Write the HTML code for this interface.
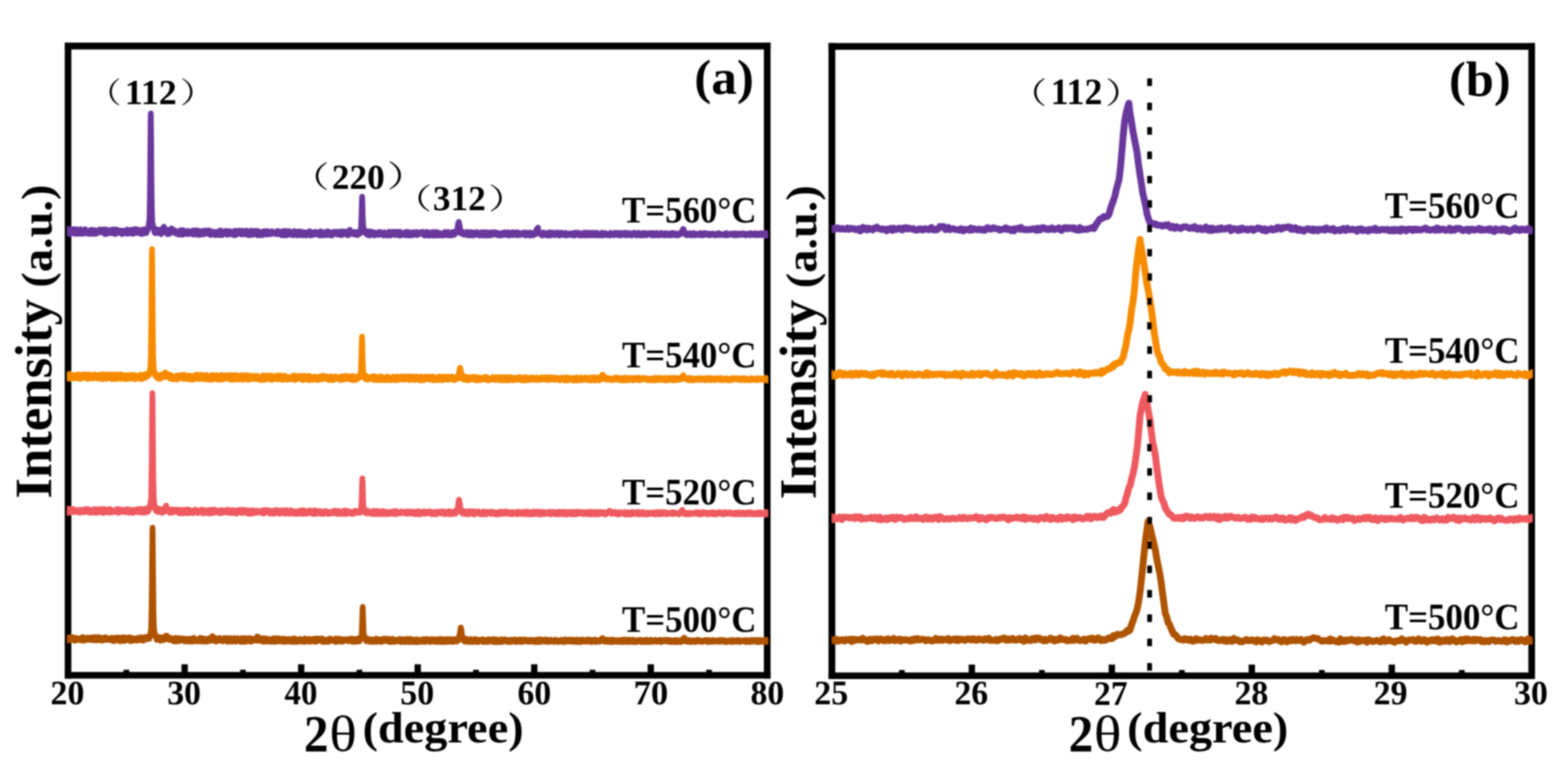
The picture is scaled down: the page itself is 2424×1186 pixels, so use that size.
<!DOCTYPE html>
<html lang="en"><head><meta charset="utf-8"><title>XRD patterns</title>
<style>html,body{margin:0;padding:0;background:#fff;overflow:hidden}svg{display:block}text{font-family:"Liberation Serif","Noto Serif CJK SC",serif;fill:#000}.b{font-weight:bold}.r{font-weight:normal}.cjk{font-family:"Noto Serif CJK SC","Liberation Serif",serif;font-weight:normal}.c{fill:none;stroke-linejoin:round;stroke-linecap:butt}</style></head><body>
<svg width="2424" height="1186" viewBox="0 0 2424 1186">
<rect x="0" y="0" width="2424" height="1186" fill="#fff"/>
<defs><filter id="soft" x="0" y="0" width="2424" height="1186" filterUnits="userSpaceOnUse"><feGaussianBlur stdDeviation="1.1"/></filter></defs>
<g filter="url(#soft)">
<g>
<rect x="100.10" y="65.90" width="1091.10" height="10.60" fill="#000"/>
<rect x="100.10" y="1039.10" width="1091.10" height="10.20" fill="#000"/>
<rect x="100.10" y="65.90" width="10.20" height="983.40" fill="#000"/>
<rect x="1180.90" y="65.90" width="10.30" height="983.40" fill="#000"/>
</g>
<g>
<rect x="1280.80" y="66.60" width="1092.20" height="10.40" fill="#000"/>
<rect x="1280.80" y="1039.80" width="1092.20" height="10.20" fill="#000"/>
<rect x="1280.80" y="66.60" width="10.50" height="983.40" fill="#000"/>
<rect x="2362.70" y="66.60" width="10.30" height="983.40" fill="#000"/>
</g>
<g>
<rect x="280.55" y="1027.20" width="9.80" height="12.80" fill="#000"/>
<rect x="460.70" y="1027.20" width="9.80" height="12.80" fill="#000"/>
<rect x="640.85" y="1027.20" width="9.80" height="12.80" fill="#000"/>
<rect x="821.00" y="1027.20" width="9.80" height="12.80" fill="#000"/>
<rect x="1001.15" y="1027.20" width="9.80" height="12.80" fill="#000"/>
<rect x="190.97" y="1035.60" width="8.80" height="4.40" fill="#000"/>
<rect x="371.13" y="1035.60" width="8.80" height="4.40" fill="#000"/>
<rect x="551.27" y="1035.60" width="8.80" height="4.40" fill="#000"/>
<rect x="731.42" y="1035.60" width="8.80" height="4.40" fill="#000"/>
<rect x="911.58" y="1035.60" width="8.80" height="4.40" fill="#000"/>
<rect x="1091.72" y="1035.60" width="8.80" height="4.40" fill="#000"/>
<rect x="1497.50" y="1027.60" width="9.80" height="12.90" fill="#000"/>
<rect x="1713.90" y="1027.60" width="9.80" height="12.90" fill="#000"/>
<rect x="1930.30" y="1027.60" width="9.80" height="12.90" fill="#000"/>
<rect x="2146.70" y="1027.60" width="9.80" height="12.90" fill="#000"/>
<rect x="1389.80" y="1036.00" width="8.80" height="4.50" fill="#000"/>
<rect x="1606.20" y="1036.00" width="8.80" height="4.50" fill="#000"/>
<rect x="1822.60" y="1036.00" width="8.80" height="4.50" fill="#000"/>
<rect x="2039.00" y="1036.00" width="8.80" height="4.50" fill="#000"/>
<rect x="2255.40" y="1036.00" width="8.80" height="4.50" fill="#000"/>
</g>
<defs><clipPath id="ca"><rect x="104.0" y="60" width="1083.0" height="1000"/></clipPath><clipPath id="cb"><rect x="1286.2" y="60" width="1082.7" height="1000"/></clipPath></defs>
<g clip-path="url(#ca)" stroke-width="8.7">
<polyline class="c" stroke="#AE5300" points="100.0,989.9 100.4,987.5 100.8,989.8 101.2,990.9 101.6,986.5 102.0,987.3 102.4,987.3 102.8,989.8 103.2,986.5 103.6,987.4 104.0,990.2 104.4,989.7 104.8,989.8 105.2,986.4 105.6,988.7 106.0,987.0 106.4,989.6 106.8,988.9 107.2,989.2 107.6,987.7 108.0,988.2 108.4,988.7 108.8,987.6 109.2,988.6 109.6,986.3 110.0,985.9 110.4,985.0 110.8,987.8 111.2,989.5 111.6,988.8 112.0,985.0 112.4,988.7 112.8,988.1 113.2,987.7 113.6,988.4 114.0,989.0 114.4,990.4 114.8,990.2 115.2,990.9 115.6,989.1 116.0,987.0 116.4,990.4 116.8,986.0 117.2,989.5 117.6,986.3 118.0,987.1 118.4,990.2 118.8,987.0 119.2,989.9 119.6,989.2 120.0,987.8 120.4,989.4 120.8,989.1 121.2,988.3 121.6,987.0 122.0,989.5 122.4,987.5 122.8,988.0 123.2,988.9 123.6,987.9 124.0,988.5 124.4,988.6 124.8,988.6 125.2,988.3 125.6,990.5 126.0,987.3 126.4,987.4 126.8,986.0 127.2,985.0 127.6,989.3 128.0,988.9 128.4,990.6 128.8,985.6 129.2,986.8 129.6,987.1 130.0,991.0 130.4,989.7 130.8,987.8 131.2,988.1 131.6,988.7 132.0,986.2 132.4,988.7 132.8,986.3 133.2,988.3 133.6,989.3 134.0,988.6 134.4,986.9 134.8,987.6 135.2,989.5 135.6,987.2 136.0,985.8 136.4,987.6 136.8,987.2 137.2,987.8 137.6,988.1 138.0,987.5 138.4,987.5 138.8,989.7 139.2,989.1 139.6,989.7 140.0,988.2 140.4,987.5 140.8,988.6 141.2,985.6 141.6,986.2 142.0,989.5 142.4,987.3 142.8,987.0 143.2,986.2 143.6,988.9 144.0,986.1 144.4,990.2 144.8,988.5 145.2,985.1 145.6,987.2 146.0,986.4 146.4,989.0 146.8,989.0 147.2,987.3 147.6,987.0 148.0,988.9 148.4,987.0 148.8,990.4 149.2,987.0 149.6,988.7 150.0,985.2 150.4,988.8 150.8,987.0 151.2,988.6 151.6,990.0 152.0,987.8 152.4,985.2 152.8,985.2 153.2,988.3 153.6,986.6 154.0,986.1 154.4,989.9 154.8,987.7 155.2,989.7 155.6,989.7 156.0,987.4 156.4,988.3 156.8,986.1 157.2,988.8 157.6,988.0 158.0,990.8 158.4,989.5 158.8,987.8 159.2,986.9 159.6,987.7 160.0,988.1 160.4,989.4 160.8,989.8 161.2,986.0 161.6,986.3 162.0,988.7 162.4,986.0 162.8,987.9 163.2,985.2 163.6,987.5 164.0,987.3 164.4,987.6 164.8,987.0 165.2,988.9 165.6,989.6 166.0,989.4 166.4,987.6 166.8,987.6 167.2,987.0 167.6,986.9 168.0,987.8 168.4,987.8 168.8,987.8 169.2,988.5 169.6,989.6 170.0,987.0 170.4,987.7 170.8,989.1 171.2,988.5 171.6,986.8 172.0,986.2 172.4,989.3 172.8,986.4 173.2,988.9 173.6,986.5 174.0,991.2 174.4,986.4 174.8,991.3 175.2,989.5 175.6,990.6 176.0,990.3 176.4,989.1 176.8,987.7 177.2,991.3 177.6,987.6 178.0,988.6 178.4,986.0 178.8,988.3 179.2,989.3 179.6,987.1 180.0,988.5 180.4,987.8 180.8,987.7 181.2,989.4 181.6,989.8 182.0,987.1 182.4,985.4 182.8,989.1 183.2,986.5 183.6,987.5 184.0,986.9 184.4,990.0 184.8,991.3 185.2,987.3 185.6,991.3 186.0,988.6 186.4,987.8 186.8,990.2 187.2,991.3 187.6,987.9 188.0,987.8 188.4,991.3 188.8,989.8 189.2,985.4 189.6,988.1 190.0,987.0 190.4,987.3 190.8,988.5 191.2,987.5 191.6,987.7 192.0,991.4 192.4,985.6 192.8,988.6 193.2,989.4 193.6,985.9 194.0,986.4 194.4,986.4 194.8,989.8 195.2,986.5 195.6,989.2 196.0,986.3 196.4,986.2 196.8,989.1 197.2,989.8 197.6,986.1 198.0,986.6 198.4,988.8 198.8,986.7 199.2,986.4 199.6,986.5 200.0,988.9 200.4,985.4 200.8,991.3 201.2,991.1 201.6,990.5 202.0,988.0 202.4,987.2 202.8,989.2 203.2,986.4 203.6,991.4 204.0,987.3 204.4,990.4 204.8,989.7 205.2,987.6 205.6,987.9 206.0,986.9 206.4,988.5 206.8,989.4 207.2,988.4 207.6,987.7 208.0,988.4 208.4,990.5 208.8,989.9 209.2,989.2 209.6,987.3 210.0,987.5 210.4,989.2 210.8,987.7 211.2,987.1 211.6,990.7 212.0,988.5 212.4,988.7 212.8,987.3 213.2,988.8 213.6,989.7 214.0,988.8 214.4,985.8 214.8,987.5 215.2,989.2 215.6,988.7 216.0,990.0 216.4,987.7 216.8,988.1 217.2,989.8 217.6,988.1 218.0,989.7 218.4,985.3 218.8,986.5 219.2,989.7 219.6,989.5 220.0,989.4 220.4,989.7 220.8,989.7 221.2,986.2 221.6,990.8 222.0,989.5 222.4,986.0 222.8,985.7 223.2,988.6 223.6,986.7 224.0,988.7 224.4,987.3 224.8,985.2 225.2,986.2 225.6,987.0 226.0,987.5 226.4,988.8 226.8,986.2 227.2,988.1 227.6,986.8 228.0,986.8 228.4,984.0 228.8,985.8 229.2,983.9 229.6,987.3 230.0,987.7 230.4,986.1 230.8,988.0 231.2,984.7 231.6,984.9 232.0,981.8 232.4,981.6 232.8,977.2 233.2,975.1 233.6,971.4 234.0,957.9 234.4,935.9 234.8,902.0 235.2,858.3 235.6,821.7 235.8,815.9 236.0,821.7 236.4,858.3 236.8,901.8 237.2,936.5 237.6,958.8 238.0,971.6 238.4,972.8 238.8,976.9 239.2,981.2 239.6,979.9 240.0,984.3 240.4,982.8 240.8,984.7 241.2,983.4 241.6,984.3 242.0,989.4 242.4,985.9 242.8,989.2 243.2,986.8 243.6,988.2 244.0,985.8 244.4,988.2 244.8,986.5 245.2,984.8 245.6,984.9 246.0,987.5 246.4,988.9 246.8,986.5 247.2,986.0 247.6,986.9 248.0,990.8 248.4,985.3 248.8,989.2 249.2,990.1 249.6,985.8 250.0,986.5 250.4,987.5 250.8,987.0 251.2,989.8 251.6,988.3 252.0,987.2 252.4,988.7 252.8,990.0 253.2,987.0 253.6,985.8 254.0,988.2 254.4,988.9 254.8,987.8 255.2,985.6 255.6,983.2 256.0,984.3 256.4,983.5 256.8,983.7 257.2,982.9 257.6,985.4 258.0,985.9 258.4,983.1 258.8,987.4 259.2,985.2 259.6,987.7 260.0,987.7 260.4,989.1 260.8,987.6 261.2,988.0 261.6,987.8 262.0,987.8 262.4,986.2 262.8,989.6 263.2,987.7 263.6,989.4 264.0,988.7 264.4,989.5 264.8,989.8 265.2,986.5 265.6,988.6 266.0,989.1 266.4,987.6 266.8,987.7 267.2,989.5 267.6,991.0 268.0,989.8 268.4,990.1 268.8,989.4 269.2,991.9 269.6,988.9 270.0,990.4 270.4,991.9 270.8,989.5 271.2,988.9 271.6,986.2 272.0,986.1 272.4,991.9 272.8,989.0 273.2,987.3 273.6,988.1 274.0,987.0 274.4,988.9 274.8,987.8 275.2,989.9 275.6,991.5 276.0,989.8 276.4,989.0 276.8,989.0 277.2,991.3 277.6,986.7 278.0,987.3 278.4,988.0 278.8,986.9 279.2,989.9 279.6,988.3 280.0,987.3 280.4,989.9 280.8,988.8 281.2,989.7 281.6,989.0 282.0,988.1 282.4,987.2 282.8,989.8 283.2,987.4 283.6,990.8 284.0,989.5 284.4,989.0 284.8,987.6 285.2,991.9 285.6,988.6 286.0,990.0 286.4,987.9 286.8,991.1 287.2,989.8 287.6,990.9 288.0,990.5 288.4,988.9 288.8,987.6 289.2,989.2 289.6,988.0 290.0,988.5 290.4,992.1 290.8,990.8 291.2,989.7 291.6,990.3 292.0,990.7 292.4,989.6 292.8,989.1 293.2,989.4 293.6,990.1 294.0,992.1 294.4,987.3 294.8,989.3 295.2,988.3 295.6,992.1 296.0,988.4 296.4,991.4 296.8,990.3 297.2,990.1 297.6,991.1 298.0,990.0 298.4,988.8 298.8,992.1 299.2,987.3 299.6,986.2 300.0,988.0 300.4,990.5 300.8,988.2 301.2,989.5 301.6,991.0 302.0,990.5 302.4,990.1 302.8,991.3 303.2,989.5 303.6,991.2 304.0,989.8 304.4,992.0 304.8,991.3 305.2,989.6 305.6,991.4 306.0,991.0 306.4,990.9 306.8,990.1 307.2,987.5 307.6,988.6 308.0,991.1 308.4,991.7 308.8,986.9 309.2,987.9 309.6,986.2 310.0,987.2 310.4,990.6 310.8,988.5 311.2,990.4 311.6,992.0 312.0,986.5 312.4,989.7 312.8,990.1 313.2,990.3 313.6,991.3 314.0,991.6 314.4,990.6 314.8,988.0 315.2,991.6 315.6,992.2 316.0,987.7 316.4,989.4 316.8,990.2 317.2,989.0 317.6,990.0 318.0,990.2 318.4,991.6 318.8,989.1 319.2,989.4 319.6,992.3 320.0,991.5 320.4,988.9 320.8,987.6 321.2,989.6 321.6,990.6 322.0,989.2 322.4,987.3 322.8,987.5 323.2,988.4 323.6,989.6 324.0,990.0 324.4,991.3 324.8,988.0 325.2,987.5 325.6,985.5 326.0,986.3 326.4,987.1 326.8,986.4 327.2,986.1 327.6,986.5 328.0,985.3 328.4,983.6 328.8,986.8 329.2,987.5 329.6,986.1 330.0,990.9 330.4,985.4 330.8,986.2 331.2,988.1 331.6,988.3 332.0,987.7 332.4,989.8 332.8,991.4 333.2,990.4 333.6,989.8 334.0,992.2 334.4,986.8 334.8,989.1 335.2,989.6 335.6,988.9 336.0,989.2 336.4,989.1 336.8,988.3 337.2,987.4 337.6,987.6 338.0,988.9 338.4,990.2 338.8,990.3 339.2,990.7 339.6,986.4 340.0,987.8 340.4,987.4 340.8,989.4 341.2,989.4 341.6,988.7 342.0,991.1 342.4,988.6 342.8,989.6 343.2,990.4 343.6,990.2 344.0,988.9 344.4,991.8 344.8,990.7 345.2,991.1 345.6,989.8 346.0,989.8 346.4,988.1 346.8,986.4 347.2,987.5 347.6,986.7 348.0,989.4 348.4,986.9 348.8,988.5 349.2,987.8 349.6,989.4 350.0,989.1 350.4,991.8 350.8,991.0 351.2,992.2 351.6,989.6 352.0,986.5 352.4,991.2 352.8,992.4 353.2,988.8 353.6,991.9 354.0,989.2 354.4,989.7 354.8,989.3 355.2,988.4 355.6,988.7 356.0,986.5 356.4,989.8 356.8,989.7 357.2,990.7 357.6,989.4 358.0,990.2 358.4,992.4 358.8,991.2 359.2,989.3 359.6,989.9 360.0,989.5 360.4,991.7 360.8,988.6 361.2,991.3 361.6,990.2 362.0,986.5 362.4,990.3 362.8,988.5 363.2,987.9 363.6,989.5 364.0,990.0 364.4,992.4 364.8,989.6 365.2,988.0 365.6,989.3 366.0,990.3 366.4,987.9 366.8,989.1 367.2,986.7 367.6,987.4 368.0,988.8 368.4,990.8 368.8,988.0 369.2,988.1 369.6,989.4 370.0,987.8 370.4,988.6 370.8,988.0 371.2,992.5 371.6,988.7 372.0,991.9 372.4,989.8 372.8,992.5 373.2,987.8 373.6,989.8 374.0,986.6 374.4,991.8 374.8,990.6 375.2,988.9 375.6,992.5 376.0,992.5 376.4,992.2 376.8,992.3 377.2,989.7 377.6,988.2 378.0,987.0 378.4,991.4 378.8,986.6 379.2,989.2 379.6,992.5 380.0,990.2 380.4,987.4 380.8,988.1 381.2,991.8 381.6,987.8 382.0,988.8 382.4,987.2 382.8,989.5 383.2,988.5 383.6,991.3 384.0,987.9 384.4,988.8 384.8,986.7 385.2,991.8 385.6,991.7 386.0,989.1 386.4,989.8 386.8,990.4 387.2,991.4 387.6,986.8 388.0,988.0 388.4,992.5 388.8,991.6 389.2,990.6 389.6,989.7 390.0,991.0 390.4,991.1 390.8,991.1 391.2,987.8 391.6,989.7 392.0,990.3 392.4,990.1 392.8,987.8 393.2,989.2 393.6,987.9 394.0,988.9 394.4,989.9 394.8,990.4 395.2,990.3 395.6,990.8 396.0,989.1 396.4,986.3 396.8,988.1 397.2,986.7 397.6,984.1 398.0,985.7 398.4,987.4 398.8,988.5 399.2,986.9 399.6,985.1 400.0,987.9 400.4,987.2 400.8,991.0 401.2,987.0 401.6,990.8 402.0,989.1 402.4,990.2 402.8,988.4 403.2,990.5 403.6,989.6 404.0,989.3 404.4,987.8 404.8,988.7 405.2,986.8 405.6,990.5 406.0,989.2 406.4,992.2 406.8,987.1 407.2,992.4 407.6,990.4 408.0,988.9 408.4,990.5 408.8,987.5 409.2,987.3 409.6,991.8 410.0,986.8 410.4,989.7 410.8,992.0 411.2,989.9 411.6,992.0 412.0,989.3 412.4,988.5 412.8,991.7 413.2,991.2 413.6,989.6 414.0,992.1 414.4,987.8 414.8,991.5 415.2,989.0 415.6,990.1 416.0,989.9 416.4,990.0 416.8,990.6 417.2,992.1 417.6,992.1 418.0,989.9 418.4,989.9 418.8,988.1 419.2,992.5 419.6,991.3 420.0,988.7 420.4,990.1 420.8,992.3 421.2,988.6 421.6,990.2 422.0,989.8 422.4,989.3 422.8,989.9 423.2,986.8 423.6,991.4 424.0,989.0 424.4,990.0 424.8,987.4 425.2,992.6 425.6,990.8 426.0,986.9 426.4,988.7 426.8,989.2 427.2,988.1 427.6,987.5 428.0,987.5 428.4,988.3 428.8,990.0 429.2,990.1 429.6,991.9 430.0,989.5 430.4,986.9 430.8,989.5 431.2,991.6 431.6,987.8 432.0,990.0 432.4,990.3 432.8,988.0 433.2,989.4 433.6,988.0 434.0,992.2 434.4,990.8 434.8,989.8 435.2,990.9 435.6,990.9 436.0,988.3 436.4,987.5 436.8,987.4 437.2,987.6 437.6,991.1 438.0,991.6 438.4,992.3 438.8,987.5 439.2,989.8 439.6,991.8 440.0,992.6 440.4,989.2 440.8,989.1 441.2,989.1 441.6,990.5 442.0,991.1 442.4,991.4 442.8,989.0 443.2,992.2 443.6,988.1 444.0,990.8 444.4,992.1 444.8,991.7 445.2,990.5 445.6,989.2 446.0,989.7 446.4,988.6 446.8,988.7 447.2,988.2 447.6,991.7 448.0,987.9 448.4,988.7 448.8,992.1 449.2,990.5 449.6,992.6 450.0,992.4 450.4,990.6 450.8,991.7 451.2,988.0 451.6,990.3 452.0,992.6 452.4,990.7 452.8,990.4 453.2,992.6 453.6,991.3 454.0,987.5 454.4,991.8 454.8,987.0 455.2,990.8 455.6,990.6 456.0,989.2 456.4,988.6 456.8,989.2 457.2,992.6 457.6,988.1 458.0,988.6 458.4,989.6 458.8,989.3 459.2,992.6 459.6,990.5 460.0,989.7 460.4,991.2 460.8,990.5 461.2,989.7 461.6,989.5 462.0,989.7 462.4,989.7 462.8,989.3 463.2,989.9 463.6,992.1 464.0,987.9 464.4,990.6 464.8,991.2 465.2,989.8 465.6,989.9 466.0,991.9 466.4,989.3 466.8,991.0 467.2,990.9 467.6,990.3 468.0,990.4 468.4,991.4 468.8,992.4 469.2,988.2 469.6,991.7 470.0,988.9 470.4,988.6 470.8,990.3 471.2,990.3 471.6,987.2 472.0,992.6 472.4,989.3 472.8,991.1 473.2,990.7 473.6,991.0 474.0,990.2 474.4,990.5 474.8,990.1 475.2,989.5 475.6,991.8 476.0,990.3 476.4,990.6 476.8,989.1 477.2,989.0 477.6,990.3 478.0,987.7 478.4,992.4 478.8,989.4 479.2,989.5 479.6,989.2 480.0,990.2 480.4,990.9 480.8,991.2 481.2,988.9 481.6,988.2 482.0,989.8 482.4,989.8 482.8,988.8 483.2,992.0 483.6,988.4 484.0,988.6 484.4,991.5 484.8,989.4 485.2,989.7 485.6,988.6 486.0,988.0 486.4,988.8 486.8,987.3 487.2,991.2 487.6,990.5 488.0,992.7 488.4,989.9 488.8,989.1 489.2,991.6 489.6,989.2 490.0,991.6 490.4,989.2 490.8,987.2 491.2,989.5 491.6,989.5 492.0,990.8 492.4,989.3 492.8,990.4 493.2,990.4 493.6,988.6 494.0,988.2 494.4,988.8 494.8,987.4 495.2,990.1 495.6,991.0 496.0,989.5 496.4,989.0 496.8,988.1 497.2,991.0 497.6,991.7 498.0,987.2 498.4,992.7 498.8,992.4 499.2,989.2 499.6,990.0 500.0,990.2 500.4,990.6 500.8,989.4 501.2,990.6 501.6,991.0 502.0,992.7 502.4,989.9 502.8,989.0 503.2,991.6 503.6,990.0 504.0,990.2 504.4,990.1 504.8,989.4 505.2,989.3 505.6,989.3 506.0,988.8 506.4,989.3 506.8,992.7 507.2,989.9 507.6,988.8 508.0,988.5 508.4,991.9 508.8,989.1 509.2,990.3 509.6,987.3 510.0,987.3 510.4,990.4 510.8,987.4 511.2,990.4 511.6,991.4 512.0,988.7 512.4,989.2 512.8,989.3 513.2,988.9 513.6,989.4 514.0,989.3 514.4,989.6 514.8,990.1 515.2,990.8 515.6,990.7 516.0,990.1 516.4,988.8 516.8,990.8 517.2,991.2 517.6,990.2 518.0,989.4 518.4,992.7 518.8,987.3 519.2,991.0 519.6,990.4 520.0,992.3 520.4,992.7 520.8,991.0 521.2,989.3 521.6,990.9 522.0,988.3 522.4,990.2 522.8,988.9 523.2,990.8 523.6,987.4 524.0,989.5 524.4,990.3 524.8,989.7 525.2,989.5 525.6,988.9 526.0,989.7 526.4,992.3 526.8,989.2 527.2,988.1 527.6,988.5 528.0,989.4 528.4,991.1 528.8,989.6 529.2,991.2 529.6,992.2 530.0,988.7 530.4,990.4 530.8,989.6 531.2,991.5 531.6,991.3 532.0,990.6 532.4,988.4 532.8,989.5 533.2,989.9 533.6,989.9 534.0,989.1 534.4,990.4 534.8,990.7 535.2,990.5 535.6,988.9 536.0,989.5 536.4,988.3 536.8,988.9 537.2,991.0 537.6,989.7 538.0,989.8 538.4,991.6 538.8,989.2 539.2,990.0 539.6,987.8 540.0,991.4 540.4,989.8 540.8,991.2 541.2,991.2 541.6,990.0 542.0,990.9 542.4,987.9 542.8,989.2 543.2,987.3 543.6,991.5 544.0,990.9 544.4,992.1 544.8,992.0 545.2,992.4 545.6,989.7 546.0,987.8 546.4,989.4 546.8,992.6 547.2,990.8 547.6,991.7 548.0,991.1 548.4,990.9 548.8,989.5 549.2,988.3 549.6,991.3 550.0,988.6 550.4,992.4 550.8,990.7 551.2,990.9 551.6,989.9 552.0,987.3 552.4,988.5 552.8,991.2 553.2,987.8 553.6,987.8 554.0,991.8 554.4,986.8 554.8,989.3 555.2,989.9 555.6,991.8 556.0,990.6 556.4,989.5 556.8,985.9 557.2,987.8 557.6,985.1 558.0,987.4 558.4,983.5 558.8,984.5 559.2,978.8 559.6,968.0 560.0,955.7 560.4,942.5 560.7,938.3 560.8,938.8 561.2,948.6 561.6,962.8 562.0,973.3 562.4,981.4 562.8,983.5 563.2,988.2 563.6,988.6 564.0,985.3 564.4,988.0 564.8,988.6 565.2,988.9 565.6,989.9 566.0,991.3 566.4,991.7 566.8,986.9 567.2,990.9 567.6,987.0 568.0,991.3 568.4,990.4 568.8,988.6 569.2,989.1 569.6,989.2 570.0,991.7 570.4,989.1 570.8,989.3 571.2,990.6 571.6,992.5 572.0,989.1 572.4,990.4 572.8,989.0 573.2,991.6 573.6,988.3 574.0,990.7 574.4,990.7 574.8,989.5 575.2,991.8 575.6,992.7 576.0,990.1 576.4,990.6 576.8,990.4 577.2,991.9 577.6,991.4 578.0,990.3 578.4,990.1 578.8,989.0 579.2,989.8 579.6,990.2 580.0,992.7 580.4,991.5 580.8,987.5 581.2,989.4 581.6,992.0 582.0,991.9 582.4,987.6 582.8,990.0 583.2,992.5 583.6,989.1 584.0,989.6 584.4,990.3 584.8,988.7 585.2,991.8 585.6,990.5 586.0,990.5 586.4,989.2 586.8,991.8 587.2,989.7 587.6,989.0 588.0,990.0 588.4,988.3 588.8,989.4 589.2,992.8 589.6,989.0 590.0,988.9 590.4,990.2 590.8,990.7 591.2,990.8 591.6,990.6 592.0,987.8 592.4,989.5 592.8,987.6 593.2,991.3 593.6,990.8 594.0,991.5 594.4,988.0 594.8,987.6 595.2,990.3 595.6,988.8 596.0,988.5 596.4,989.0 596.8,988.0 597.2,987.7 597.6,990.8 598.0,990.7 598.4,991.4 598.8,990.7 599.2,990.4 599.6,990.9 600.0,989.8 600.4,990.4 600.8,990.0 601.2,987.7 601.6,990.8 602.0,992.8 602.4,992.5 602.8,989.9 603.2,990.8 603.6,990.6 604.0,992.8 604.4,992.7 604.8,989.1 605.2,989.1 605.6,989.6 606.0,989.4 606.4,992.5 606.8,987.7 607.2,988.6 607.6,988.2 608.0,989.3 608.4,991.2 608.8,988.7 609.2,991.5 609.6,992.7 610.0,990.5 610.4,992.1 610.8,990.0 611.2,990.8 611.6,989.9 612.0,991.9 612.4,990.8 612.8,991.3 613.2,991.6 613.6,991.8 614.0,988.9 614.4,990.7 614.8,989.3 615.2,989.7 615.6,990.3 616.0,991.2 616.4,990.3 616.8,990.0 617.2,992.2 617.6,991.0 618.0,987.8 618.4,990.9 618.8,989.7 619.2,991.3 619.6,991.5 620.0,992.8 620.4,989.8 620.8,991.6 621.2,990.1 621.6,989.4 622.0,988.1 622.4,990.8 622.8,992.5 623.2,990.0 623.6,991.9 624.0,990.5 624.4,991.6 624.8,990.1 625.2,991.2 625.6,988.9 626.0,991.4 626.4,992.9 626.8,992.0 627.2,989.6 627.6,987.8 628.0,990.7 628.4,988.7 628.8,990.2 629.2,991.8 629.6,987.8 630.0,990.0 630.4,990.1 630.8,991.5 631.2,991.0 631.6,992.9 632.0,991.0 632.4,991.4 632.8,987.8 633.2,990.4 633.6,989.9 634.0,990.3 634.4,991.9 634.8,988.6 635.2,987.9 635.6,992.9 636.0,990.2 636.4,989.8 636.8,992.5 637.2,991.6 637.6,990.7 638.0,990.9 638.4,991.5 638.8,989.1 639.2,990.6 639.6,992.9 640.0,991.3 640.4,990.9 640.8,992.9 641.2,990.8 641.6,992.9 642.0,991.0 642.4,990.2 642.8,991.1 643.2,990.9 643.6,988.5 644.0,992.9 644.4,991.3 644.8,992.9 645.2,989.4 645.6,990.0 646.0,988.7 646.4,990.3 646.8,991.4 647.2,992.9 647.6,989.9 648.0,990.0 648.4,991.9 648.8,991.3 649.2,989.6 649.6,989.9 650.0,989.6 650.4,992.3 650.8,989.7 651.2,990.0 651.6,992.2 652.0,989.7 652.4,992.0 652.8,988.5 653.2,989.6 653.6,992.5 654.0,991.4 654.4,989.2 654.8,988.8 655.2,988.2 655.6,991.0 656.0,990.1 656.4,991.0 656.8,990.4 657.2,992.9 657.6,992.3 658.0,988.3 658.4,990.9 658.8,988.7 659.2,990.8 659.6,990.1 660.0,990.9 660.4,990.0 660.8,988.0 661.2,991.4 661.6,988.0 662.0,989.2 662.4,989.4 662.8,990.8 663.2,988.8 663.6,990.3 664.0,990.6 664.4,992.9 664.8,989.6 665.2,990.9 665.6,991.5 666.0,990.3 666.4,990.8 666.8,991.9 667.2,989.6 667.6,988.0 668.0,990.1 668.4,991.0 668.8,991.3 669.2,991.3 669.6,992.2 670.0,990.6 670.4,989.7 670.8,988.9 671.2,988.7 671.6,991.9 672.0,989.7 672.4,989.4 672.8,992.7 673.2,988.6 673.6,991.8 674.0,989.1 674.4,989.8 674.8,989.8 675.2,991.1 675.6,990.0 676.0,991.8 676.4,989.6 676.8,992.9 677.2,990.0 677.6,988.0 678.0,989.1 678.4,989.1 678.8,990.9 679.2,988.5 679.6,992.2 680.0,989.2 680.4,989.8 680.8,992.0 681.2,988.0 681.6,992.9 682.0,989.2 682.4,988.0 682.8,992.7 683.2,990.2 683.6,988.0 684.0,991.4 684.4,992.8 684.8,992.8 685.2,991.4 685.6,989.1 686.0,989.7 686.4,991.7 686.8,991.1 687.2,990.1 687.6,992.6 688.0,988.6 688.4,992.9 688.8,988.9 689.2,989.8 689.6,990.4 690.0,991.7 690.4,992.3 690.8,988.2 691.2,989.1 691.6,989.5 692.0,990.3 692.4,989.3 692.8,988.9 693.2,992.7 693.6,991.5 694.0,990.5 694.4,991.8 694.8,990.1 695.2,988.2 695.6,988.0 696.0,991.4 696.4,990.4 696.8,990.3 697.2,989.0 697.6,990.7 698.0,990.8 698.4,992.4 698.8,992.3 699.2,989.5 699.6,992.8 700.0,991.8 700.4,992.6 700.8,990.1 701.2,991.9 701.6,988.1 702.0,992.1 702.4,989.2 702.8,990.9 703.2,989.3 703.6,990.2 704.0,990.3 704.4,988.3 704.8,990.3 705.2,991.5 705.6,990.1 706.0,991.6 706.4,992.2 706.8,989.9 707.2,991.6 707.6,989.7 708.0,987.5 708.4,989.9 708.8,986.5 709.2,987.5 709.6,988.6 710.0,983.6 710.4,980.8 710.8,979.2 711.2,977.3 711.6,973.6 712.0,971.2 712.4,970.2 712.4,970.2 712.8,971.2 713.2,973.6 713.6,975.5 714.0,981.8 714.4,982.9 714.8,984.6 715.2,983.9 715.6,987.0 716.0,988.1 716.4,990.4 716.8,989.4 717.2,987.9 717.6,987.6 718.0,991.0 718.4,988.2 718.8,992.3 719.2,990.4 719.6,989.3 720.0,988.9 720.4,992.2 720.8,990.0 721.2,990.5 721.6,987.9 722.0,990.5 722.4,988.9 722.8,988.0 723.2,990.1 723.6,990.2 724.0,988.6 724.4,992.8 724.8,988.8 725.2,989.2 725.6,990.9 726.0,991.0 726.4,990.9 726.8,990.1 727.2,992.7 727.6,989.4 728.0,988.1 728.4,989.0 728.8,990.3 729.2,990.7 729.6,992.9 730.0,990.4 730.4,989.9 730.8,989.8 731.2,989.4 731.6,991.6 732.0,988.9 732.4,992.6 732.8,989.2 733.2,989.6 733.6,990.7 734.0,988.2 734.4,990.8 734.8,990.6 735.2,992.5 735.6,991.7 736.0,988.2 736.4,991.1 736.8,989.2 737.2,989.2 737.6,989.4 738.0,993.0 738.4,990.0 738.8,990.6 739.2,991.9 739.6,993.0 740.0,990.1 740.4,990.8 740.8,991.0 741.2,990.8 741.6,990.3 742.0,989.0 742.4,989.9 742.8,989.5 743.2,989.2 743.6,989.9 744.0,990.5 744.4,989.7 744.8,990.1 745.2,991.9 745.6,991.7 746.0,989.3 746.4,988.3 746.8,993.0 747.2,990.4 747.6,993.0 748.0,990.6 748.4,993.0 748.8,991.3 749.2,990.6 749.6,989.9 750.0,990.4 750.4,989.4 750.8,991.1 751.2,990.6 751.6,991.4 752.0,991.4 752.4,989.1 752.8,991.1 753.2,990.7 753.6,992.2 754.0,993.0 754.4,990.1 754.8,988.3 755.2,990.6 755.6,990.6 756.0,989.3 756.4,991.2 756.8,990.3 757.2,991.6 757.6,988.9 758.0,991.1 758.4,990.4 758.8,990.4 759.2,992.0 759.6,989.8 760.0,990.1 760.4,991.7 760.8,988.5 761.2,991.6 761.6,989.7 762.0,988.4 762.4,992.6 762.8,993.0 763.2,990.8 763.6,989.2 764.0,988.4 764.4,991.1 764.8,992.8 765.2,988.5 765.6,990.6 766.0,992.8 766.4,991.8 766.8,990.4 767.2,993.0 767.6,988.8 768.0,991.4 768.4,992.1 768.8,988.7 769.2,989.9 769.6,990.1 770.0,993.0 770.4,990.5 770.8,990.5 771.2,989.9 771.6,993.0 772.0,993.0 772.4,989.4 772.8,989.6 773.2,991.5 773.6,991.0 774.0,991.2 774.4,989.7 774.8,988.4 775.2,990.9 775.6,989.4 776.0,993.0 776.4,991.0 776.8,991.1 777.2,991.3 777.6,989.8 778.0,991.0 778.4,989.2 778.8,990.7 779.2,991.4 779.6,990.8 780.0,988.4 780.4,991.5 780.8,989.6 781.2,992.1 781.6,990.8 782.0,990.7 782.4,991.4 782.8,989.8 783.2,990.8 783.6,990.2 784.0,991.5 784.4,992.0 784.8,989.6 785.2,990.1 785.6,989.6 786.0,993.0 786.4,989.7 786.8,990.6 787.2,990.4 787.6,989.5 788.0,991.5 788.4,990.4 788.8,992.2 789.2,989.5 789.6,991.2 790.0,993.0 790.4,992.0 790.8,990.7 791.2,992.0 791.6,989.1 792.0,991.4 792.4,991.3 792.8,991.5 793.2,991.5 793.6,991.8 794.0,989.9 794.4,990.1 794.8,989.4 795.2,991.4 795.6,988.5 796.0,990.6 796.4,989.6 796.8,991.0 797.2,993.0 797.6,990.0 798.0,992.2 798.4,992.7 798.8,989.2 799.2,990.5 799.6,991.1 800.0,989.6 800.4,990.2 800.8,990.5 801.2,991.0 801.6,990.1 802.0,992.3 802.4,991.5 802.8,990.7 803.2,991.2 803.6,988.5 804.0,988.8 804.4,989.0 804.8,991.0 805.2,992.8 805.6,990.1 806.0,989.2 806.4,989.5 806.8,991.0 807.2,989.0 807.6,989.6 808.0,991.7 808.4,992.4 808.8,990.9 809.2,990.7 809.6,990.3 810.0,991.5 810.4,988.5 810.8,991.0 811.2,991.0 811.6,990.3 812.0,990.3 812.4,991.3 812.8,990.1 813.2,991.6 813.6,989.7 814.0,991.3 814.4,992.0 814.8,989.4 815.2,992.1 815.6,991.3 816.0,991.1 816.4,992.5 816.8,991.4 817.2,989.6 817.6,991.6 818.0,992.3 818.4,990.3 818.8,990.5 819.2,990.4 819.6,990.2 820.0,989.7 820.4,991.8 820.8,992.2 821.2,989.1 821.6,990.6 822.0,990.4 822.4,991.8 822.8,992.2 823.2,991.3 823.6,992.3 824.0,992.0 824.4,991.7 824.8,991.5 825.2,992.2 825.6,990.1 826.0,989.4 826.4,991.9 826.8,992.1 827.2,993.0 827.6,990.7 828.0,989.3 828.4,991.3 828.8,992.7 829.2,990.1 829.6,990.7 830.0,990.1 830.4,988.9 830.8,992.4 831.2,990.3 831.6,992.9 832.0,990.3 832.4,988.6 832.8,989.6 833.2,989.6 833.6,989.9 834.0,990.5 834.4,990.3 834.8,992.9 835.2,988.6 835.6,989.5 836.0,991.0 836.4,991.8 836.8,991.0 837.2,990.8 837.6,991.5 838.0,990.6 838.4,990.5 838.8,991.3 839.2,989.0 839.6,990.8 840.0,989.8 840.4,991.2 840.8,990.6 841.2,992.4 841.6,991.5 842.0,991.2 842.4,989.8 842.8,991.5 843.2,988.6 843.6,992.0 844.0,991.9 844.4,991.1 844.8,991.7 845.2,989.0 845.6,990.2 846.0,989.7 846.4,991.6 846.8,991.6 847.2,992.8 847.6,989.5 848.0,989.7 848.4,991.4 848.8,990.1 849.2,990.0 849.6,991.6 850.0,990.8 850.4,990.1 850.8,992.2 851.2,990.7 851.6,989.1 852.0,990.6 852.4,990.8 852.8,990.0 853.2,992.1 853.6,991.2 854.0,991.7 854.4,992.0 854.8,990.5 855.2,990.6 855.6,991.0 856.0,990.4 856.4,992.7 856.8,989.8 857.2,989.2 857.6,991.6 858.0,990.7 858.4,989.1 858.8,991.8 859.2,991.9 859.6,989.9 860.0,989.4 860.4,991.9 860.8,991.8 861.2,991.9 861.6,990.5 862.0,992.0 862.4,993.0 862.8,991.9 863.2,991.8 863.6,992.4 864.0,991.6 864.4,991.0 864.8,991.4 865.2,992.2 865.6,991.4 866.0,991.9 866.4,990.5 866.8,990.9 867.2,989.2 867.6,992.1 868.0,991.4 868.4,989.7 868.8,991.6 869.2,990.0 869.6,991.6 870.0,993.0 870.4,991.2 870.8,990.1 871.2,990.4 871.6,991.3 872.0,990.5 872.4,991.8 872.8,988.7 873.2,992.7 873.6,990.8 874.0,990.9 874.4,992.6 874.8,992.2 875.2,988.8 875.6,989.2 876.0,992.0 876.4,990.5 876.8,989.8 877.2,991.9 877.6,990.8 878.0,991.4 878.4,989.9 878.8,990.4 879.2,990.7 879.6,991.2 880.0,992.2 880.4,988.9 880.8,989.9 881.2,990.0 881.6,991.0 882.0,990.0 882.4,991.0 882.8,992.2 883.2,991.1 883.6,992.4 884.0,990.9 884.4,988.8 884.8,990.8 885.2,991.3 885.6,990.1 886.0,990.7 886.4,992.4 886.8,991.5 887.2,989.6 887.6,989.3 888.0,991.7 888.4,991.6 888.8,989.4 889.2,990.7 889.6,991.0 890.0,992.1 890.4,991.9 890.8,993.0 891.2,990.1 891.6,988.8 892.0,990.8 892.4,992.1 892.8,989.5 893.2,989.6 893.6,991.2 894.0,991.0 894.4,992.5 894.8,990.3 895.2,993.0 895.6,992.0 896.0,992.0 896.4,989.3 896.8,991.5 897.2,993.0 897.6,990.6 898.0,993.0 898.4,991.9 898.8,992.4 899.2,991.5 899.6,992.2 900.0,988.8 900.4,990.8 900.8,990.4 901.2,991.0 901.6,990.4 902.0,989.4 902.4,991.4 902.8,991.3 903.2,990.9 903.6,992.1 904.0,990.5 904.4,992.1 904.8,991.9 905.2,989.9 905.6,991.9 906.0,990.6 906.4,991.4 906.8,990.4 907.2,992.5 907.6,991.5 908.0,988.9 908.4,989.8 908.8,989.4 909.2,990.6 909.6,991.8 910.0,991.0 910.4,988.9 910.8,988.9 911.2,990.9 911.6,990.6 912.0,991.9 912.4,991.6 912.8,991.2 913.2,992.6 913.6,991.4 914.0,991.8 914.4,990.4 914.8,991.4 915.2,993.0 915.6,989.6 916.0,989.4 916.4,990.4 916.8,992.3 917.2,991.0 917.6,990.1 918.0,991.7 918.4,990.9 918.8,990.9 919.2,989.3 919.6,988.9 920.0,991.5 920.4,990.3 920.8,991.8 921.2,993.0 921.6,992.0 922.0,989.5 922.4,991.3 922.8,990.3 923.2,991.3 923.6,992.0 924.0,990.6 924.4,991.7 924.8,991.1 925.2,991.6 925.6,992.0 926.0,990.9 926.4,992.3 926.8,992.5 927.2,989.9 927.6,990.7 928.0,990.7 928.4,988.5 928.8,989.2 929.2,991.5 929.6,990.2 930.0,989.1 930.4,988.8 930.8,989.4 931.2,986.6 931.6,989.8 932.0,987.5 932.4,988.1 932.8,987.8 933.2,989.9 933.6,988.9 934.0,990.2 934.4,989.5 934.8,992.1 935.2,992.4 935.6,990.0 936.0,989.3 936.4,989.4 936.8,991.9 937.2,989.4 937.6,989.9 938.0,990.9 938.4,992.7 938.8,991.0 939.2,990.6 939.6,991.8 940.0,989.0 940.4,989.7 940.8,992.1 941.2,992.3 941.6,991.6 942.0,991.5 942.4,990.6 942.8,990.7 943.2,993.0 943.6,989.8 944.0,992.5 944.4,990.9 944.8,989.1 945.2,991.7 945.6,990.0 946.0,991.5 946.4,991.4 946.8,993.0 947.2,990.3 947.6,989.0 948.0,991.5 948.4,991.8 948.8,990.7 949.2,990.1 949.6,991.6 950.0,991.8 950.4,990.5 950.8,992.0 951.2,991.1 951.6,990.9 952.0,989.6 952.4,990.2 952.8,991.8 953.2,992.5 953.6,992.4 954.0,990.9 954.4,990.8 954.8,990.0 955.2,990.1 955.6,990.6 956.0,992.1 956.4,992.4 956.8,991.4 957.2,991.7 957.6,989.9 958.0,990.8 958.4,991.8 958.8,991.1 959.2,991.7 959.6,989.5 960.0,992.8 960.4,990.7 960.8,990.3 961.2,991.1 961.6,989.0 962.0,990.6 962.4,993.0 962.8,990.3 963.2,992.1 963.6,989.1 964.0,989.4 964.4,989.2 964.8,992.6 965.2,989.0 965.6,991.4 966.0,990.1 966.4,991.8 966.8,989.8 967.2,990.2 967.6,991.5 968.0,989.0 968.4,989.0 968.8,993.0 969.2,991.1 969.6,991.6 970.0,991.0 970.4,991.5 970.8,991.0 971.2,991.5 971.6,989.6 972.0,989.1 972.4,990.3 972.8,992.8 973.2,990.3 973.6,989.1 974.0,992.8 974.4,992.3 974.8,990.4 975.2,991.9 975.6,991.7 976.0,989.6 976.4,992.5 976.8,991.8 977.2,991.6 977.6,992.4 978.0,989.1 978.4,990.9 978.8,992.9 979.2,992.6 979.6,989.4 980.0,991.8 980.4,990.3 980.8,991.5 981.2,990.2 981.6,992.7 982.0,993.0 982.4,992.3 982.8,992.4 983.2,991.4 983.6,990.9 984.0,992.9 984.4,992.1 984.8,991.5 985.2,990.4 985.6,989.9 986.0,992.2 986.4,992.2 986.8,991.2 987.2,991.3 987.6,989.5 988.0,990.3 988.4,990.0 988.8,991.8 989.2,990.9 989.6,991.2 990.0,990.3 990.4,991.3 990.8,989.3 991.2,993.0 991.6,991.2 992.0,991.7 992.4,991.7 992.8,990.2 993.2,992.7 993.6,991.4 994.0,991.0 994.4,992.4 994.8,990.2 995.2,991.9 995.6,993.0 996.0,990.6 996.4,991.7 996.8,989.7 997.2,991.5 997.6,991.5 998.0,989.3 998.4,993.0 998.8,993.0 999.2,989.1 999.6,991.7 1000.0,990.7 1000.4,990.9 1000.8,991.7 1001.2,991.3 1001.6,991.0 1002.0,991.5 1002.4,990.8 1002.8,991.4 1003.2,990.4 1003.6,992.2 1004.0,993.0 1004.4,991.2 1004.8,990.9 1005.2,992.7 1005.6,989.2 1006.0,991.0 1006.4,989.9 1006.8,990.6 1007.2,990.0 1007.6,990.9 1008.0,992.6 1008.4,990.2 1008.8,990.9 1009.2,992.5 1009.6,991.8 1010.0,992.0 1010.4,991.0 1010.8,990.6 1011.2,990.7 1011.6,990.7 1012.0,989.7 1012.4,989.2 1012.8,990.6 1013.2,991.4 1013.6,990.5 1014.0,992.4 1014.4,992.5 1014.8,991.2 1015.2,990.8 1015.6,991.7 1016.0,990.6 1016.4,990.9 1016.8,990.2 1017.2,990.4 1017.6,991.8 1018.0,990.7 1018.4,991.7 1018.8,991.2 1019.2,991.2 1019.6,991.5 1020.0,989.2 1020.4,990.7 1020.8,991.5 1021.2,992.8 1021.6,991.8 1022.0,993.0 1022.4,992.6 1022.8,991.3 1023.2,989.8 1023.6,990.9 1024.0,990.9 1024.4,991.3 1024.8,991.6 1025.2,989.7 1025.6,991.7 1026.0,990.9 1026.4,990.4 1026.8,989.8 1027.2,991.4 1027.6,990.6 1028.0,989.2 1028.4,991.2 1028.8,991.0 1029.2,989.3 1029.6,991.9 1030.0,990.9 1030.4,991.6 1030.8,989.8 1031.2,990.6 1031.6,991.6 1032.0,991.9 1032.4,990.4 1032.8,989.3 1033.2,991.4 1033.6,990.9 1034.0,992.7 1034.4,990.0 1034.8,991.7 1035.2,989.5 1035.6,991.5 1036.0,990.8 1036.4,991.4 1036.8,991.1 1037.2,991.0 1037.6,992.9 1038.0,992.5 1038.4,991.2 1038.8,990.1 1039.2,990.3 1039.6,992.3 1040.0,991.2 1040.4,990.4 1040.8,990.4 1041.2,992.7 1041.6,991.3 1042.0,990.2 1042.4,992.8 1042.8,991.6 1043.2,989.6 1043.6,989.8 1044.0,991.5 1044.4,990.4 1044.8,990.7 1045.2,993.0 1045.6,993.0 1046.0,993.0 1046.4,991.7 1046.8,991.5 1047.2,989.9 1047.6,989.9 1048.0,991.3 1048.4,991.4 1048.8,992.2 1049.2,992.1 1049.6,991.7 1050.0,991.9 1050.4,991.5 1050.8,992.6 1051.2,990.0 1051.6,993.0 1052.0,991.9 1052.4,989.7 1052.8,991.5 1053.2,992.9 1053.6,990.4 1054.0,991.4 1054.4,990.5 1054.8,991.8 1055.2,990.0 1055.6,988.4 1056.0,989.0 1056.4,988.4 1056.8,987.6 1057.2,986.6 1057.6,985.8 1058.0,987.6 1058.4,986.4 1058.8,987.9 1059.2,989.5 1059.6,991.2 1060.0,991.4 1060.4,988.9 1060.8,992.0 1061.2,989.2 1061.6,991.4 1062.0,991.3 1062.4,992.2 1062.8,991.4 1063.2,992.4 1063.6,990.6 1064.0,991.1 1064.4,992.2 1064.8,990.7 1065.2,990.7 1065.6,991.3 1066.0,989.6 1066.4,991.0 1066.8,990.1 1067.2,992.8 1067.6,992.6 1068.0,992.0 1068.4,993.0 1068.8,991.5 1069.2,990.9 1069.6,991.6 1070.0,991.6 1070.4,990.9 1070.8,991.6 1071.2,990.0 1071.6,990.2 1072.0,991.6 1072.4,989.9 1072.8,992.4 1073.2,991.7 1073.6,990.6 1074.0,992.4 1074.4,991.5 1074.8,993.0 1075.2,991.0 1075.6,990.7 1076.0,991.7 1076.4,990.2 1076.8,992.4 1077.2,991.7 1077.6,989.4 1078.0,991.2 1078.4,991.5 1078.8,989.9 1079.2,990.9 1079.6,990.9 1080.0,989.4 1080.4,991.5 1080.8,991.2 1081.2,990.5 1081.6,990.8 1082.0,991.3 1082.4,992.4 1082.8,991.7 1083.2,991.0 1083.6,990.9 1084.0,990.7 1084.4,992.3 1084.8,991.6 1085.2,990.7 1085.6,992.7 1086.0,992.1 1086.4,990.4 1086.8,991.8 1087.2,991.5 1087.6,991.7 1088.0,992.0 1088.4,990.9 1088.8,990.7 1089.2,990.1 1089.6,991.6 1090.0,991.2 1090.4,989.4 1090.8,991.3 1091.2,991.7 1091.6,991.4 1092.0,991.0 1092.4,992.0 1092.8,990.7 1093.2,989.7 1093.6,992.9 1094.0,989.8 1094.4,991.6 1094.8,993.0 1095.2,990.8 1095.6,992.6 1096.0,991.1 1096.4,991.0 1096.8,989.5 1097.2,992.0 1097.6,990.6 1098.0,992.1 1098.4,990.4 1098.8,991.4 1099.2,991.5 1099.6,992.7 1100.0,992.2 1100.4,990.1 1100.8,992.3 1101.2,991.2 1101.6,990.6 1102.0,990.8 1102.4,992.3 1102.8,989.6 1103.2,990.8 1103.6,990.2 1104.0,991.3 1104.4,991.0 1104.8,990.1 1105.2,991.0 1105.6,991.1 1106.0,990.9 1106.4,991.4 1106.8,992.5 1107.2,991.3 1107.6,991.3 1108.0,991.9 1108.4,991.0 1108.8,991.0 1109.2,990.7 1109.6,990.6 1110.0,990.5 1110.4,991.4 1110.8,989.5 1111.2,990.8 1111.6,991.4 1112.0,992.3 1112.4,992.7 1112.8,989.7 1113.2,990.6 1113.6,991.1 1114.0,989.5 1114.4,990.5 1114.8,991.4 1115.2,991.0 1115.6,989.5 1116.0,992.0 1116.4,990.3 1116.8,991.3 1117.2,989.5 1117.6,991.2 1118.0,992.1 1118.4,992.2 1118.8,992.1 1119.2,991.8 1119.6,990.3 1120.0,989.8 1120.4,992.7 1120.8,990.0 1121.2,990.3 1121.6,992.0 1122.0,991.3 1122.4,992.6 1122.8,990.8 1123.2,992.3 1123.6,993.0 1124.0,990.6 1124.4,991.2 1124.8,990.7 1125.2,991.1 1125.6,990.8 1126.0,992.0 1126.4,992.2 1126.8,991.5 1127.2,992.1 1127.6,990.3 1128.0,991.7 1128.4,990.7 1128.8,992.4 1129.2,991.7 1129.6,989.6 1130.0,991.3 1130.4,990.0 1130.8,991.0 1131.2,992.3 1131.6,993.0 1132.0,991.8 1132.4,991.8 1132.8,991.8 1133.2,991.1 1133.6,989.6 1134.0,992.2 1134.4,991.5 1134.8,991.3 1135.2,991.6 1135.6,991.8 1136.0,991.4 1136.4,992.3 1136.8,991.3 1137.2,992.5 1137.6,991.0 1138.0,991.0 1138.4,990.3 1138.8,990.5 1139.2,989.6 1139.6,990.1 1140.0,991.1 1140.4,992.2 1140.8,990.5 1141.2,991.0 1141.6,991.1 1142.0,991.3 1142.4,989.6 1142.8,990.8 1143.2,993.0 1143.6,992.3 1144.0,990.7 1144.4,991.5 1144.8,992.3 1145.2,991.1 1145.6,991.9 1146.0,991.5 1146.4,990.5 1146.8,991.4 1147.2,990.2 1147.6,991.3 1148.0,991.7 1148.4,990.8 1148.8,991.8 1149.2,991.6 1149.6,991.4 1150.0,990.9 1150.4,990.5 1150.8,991.5 1151.2,991.5 1151.6,992.3 1152.0,989.6 1152.4,991.6 1152.8,991.0 1153.2,990.9 1153.6,990.1 1154.0,993.0 1154.4,992.0 1154.8,991.4 1155.2,991.8 1155.6,989.8 1156.0,991.2 1156.4,991.6 1156.8,991.3 1157.2,990.0 1157.6,991.0 1158.0,993.0 1158.4,992.3 1158.8,991.7 1159.2,992.0 1159.6,993.0 1160.0,991.9 1160.4,990.8 1160.8,989.7 1161.2,991.5 1161.6,991.3 1162.0,989.6 1162.4,990.9 1162.8,991.3 1163.2,991.0 1163.6,989.6 1164.0,990.1 1164.4,990.1 1164.8,992.5 1165.2,991.1 1165.6,990.2 1166.0,991.9 1166.4,989.6 1166.8,990.9 1167.2,991.8 1167.6,990.3 1168.0,990.3 1168.4,989.6 1168.8,990.5 1169.2,992.0 1169.6,991.6 1170.0,992.3 1170.4,990.7 1170.8,993.1 1171.2,989.7 1171.6,990.3 1172.0,989.7 1172.4,991.7 1172.8,991.5 1173.2,993.1 1173.6,990.8 1174.0,990.9 1174.4,989.7 1174.8,989.7 1175.2,991.3 1175.6,990.5 1176.0,991.8 1176.4,990.2 1176.8,991.6 1177.2,991.4 1177.6,989.7 1178.0,991.9 1178.4,992.4 1178.8,991.4 1179.2,992.0 1179.6,991.9 1180.0,991.0 1180.4,991.9 1180.8,993.1 1181.2,990.2 1181.6,991.7 1182.0,990.9 1182.4,991.3 1182.8,990.9 1183.2,990.9 1183.6,991.4 1184.0,990.7 1184.4,991.6 1184.8,989.7 1185.2,992.1 1185.6,990.7 1186.0,990.6 1186.4,992.4 1186.8,992.1 1187.2,991.9 1187.6,991.9 1188.0,991.5 1188.4,990.4 1188.8,991.9 1189.2,991.7 1189.6,991.9 1190.0,991.1 1190.4,991.1 1190.8,990.6"/>
<polyline class="c" stroke="#EE5A5E" points="100.0,791.0 100.4,789.0 100.8,788.0 101.2,789.6 101.6,789.5 102.0,791.0 102.4,792.1 102.8,789.1 103.2,791.7 103.6,788.1 104.0,792.9 104.4,787.4 104.8,789.0 105.2,790.3 105.6,789.2 106.0,787.9 106.4,791.1 106.8,788.2 107.2,791.5 107.6,787.4 108.0,791.6 108.4,791.3 108.8,790.8 109.2,791.7 109.6,789.5 110.0,789.8 110.4,791.8 110.8,788.1 111.2,789.4 111.6,789.5 112.0,789.5 112.4,789.4 112.8,786.9 113.2,789.8 113.6,790.3 114.0,792.0 114.4,791.2 114.8,788.8 115.2,789.4 115.6,788.3 116.0,789.2 116.4,788.8 116.8,791.7 117.2,790.5 117.6,790.9 118.0,789.2 118.4,789.6 118.8,790.7 119.2,788.5 119.6,790.8 120.0,791.4 120.4,788.9 120.8,789.9 121.2,788.4 121.6,792.7 122.0,790.6 122.4,791.8 122.8,789.5 123.2,788.4 123.6,789.7 124.0,792.3 124.4,792.7 124.8,791.3 125.2,789.9 125.6,790.6 126.0,791.8 126.4,788.2 126.8,791.5 127.2,788.6 127.6,790.4 128.0,791.2 128.4,790.5 128.8,790.1 129.2,792.2 129.6,789.3 130.0,789.4 130.4,788.4 130.8,790.3 131.2,791.3 131.6,789.8 132.0,787.0 132.4,790.7 132.8,791.1 133.2,788.6 133.6,789.6 134.0,790.1 134.4,788.7 134.8,790.5 135.2,790.2 135.6,788.0 136.0,787.0 136.4,788.4 136.8,792.4 137.2,792.0 137.6,789.5 138.0,788.2 138.4,792.5 138.8,791.2 139.2,792.1 139.6,793.0 140.0,790.8 140.4,790.2 140.8,788.7 141.2,790.3 141.6,788.3 142.0,791.8 142.4,789.6 142.8,792.7 143.2,789.4 143.6,790.8 144.0,788.7 144.4,791.5 144.8,788.6 145.2,792.2 145.6,791.0 146.0,787.1 146.4,787.7 146.8,790.5 147.2,789.9 147.6,793.0 148.0,788.5 148.4,789.7 148.8,790.0 149.2,790.4 149.6,793.0 150.0,789.9 150.4,787.3 150.8,792.7 151.2,790.8 151.6,787.5 152.0,788.9 152.4,789.5 152.8,790.3 153.2,791.4 153.6,789.7 154.0,789.2 154.4,788.4 154.8,789.8 155.2,790.2 155.6,790.9 156.0,787.1 156.4,788.6 156.8,790.9 157.2,793.0 157.6,791.6 158.0,787.1 158.4,787.1 158.8,791.1 159.2,790.2 159.6,790.2 160.0,793.1 160.4,788.3 160.8,792.2 161.2,790.3 161.6,789.1 162.0,787.1 162.4,788.1 162.8,792.7 163.2,790.3 163.6,791.5 164.0,791.1 164.4,789.9 164.8,791.6 165.2,790.7 165.6,789.8 166.0,789.6 166.4,788.9 166.8,790.6 167.2,789.8 167.6,792.0 168.0,789.6 168.4,788.6 168.8,787.2 169.2,791.4 169.6,793.1 170.0,790.1 170.4,787.2 170.8,791.7 171.2,789.0 171.6,791.3 172.0,790.8 172.4,791.4 172.8,790.4 173.2,789.7 173.6,792.0 174.0,789.7 174.4,792.2 174.8,789.1 175.2,790.4 175.6,788.9 176.0,791.8 176.4,789.0 176.8,788.8 177.2,791.8 177.6,790.8 178.0,790.0 178.4,788.5 178.8,790.1 179.2,790.9 179.6,791.3 180.0,789.0 180.4,791.0 180.8,787.2 181.2,790.3 181.6,788.6 182.0,791.4 182.4,789.5 182.8,793.2 183.2,790.5 183.6,790.7 184.0,787.2 184.4,787.8 184.8,791.9 185.2,789.0 185.6,792.1 186.0,789.0 186.4,791.2 186.8,788.8 187.2,790.9 187.6,791.3 188.0,791.7 188.4,788.9 188.8,788.0 189.2,791.1 189.6,790.6 190.0,791.3 190.4,788.1 190.8,791.5 191.2,789.9 191.6,788.4 192.0,789.4 192.4,791.8 192.8,790.5 193.2,790.5 193.6,790.4 194.0,789.5 194.4,792.3 194.8,790.3 195.2,787.7 195.6,787.8 196.0,789.3 196.4,789.6 196.8,791.5 197.2,787.3 197.6,791.5 198.0,792.2 198.4,789.4 198.8,792.4 199.2,789.1 199.6,790.0 200.0,789.4 200.4,793.0 200.8,792.2 201.2,792.1 201.6,788.3 202.0,790.4 202.4,788.3 202.8,790.5 203.2,791.2 203.6,792.6 204.0,790.0 204.4,790.6 204.8,790.0 205.2,788.4 205.6,793.1 206.0,790.9 206.4,792.7 206.8,791.7 207.2,788.0 207.6,789.2 208.0,791.4 208.4,791.7 208.8,791.4 209.2,790.2 209.6,791.7 210.0,788.5 210.4,789.8 210.8,788.2 211.2,791.9 211.6,790.9 212.0,791.4 212.4,789.7 212.8,787.2 213.2,788.8 213.6,790.5 214.0,790.3 214.4,791.8 214.8,792.1 215.2,789.2 215.6,791.5 216.0,787.2 216.4,791.3 216.8,787.1 217.2,791.0 217.6,787.1 218.0,791.0 218.4,792.9 218.8,789.8 219.2,791.3 219.6,792.0 220.0,787.0 220.4,787.0 220.8,790.0 221.2,788.0 221.6,789.2 222.0,792.9 222.4,792.8 222.8,791.0 223.2,788.6 223.6,790.7 224.0,790.4 224.4,789.4 224.8,792.5 225.2,786.6 225.6,792.3 226.0,788.7 226.4,791.6 226.8,789.0 227.2,788.1 227.6,787.8 228.0,789.3 228.4,789.2 228.8,791.3 229.2,790.9 229.6,787.7 230.0,785.3 230.4,787.1 230.8,787.4 231.2,782.6 231.6,784.6 232.0,785.6 232.4,780.7 232.8,776.0 233.2,775.5 233.6,768.2 234.0,748.0 234.4,719.4 234.8,676.4 235.2,630.2 235.6,607.7 235.6,607.8 236.0,630.3 236.4,676.4 236.8,721.2 237.2,746.6 237.6,766.1 238.0,773.9 238.4,775.8 238.8,782.9 239.2,783.7 239.6,782.4 240.0,782.6 240.4,788.1 240.8,789.9 241.2,787.7 241.6,787.5 242.0,789.5 242.4,787.3 242.8,787.8 243.2,790.6 243.6,787.0 244.0,791.3 244.4,789.9 244.8,791.8 245.2,786.5 245.6,792.0 246.0,789.6 246.4,790.9 246.8,788.4 247.2,788.1 247.6,792.0 248.0,790.9 248.4,791.0 248.8,791.3 249.2,791.2 249.6,787.3 250.0,789.6 250.4,789.6 250.8,793.1 251.2,792.6 251.6,788.6 252.0,787.5 252.4,791.4 252.8,791.0 253.2,792.1 253.6,787.2 254.0,791.5 254.4,788.3 254.8,789.4 255.2,786.8 255.6,784.7 256.0,783.4 256.4,787.0 256.8,781.5 257.2,786.9 257.6,786.8 258.0,785.1 258.4,788.6 258.8,787.9 259.2,786.5 259.6,788.9 260.0,790.9 260.4,790.2 260.8,789.0 261.2,791.7 261.6,791.8 262.0,792.7 262.4,791.0 262.8,793.3 263.2,789.3 263.6,789.8 264.0,788.0 264.4,790.5 264.8,790.7 265.2,790.5 265.6,788.3 266.0,792.4 266.4,787.6 266.8,788.9 267.2,787.6 267.6,792.5 268.0,792.0 268.4,790.2 268.8,791.2 269.2,788.4 269.6,788.7 270.0,788.8 270.4,791.2 270.8,789.9 271.2,790.9 271.6,788.7 272.0,788.2 272.4,791.4 272.8,791.2 273.2,791.4 273.6,789.5 274.0,791.1 274.4,787.8 274.8,788.7 275.2,791.2 275.6,788.9 276.0,788.5 276.4,789.0 276.8,793.6 277.2,789.9 277.6,791.2 278.0,790.4 278.4,793.7 278.8,790.5 279.2,792.6 279.6,792.4 280.0,791.5 280.4,790.8 280.8,788.0 281.2,791.8 281.6,793.7 282.0,791.8 282.4,793.7 282.8,792.1 283.2,792.5 283.6,790.0 284.0,790.6 284.4,791.7 284.8,792.9 285.2,789.0 285.6,788.2 286.0,790.6 286.4,790.6 286.8,791.7 287.2,793.7 287.6,789.8 288.0,793.7 288.4,791.9 288.8,790.9 289.2,787.8 289.6,793.5 290.0,793.7 290.4,791.7 290.8,791.8 291.2,790.1 291.6,787.8 292.0,789.4 292.4,788.2 292.8,788.4 293.2,789.3 293.6,789.8 294.0,791.8 294.4,793.2 294.8,790.4 295.2,792.3 295.6,790.2 296.0,790.3 296.4,791.4 296.8,789.7 297.2,791.3 297.6,790.0 298.0,789.3 298.4,789.6 298.8,793.6 299.2,791.3 299.6,790.0 300.0,791.1 300.4,789.5 300.8,790.0 301.2,790.2 301.6,787.9 302.0,790.5 302.4,791.6 302.8,791.3 303.2,790.6 303.6,792.7 304.0,789.4 304.4,792.8 304.8,792.6 305.2,791.2 305.6,793.5 306.0,789.4 306.4,791.3 306.8,790.6 307.2,789.5 307.6,790.3 308.0,791.6 308.4,791.6 308.8,792.0 309.2,789.7 309.6,790.7 310.0,790.7 310.4,789.7 310.8,790.8 311.2,787.9 311.6,788.8 312.0,790.0 312.4,790.2 312.8,792.0 313.2,789.9 313.6,793.9 314.0,788.3 314.4,793.9 314.8,789.2 315.2,788.9 315.6,789.6 316.0,789.8 316.4,790.4 316.8,790.1 317.2,791.7 317.6,792.3 318.0,789.0 318.4,793.1 318.8,791.3 319.2,790.9 319.6,792.4 320.0,790.7 320.4,793.4 320.8,788.8 321.2,793.1 321.6,790.1 322.0,792.2 322.4,790.1 322.8,793.9 323.2,791.6 323.6,792.3 324.0,789.1 324.4,788.3 324.8,791.4 325.2,793.6 325.6,791.2 326.0,788.4 326.4,793.9 326.8,790.1 327.2,792.3 327.6,789.5 328.0,789.7 328.4,791.5 328.8,788.0 329.2,789.2 329.6,790.2 330.0,790.2 330.4,788.1 330.8,792.9 331.2,790.6 331.6,790.6 332.0,788.0 332.4,790.8 332.8,792.1 333.2,792.4 333.6,792.0 334.0,790.8 334.4,790.5 334.8,791.2 335.2,792.1 335.6,790.5 336.0,790.5 336.4,791.6 336.8,790.5 337.2,791.4 337.6,791.1 338.0,789.3 338.4,793.5 338.8,792.1 339.2,789.3 339.6,789.2 340.0,790.1 340.4,789.9 340.8,789.2 341.2,791.3 341.6,790.3 342.0,789.3 342.4,793.6 342.8,790.3 343.2,791.5 343.6,788.6 344.0,789.0 344.4,789.1 344.8,792.5 345.2,792.1 345.6,790.5 346.0,790.4 346.4,791.5 346.8,789.4 347.2,790.5 347.6,792.5 348.0,789.4 348.4,792.0 348.8,790.7 349.2,791.2 349.6,790.7 350.0,792.4 350.4,792.4 350.8,791.9 351.2,788.2 351.6,791.1 352.0,793.0 352.4,789.2 352.8,788.3 353.2,790.5 353.6,792.3 354.0,788.7 354.4,791.5 354.8,790.4 355.2,790.9 355.6,791.6 356.0,790.6 356.4,790.0 356.8,791.2 357.2,793.6 357.6,792.0 358.0,792.2 358.4,789.4 358.8,790.1 359.2,788.7 359.6,792.6 360.0,792.7 360.4,791.7 360.8,792.3 361.2,790.3 361.6,790.4 362.0,793.1 362.4,790.3 362.8,792.8 363.2,793.9 363.6,789.1 364.0,789.5 364.4,794.0 364.8,792.7 365.2,793.7 365.6,793.9 366.0,790.6 366.4,794.2 366.8,793.5 367.2,792.9 367.6,791.7 368.0,790.5 368.4,789.8 368.8,788.7 369.2,789.7 369.6,789.8 370.0,791.4 370.4,789.9 370.8,788.3 371.2,791.4 371.6,788.3 372.0,790.5 372.4,792.3 372.8,788.5 373.2,789.1 373.6,791.0 374.0,793.4 374.4,790.9 374.8,790.4 375.2,791.6 375.6,788.3 376.0,788.6 376.4,792.3 376.8,792.5 377.2,792.2 377.6,791.4 378.0,791.9 378.4,788.4 378.8,789.3 379.2,790.5 379.6,792.8 380.0,791.5 380.4,791.2 380.8,789.3 381.2,791.4 381.6,791.8 382.0,792.2 382.4,791.0 382.8,794.2 383.2,789.2 383.6,792.8 384.0,789.0 384.4,789.1 384.8,792.5 385.2,790.6 385.6,790.0 386.0,791.3 386.4,794.3 386.8,790.2 387.2,790.7 387.6,793.4 388.0,790.3 388.4,794.3 388.8,789.1 389.2,791.0 389.6,793.0 390.0,790.9 390.4,790.5 390.8,788.9 391.2,791.1 391.6,792.8 392.0,790.9 392.4,789.6 392.8,793.6 393.2,792.8 393.6,792.3 394.0,791.0 394.4,789.9 394.8,793.3 395.2,791.5 395.6,790.7 396.0,791.0 396.4,792.0 396.8,792.8 397.2,791.3 397.6,790.7 398.0,789.4 398.4,790.9 398.8,791.0 399.2,791.9 399.6,791.3 400.0,790.5 400.4,791.2 400.8,792.4 401.2,791.2 401.6,791.1 402.0,790.9 402.4,790.8 402.8,792.0 403.2,792.4 403.6,790.9 404.0,791.1 404.4,792.0 404.8,792.7 405.2,793.7 405.6,789.2 406.0,792.8 406.4,790.6 406.8,792.5 407.2,793.0 407.6,794.4 408.0,790.6 408.4,793.1 408.8,788.6 409.2,791.5 409.6,788.6 410.0,790.2 410.4,789.6 410.8,789.0 411.2,791.4 411.6,789.6 412.0,789.5 412.4,790.1 412.8,790.6 413.2,792.3 413.6,790.7 414.0,789.9 414.4,788.7 414.8,792.4 415.2,791.9 415.6,792.5 416.0,790.3 416.4,793.5 416.8,792.4 417.2,794.4 417.6,790.9 418.0,792.9 418.4,794.2 418.8,791.1 419.2,791.4 419.6,790.6 420.0,791.0 420.4,792.8 420.8,791.8 421.2,789.7 421.6,794.4 422.0,790.3 422.4,793.4 422.8,791.6 423.2,792.7 423.6,792.5 424.0,792.9 424.4,792.9 424.8,794.4 425.2,790.4 425.6,789.4 426.0,788.8 426.4,788.7 426.8,792.4 427.2,788.8 427.6,788.9 428.0,792.0 428.4,791.1 428.8,791.7 429.2,788.8 429.6,789.4 430.0,789.0 430.4,791.5 430.8,791.5 431.2,792.2 431.6,793.6 432.0,794.5 432.4,790.7 432.8,792.7 433.2,793.1 433.6,791.4 434.0,789.9 434.4,793.0 434.8,793.1 435.2,792.5 435.6,790.4 436.0,788.8 436.4,789.9 436.8,793.6 437.2,793.6 437.6,789.9 438.0,792.0 438.4,793.8 438.8,793.8 439.2,790.1 439.6,791.3 440.0,791.5 440.4,789.8 440.8,794.5 441.2,788.9 441.6,792.3 442.0,793.3 442.4,792.4 442.8,792.9 443.2,788.9 443.6,791.7 444.0,792.2 444.4,792.1 444.8,789.5 445.2,791.3 445.6,790.3 446.0,794.0 446.4,790.6 446.8,791.5 447.2,791.4 447.6,791.4 448.0,794.5 448.4,794.1 448.8,792.3 449.2,791.2 449.6,791.0 450.0,788.9 450.4,791.9 450.8,792.2 451.2,791.5 451.6,790.2 452.0,793.7 452.4,793.0 452.8,792.0 453.2,794.4 453.6,792.2 454.0,794.6 454.4,791.5 454.8,792.0 455.2,790.8 455.6,793.3 456.0,791.0 456.4,792.5 456.8,792.0 457.2,790.6 457.6,794.6 458.0,793.6 458.4,791.4 458.8,793.2 459.2,792.4 459.6,791.1 460.0,794.6 460.4,793.2 460.8,792.8 461.2,792.7 461.6,793.0 462.0,793.1 462.4,792.3 462.8,792.2 463.2,792.1 463.6,789.4 464.0,791.6 464.4,793.9 464.8,794.4 465.2,792.2 465.6,790.6 466.0,793.6 466.4,790.6 466.8,790.2 467.2,789.6 467.6,789.1 468.0,794.7 468.4,792.0 468.8,789.1 469.2,790.6 469.6,789.1 470.0,793.3 470.4,790.8 470.8,790.7 471.2,792.9 471.6,794.5 472.0,790.6 472.4,791.8 472.8,790.3 473.2,793.4 473.6,792.3 474.0,792.1 474.4,790.6 474.8,794.3 475.2,791.4 475.6,793.8 476.0,793.9 476.4,790.0 476.8,791.6 477.2,792.3 477.6,790.1 478.0,791.7 478.4,792.4 478.8,789.2 479.2,791.4 479.6,792.4 480.0,791.2 480.4,791.0 480.8,789.6 481.2,791.9 481.6,792.2 482.0,791.7 482.4,794.1 482.8,791.9 483.2,791.2 483.6,794.7 484.0,793.1 484.4,793.7 484.8,794.0 485.2,791.1 485.6,790.4 486.0,794.6 486.4,789.2 486.8,791.1 487.2,794.5 487.6,790.9 488.0,793.2 488.4,790.7 488.8,794.7 489.2,791.9 489.6,793.3 490.0,789.9 490.4,793.2 490.8,793.1 491.2,791.3 491.6,793.1 492.0,791.7 492.4,792.7 492.8,791.2 493.2,791.3 493.6,790.0 494.0,792.7 494.4,791.7 494.8,790.9 495.2,794.7 495.6,792.1 496.0,791.8 496.4,790.9 496.8,793.5 497.2,792.3 497.6,790.7 498.0,791.7 498.4,793.0 498.8,792.2 499.2,793.9 499.6,793.7 500.0,794.8 500.4,791.0 500.8,792.0 501.2,791.7 501.6,791.7 502.0,792.2 502.4,791.5 502.8,793.5 503.2,790.1 503.6,792.2 504.0,793.1 504.4,793.7 504.8,792.1 505.2,792.6 505.6,792.2 506.0,792.9 506.4,791.9 506.8,793.3 507.2,794.3 507.6,794.8 508.0,791.6 508.4,793.5 508.8,792.6 509.2,792.8 509.6,791.5 510.0,792.4 510.4,793.1 510.8,792.2 511.2,791.5 511.6,794.1 512.0,792.4 512.4,791.8 512.8,792.2 513.2,791.9 513.6,791.0 514.0,793.0 514.4,791.8 514.8,790.2 515.2,793.8 515.6,791.6 516.0,789.9 516.4,792.1 516.8,791.1 517.2,792.5 517.6,790.3 518.0,791.5 518.4,789.6 518.8,790.0 519.2,792.3 519.6,791.3 520.0,794.6 520.4,791.0 520.8,792.4 521.2,790.2 521.6,794.5 522.0,792.2 522.4,789.8 522.8,792.5 523.2,791.4 523.6,794.9 524.0,793.9 524.4,791.0 524.8,793.3 525.2,793.0 525.6,791.6 526.0,791.7 526.4,791.8 526.8,790.7 527.2,792.7 527.6,791.4 528.0,792.1 528.4,791.7 528.8,791.1 529.2,794.9 529.6,792.7 530.0,793.3 530.4,794.9 530.8,792.2 531.2,791.1 531.6,789.6 532.0,790.0 532.4,793.2 532.8,790.1 533.2,789.6 533.6,792.3 534.0,792.1 534.4,794.9 534.8,790.0 535.2,793.8 535.6,789.6 536.0,794.2 536.4,792.7 536.8,790.8 537.2,794.2 537.6,792.5 538.0,793.2 538.4,792.3 538.8,794.0 539.2,793.3 539.6,790.8 540.0,790.9 540.4,791.0 540.8,793.5 541.2,793.2 541.6,792.7 542.0,791.9 542.4,791.4 542.8,792.8 543.2,793.5 543.6,793.5 544.0,794.8 544.4,794.9 544.8,791.7 545.2,794.9 545.6,794.6 546.0,792.7 546.4,792.8 546.8,793.1 547.2,791.4 547.6,791.2 548.0,792.3 548.4,791.6 548.8,789.5 549.2,793.2 549.6,789.5 550.0,792.7 550.4,791.6 550.8,791.1 551.2,793.3 551.6,790.8 552.0,790.5 552.4,792.4 552.8,792.3 553.2,790.8 553.6,790.7 554.0,790.6 554.4,792.2 554.8,792.2 555.2,792.7 555.6,791.1 556.0,789.6 556.4,791.8 556.8,793.0 557.2,792.2 557.6,787.3 558.0,788.5 558.4,784.0 558.8,777.9 559.2,767.3 559.6,753.7 560.0,741.7 560.2,739.7 560.4,741.7 560.8,753.7 561.2,767.1 561.6,778.2 562.0,783.5 562.4,787.1 562.8,788.3 563.2,790.2 563.6,790.9 564.0,793.0 564.4,791.9 564.8,790.4 565.2,792.3 565.6,793.0 566.0,790.9 566.4,791.0 566.8,789.3 567.2,794.3 567.6,792.3 568.0,794.2 568.4,789.8 568.8,789.5 569.2,792.7 569.6,791.0 570.0,792.5 570.4,791.1 570.8,793.6 571.2,791.8 571.6,792.1 572.0,793.1 572.4,791.7 572.8,791.8 573.2,794.3 573.6,792.3 574.0,792.8 574.4,793.2 574.8,792.6 575.2,793.2 575.6,795.0 576.0,794.1 576.4,790.4 576.8,789.8 577.2,791.2 577.6,789.8 578.0,789.8 578.4,790.9 578.8,791.1 579.2,792.8 579.6,793.2 580.0,795.1 580.4,791.5 580.8,791.6 581.2,792.9 581.6,794.2 582.0,792.2 582.4,791.2 582.8,789.9 583.2,793.8 583.6,792.2 584.0,794.9 584.4,795.1 584.8,795.1 585.2,793.3 585.6,793.9 586.0,790.5 586.4,793.2 586.8,792.0 587.2,794.2 587.6,791.8 588.0,792.2 588.4,791.3 588.8,795.2 589.2,792.8 589.6,791.1 590.0,792.0 590.4,790.7 590.8,794.4 591.2,794.5 591.6,792.8 592.0,793.0 592.4,790.4 592.8,795.0 593.2,792.5 593.6,795.2 594.0,791.7 594.4,793.3 594.8,793.9 595.2,793.8 595.6,792.5 596.0,794.3 596.4,793.2 596.8,792.7 597.2,791.1 597.6,794.6 598.0,792.7 598.4,793.4 598.8,792.5 599.2,793.2 599.6,792.1 600.0,795.2 600.4,795.2 600.8,793.7 601.2,793.1 601.6,793.7 602.0,791.4 602.4,793.6 602.8,792.5 603.2,792.0 603.6,791.6 604.0,791.7 604.4,793.4 604.8,792.7 605.2,791.5 605.6,793.3 606.0,792.9 606.4,792.5 606.8,794.8 607.2,792.3 607.6,790.7 608.0,792.9 608.4,791.2 608.8,793.9 609.2,793.5 609.6,792.2 610.0,793.4 610.4,792.1 610.8,792.0 611.2,790.1 611.6,790.1 612.0,792.1 612.4,795.2 612.8,790.9 613.2,792.6 613.6,791.7 614.0,793.5 614.4,791.5 614.8,792.5 615.2,793.3 615.6,792.0 616.0,792.5 616.4,792.4 616.8,793.5 617.2,793.6 617.6,793.8 618.0,793.3 618.4,791.3 618.8,792.1 619.2,793.5 619.6,792.8 620.0,794.0 620.4,790.9 620.8,791.4 621.2,791.5 621.6,793.2 622.0,791.8 622.4,791.4 622.8,793.2 623.2,792.1 623.6,791.2 624.0,793.3 624.4,792.6 624.8,793.4 625.2,793.5 625.6,791.9 626.0,792.3 626.4,792.5 626.8,793.7 627.2,792.7 627.6,794.2 628.0,791.9 628.4,792.7 628.8,794.6 629.2,790.7 629.6,790.9 630.0,793.7 630.4,793.8 630.8,794.1 631.2,794.0 631.6,794.2 632.0,792.0 632.4,792.8 632.8,793.5 633.2,791.0 633.6,790.9 634.0,791.9 634.4,794.2 634.8,793.8 635.2,790.9 635.6,792.0 636.0,792.0 636.4,792.9 636.8,793.0 637.2,792.8 637.6,791.5 638.0,794.3 638.4,794.2 638.8,791.3 639.2,792.5 639.6,794.3 640.0,793.3 640.4,793.4 640.8,792.1 641.2,794.8 641.6,791.2 642.0,794.1 642.4,795.3 642.8,791.7 643.2,794.7 643.6,794.0 644.0,791.9 644.4,793.0 644.8,794.8 645.2,792.2 645.6,792.2 646.0,790.3 646.4,790.5 646.8,792.3 647.2,792.6 647.6,793.6 648.0,794.0 648.4,795.3 648.8,793.8 649.2,795.3 649.6,793.9 650.0,794.7 650.4,791.7 650.8,793.5 651.2,794.2 651.6,794.2 652.0,792.2 652.4,792.8 652.8,791.1 653.2,793.3 653.6,791.4 654.0,794.2 654.4,793.2 654.8,793.8 655.2,793.7 655.6,793.5 656.0,794.0 656.4,793.0 656.8,790.6 657.2,794.6 657.6,791.8 658.0,794.1 658.4,793.6 658.8,793.4 659.2,793.1 659.6,793.3 660.0,793.1 660.4,792.9 660.8,792.7 661.2,793.3 661.6,793.7 662.0,792.3 662.4,793.2 662.8,791.0 663.2,791.7 663.6,790.5 664.0,792.5 664.4,793.4 664.8,793.8 665.2,791.0 665.6,794.0 666.0,791.4 666.4,792.3 666.8,792.2 667.2,795.0 667.6,793.1 668.0,795.3 668.4,794.2 668.8,792.5 669.2,793.4 669.6,794.8 670.0,791.7 670.4,792.2 670.8,792.8 671.2,792.4 671.6,792.5 672.0,795.2 672.4,793.1 672.8,792.5 673.2,792.4 673.6,791.0 674.0,794.0 674.4,792.0 674.8,795.3 675.2,793.5 675.6,792.1 676.0,791.2 676.4,792.3 676.8,793.4 677.2,792.1 677.6,793.8 678.0,793.8 678.4,793.7 678.8,793.6 679.2,792.9 679.6,792.0 680.0,791.2 680.4,790.7 680.8,792.3 681.2,793.8 681.6,792.9 682.0,791.5 682.4,794.1 682.8,791.6 683.2,791.3 683.6,791.5 684.0,792.0 684.4,792.8 684.8,791.2 685.2,790.7 685.6,793.5 686.0,793.2 686.4,793.5 686.8,793.9 687.2,792.9 687.6,795.3 688.0,792.6 688.4,792.8 688.8,794.6 689.2,793.4 689.6,792.6 690.0,792.8 690.4,791.3 690.8,793.8 691.2,792.6 691.6,793.4 692.0,794.6 692.4,793.9 692.8,793.2 693.2,793.4 693.6,793.0 694.0,795.1 694.4,790.4 694.8,792.2 695.2,791.7 695.6,793.4 696.0,792.5 696.4,792.9 696.8,795.2 697.2,793.1 697.6,793.9 698.0,792.2 698.4,791.8 698.8,791.3 699.2,794.6 699.6,791.2 700.0,792.0 700.4,795.0 700.8,793.1 701.2,792.6 701.6,792.2 702.0,790.9 702.4,792.9 702.8,793.7 703.2,791.1 703.6,791.5 704.0,794.3 704.4,791.4 704.8,792.7 705.2,793.9 705.6,790.0 706.0,790.5 706.4,788.6 706.8,786.2 707.2,788.7 707.6,785.6 708.0,781.7 708.4,779.7 708.8,776.0 709.2,773.6 709.6,772.6 709.6,772.6 710.0,773.6 710.4,776.0 710.8,777.9 711.2,780.7 711.6,785.1 712.0,787.6 712.4,790.8 712.8,790.1 713.2,788.7 713.6,789.9 714.0,792.7 714.4,790.9 714.8,792.6 715.2,794.5 715.6,790.2 716.0,790.3 716.4,792.1 716.8,792.4 717.2,793.7 717.6,790.4 718.0,793.4 718.4,792.3 718.8,790.4 719.2,792.3 719.6,793.4 720.0,795.1 720.4,791.9 720.8,793.7 721.2,791.0 721.6,794.2 722.0,792.9 722.4,794.9 722.8,791.1 723.2,791.3 723.6,790.6 724.0,795.3 724.4,792.3 724.8,790.5 725.2,791.9 725.6,794.0 726.0,793.8 726.4,793.5 726.8,791.2 727.2,792.7 727.6,790.6 728.0,790.9 728.4,793.7 728.8,794.1 729.2,792.6 729.6,790.6 730.0,791.7 730.4,792.5 730.8,795.1 731.2,792.1 731.6,791.0 732.0,791.4 732.4,791.8 732.8,792.3 733.2,792.6 733.6,795.4 734.0,792.2 734.4,790.7 734.8,794.4 735.2,792.0 735.6,792.0 736.0,792.2 736.4,793.4 736.8,793.2 737.2,793.6 737.6,792.6 738.0,793.1 738.4,791.6 738.8,791.6 739.2,792.2 739.6,792.4 740.0,790.7 740.4,791.4 740.8,794.7 741.2,794.6 741.6,795.2 742.0,794.6 742.4,794.2 742.8,795.3 743.2,793.9 743.6,792.6 744.0,792.7 744.4,793.5 744.8,793.6 745.2,792.9 745.6,792.6 746.0,793.0 746.4,792.0 746.8,795.4 747.2,793.8 747.6,790.7 748.0,794.2 748.4,792.0 748.8,792.8 749.2,793.1 749.6,794.3 750.0,793.0 750.4,793.5 750.8,792.9 751.2,795.4 751.6,793.1 752.0,791.9 752.4,791.4 752.8,793.1 753.2,792.5 753.6,793.4 754.0,793.7 754.4,791.6 754.8,793.2 755.2,792.2 755.6,792.2 756.0,791.9 756.4,792.8 756.8,792.2 757.2,792.2 757.6,792.7 758.0,791.4 758.4,794.9 758.8,794.0 759.2,792.6 759.6,793.5 760.0,791.9 760.4,793.3 760.8,791.1 761.2,793.1 761.6,793.3 762.0,792.7 762.4,794.1 762.8,792.1 763.2,793.3 763.6,793.9 764.0,793.8 764.4,793.1 764.8,795.3 765.2,794.2 765.6,794.0 766.0,792.2 766.4,793.3 766.8,792.5 767.2,795.5 767.6,793.6 768.0,792.2 768.4,794.3 768.8,794.6 769.2,792.4 769.6,793.4 770.0,795.5 770.4,793.2 770.8,793.6 771.2,795.5 771.6,793.2 772.0,791.6 772.4,791.9 772.8,793.4 773.2,794.2 773.6,792.0 774.0,790.9 774.4,793.9 774.8,792.9 775.2,792.5 775.6,792.0 776.0,794.6 776.4,793.0 776.8,791.5 777.2,791.9 777.6,792.6 778.0,791.3 778.4,792.5 778.8,794.7 779.2,794.3 779.6,794.5 780.0,794.5 780.4,793.4 780.8,793.7 781.2,790.9 781.6,794.2 782.0,794.0 782.4,793.5 782.8,793.5 783.2,791.8 783.6,792.6 784.0,791.2 784.4,792.6 784.8,792.9 785.2,792.4 785.6,794.7 786.0,792.1 786.4,793.6 786.8,793.5 787.2,793.0 787.6,793.9 788.0,793.7 788.4,792.7 788.8,794.9 789.2,793.0 789.6,794.0 790.0,791.9 790.4,792.0 790.8,793.4 791.2,795.5 791.6,791.6 792.0,791.7 792.4,792.2 792.8,792.7 793.2,793.3 793.6,794.6 794.0,793.0 794.4,794.0 794.8,793.3 795.2,792.5 795.6,792.6 796.0,793.9 796.4,793.5 796.8,795.0 797.2,793.5 797.6,793.1 798.0,791.8 798.4,792.3 798.8,793.7 799.2,793.7 799.6,795.4 800.0,792.5 800.4,794.1 800.8,793.2 801.2,791.0 801.6,791.8 802.0,793.6 802.4,792.8 802.8,792.4 803.2,794.7 803.6,793.0 804.0,793.7 804.4,794.3 804.8,792.7 805.2,794.1 805.6,792.0 806.0,791.7 806.4,794.7 806.8,795.0 807.2,794.2 807.6,792.3 808.0,792.9 808.4,792.1 808.8,792.1 809.2,793.5 809.6,792.7 810.0,794.8 810.4,791.3 810.8,792.6 811.2,791.8 811.6,791.6 812.0,795.5 812.4,795.3 812.8,793.8 813.2,794.0 813.6,794.1 814.0,793.4 814.4,791.1 814.8,791.1 815.2,794.0 815.6,791.1 816.0,795.1 816.4,794.3 816.8,793.7 817.2,793.8 817.6,794.2 818.0,792.5 818.4,795.5 818.8,793.0 819.2,792.1 819.6,795.5 820.0,793.5 820.4,793.7 820.8,794.8 821.2,795.5 821.6,793.3 822.0,793.4 822.4,791.5 822.8,793.3 823.2,795.4 823.6,792.3 824.0,792.1 824.4,791.1 824.8,791.7 825.2,791.6 825.6,793.3 826.0,793.7 826.4,791.1 826.8,793.9 827.2,795.0 827.6,794.4 828.0,792.4 828.4,794.4 828.8,792.7 829.2,791.9 829.6,791.5 830.0,791.4 830.4,792.9 830.8,794.1 831.2,791.1 831.6,791.1 832.0,794.8 832.4,792.1 832.8,795.5 833.2,793.8 833.6,791.5 834.0,794.5 834.4,794.6 834.8,791.2 835.2,793.0 835.6,795.1 836.0,791.4 836.4,793.9 836.8,793.8 837.2,795.5 837.6,795.0 838.0,792.8 838.4,791.5 838.8,792.9 839.2,793.5 839.6,793.3 840.0,792.8 840.4,792.1 840.8,794.9 841.2,792.9 841.6,792.4 842.0,793.6 842.4,793.5 842.8,793.3 843.2,794.9 843.6,792.1 844.0,793.7 844.4,794.6 844.8,792.8 845.2,793.5 845.6,794.2 846.0,794.0 846.4,793.4 846.8,791.8 847.2,792.2 847.6,793.4 848.0,793.0 848.4,793.0 848.8,792.7 849.2,791.2 849.6,794.1 850.0,792.0 850.4,795.4 850.8,795.6 851.2,794.4 851.6,794.0 852.0,792.6 852.4,792.1 852.8,792.9 853.2,794.7 853.6,793.4 854.0,791.3 854.4,794.4 854.8,792.8 855.2,794.4 855.6,793.4 856.0,792.4 856.4,792.8 856.8,794.3 857.2,792.7 857.6,795.1 858.0,792.4 858.4,795.2 858.8,791.7 859.2,792.0 859.6,794.1 860.0,795.3 860.4,793.0 860.8,794.4 861.2,792.2 861.6,792.1 862.0,793.4 862.4,795.6 862.8,793.1 863.2,791.4 863.6,791.2 864.0,793.3 864.4,794.2 864.8,792.9 865.2,793.6 865.6,792.4 866.0,794.9 866.4,794.0 866.8,791.6 867.2,792.6 867.6,794.9 868.0,793.3 868.4,791.3 868.8,792.9 869.2,792.7 869.6,791.3 870.0,793.9 870.4,795.1 870.8,792.7 871.2,792.2 871.6,793.1 872.0,792.8 872.4,793.2 872.8,794.0 873.2,791.4 873.6,792.9 874.0,795.6 874.4,793.2 874.8,793.5 875.2,793.7 875.6,792.3 876.0,791.6 876.4,795.6 876.8,793.3 877.2,792.1 877.6,794.4 878.0,792.8 878.4,792.2 878.8,792.7 879.2,791.6 879.6,792.1 880.0,794.4 880.4,793.5 880.8,793.0 881.2,794.9 881.6,794.2 882.0,792.8 882.4,791.5 882.8,792.7 883.2,794.9 883.6,792.2 884.0,795.6 884.4,793.1 884.8,791.6 885.2,792.8 885.6,795.1 886.0,792.6 886.4,793.9 886.8,794.2 887.2,792.6 887.6,794.6 888.0,795.1 888.4,794.3 888.8,791.3 889.2,793.7 889.6,794.2 890.0,794.4 890.4,795.6 890.8,793.7 891.2,793.4 891.6,791.3 892.0,791.9 892.4,794.7 892.8,791.9 893.2,793.1 893.6,791.4 894.0,793.0 894.4,791.9 894.8,793.9 895.2,793.3 895.6,793.8 896.0,791.5 896.4,793.1 896.8,794.4 897.2,791.4 897.6,792.6 898.0,793.2 898.4,794.4 898.8,794.1 899.2,794.1 899.6,793.8 900.0,794.3 900.4,793.2 900.8,793.2 901.2,791.9 901.6,793.1 902.0,793.0 902.4,795.3 902.8,792.0 903.2,793.7 903.6,793.0 904.0,793.4 904.4,794.7 904.8,793.3 905.2,792.3 905.6,793.5 906.0,794.6 906.4,793.8 906.8,794.3 907.2,791.7 907.6,794.5 908.0,792.8 908.4,791.9 908.8,793.8 909.2,791.7 909.6,793.8 910.0,795.4 910.4,792.7 910.8,792.3 911.2,794.8 911.6,794.2 912.0,794.5 912.4,791.4 912.8,792.4 913.2,795.6 913.6,792.4 914.0,792.9 914.4,793.6 914.8,793.7 915.2,793.2 915.6,791.4 916.0,794.1 916.4,792.0 916.8,794.6 917.2,794.9 917.6,792.1 918.0,793.6 918.4,795.4 918.8,795.5 919.2,794.6 919.6,792.8 920.0,794.0 920.4,792.3 920.8,795.3 921.2,793.9 921.6,795.2 922.0,791.4 922.4,792.8 922.8,792.8 923.2,793.0 923.6,791.9 924.0,794.0 924.4,792.4 924.8,795.6 925.2,793.0 925.6,792.9 926.0,792.6 926.4,794.2 926.8,793.9 927.2,792.3 927.6,791.5 928.0,793.0 928.4,792.5 928.8,793.5 929.2,792.4 929.6,793.8 930.0,792.1 930.4,793.8 930.8,793.2 931.2,794.6 931.6,793.3 932.0,794.2 932.4,793.1 932.8,793.2 933.2,792.6 933.6,791.9 934.0,793.7 934.4,793.4 934.8,795.4 935.2,794.0 935.6,795.6 936.0,795.6 936.4,793.8 936.8,792.3 937.2,793.2 937.6,794.6 938.0,793.2 938.4,794.5 938.8,792.5 939.2,792.7 939.6,793.2 940.0,792.3 940.4,791.4 940.8,790.8 941.2,790.8 941.6,789.9 942.0,791.3 942.4,789.8 942.8,793.0 943.2,791.8 943.6,791.1 944.0,790.6 944.4,791.8 944.8,793.6 945.2,792.8 945.6,794.8 946.0,793.1 946.4,792.3 946.8,793.1 947.2,792.9 947.6,793.3 948.0,792.2 948.4,793.4 948.8,791.5 949.2,793.7 949.6,793.4 950.0,793.3 950.4,792.6 950.8,793.5 951.2,793.8 951.6,791.5 952.0,794.7 952.4,793.4 952.8,794.1 953.2,795.3 953.6,792.1 954.0,792.4 954.4,792.4 954.8,793.6 955.2,792.4 955.6,792.5 956.0,795.6 956.4,793.3 956.8,794.0 957.2,794.7 957.6,795.3 958.0,791.9 958.4,794.0 958.8,794.5 959.2,794.9 959.6,792.8 960.0,793.1 960.4,793.8 960.8,793.6 961.2,793.2 961.6,792.8 962.0,793.4 962.4,793.2 962.8,793.9 963.2,792.8 963.6,792.4 964.0,793.0 964.4,793.3 964.8,794.8 965.2,793.1 965.6,791.6 966.0,795.6 966.4,795.0 966.8,794.3 967.2,794.1 967.6,793.6 968.0,795.6 968.4,792.2 968.8,794.5 969.2,794.5 969.6,795.6 970.0,793.5 970.4,795.4 970.8,794.1 971.2,792.4 971.6,792.3 972.0,795.0 972.4,792.2 972.8,793.3 973.2,795.6 973.6,792.5 974.0,794.3 974.4,795.6 974.8,795.4 975.2,794.5 975.6,792.8 976.0,795.6 976.4,794.2 976.8,793.7 977.2,792.4 977.6,791.6 978.0,794.1 978.4,793.1 978.8,791.6 979.2,794.7 979.6,793.9 980.0,792.9 980.4,793.1 980.8,794.3 981.2,794.2 981.6,792.6 982.0,794.7 982.4,793.4 982.8,792.5 983.2,793.5 983.6,793.7 984.0,795.0 984.4,794.4 984.8,791.6 985.2,792.2 985.6,794.6 986.0,794.0 986.4,792.5 986.8,793.0 987.2,795.5 987.6,791.6 988.0,795.1 988.4,794.9 988.8,792.9 989.2,793.3 989.6,794.1 990.0,793.7 990.4,794.1 990.8,795.0 991.2,792.9 991.6,793.6 992.0,794.2 992.4,793.1 992.8,793.6 993.2,795.3 993.6,791.7 994.0,794.0 994.4,793.0 994.8,792.3 995.2,793.4 995.6,794.1 996.0,794.6 996.4,792.8 996.8,794.4 997.2,795.3 997.6,793.9 998.0,794.5 998.4,794.2 998.8,794.4 999.2,792.6 999.6,795.1 1000.0,794.2 1000.4,795.6 1000.8,794.6 1001.2,792.7 1001.6,795.0 1002.0,795.2 1002.4,794.9 1002.8,793.3 1003.2,793.2 1003.6,795.2 1004.0,792.8 1004.4,794.7 1004.8,793.8 1005.2,792.9 1005.6,793.3 1006.0,793.1 1006.4,794.3 1006.8,792.9 1007.2,793.6 1007.6,793.4 1008.0,794.1 1008.4,794.8 1008.8,792.0 1009.2,794.2 1009.6,792.9 1010.0,793.5 1010.4,793.5 1010.8,795.5 1011.2,795.4 1011.6,793.4 1012.0,793.4 1012.4,795.3 1012.8,794.3 1013.2,795.6 1013.6,792.9 1014.0,795.0 1014.4,793.1 1014.8,791.7 1015.2,794.6 1015.6,792.6 1016.0,794.5 1016.4,793.4 1016.8,795.1 1017.2,792.2 1017.6,791.9 1018.0,795.4 1018.4,794.9 1018.8,793.8 1019.2,791.9 1019.6,794.7 1020.0,795.5 1020.4,793.3 1020.8,793.3 1021.2,792.8 1021.6,794.2 1022.0,793.6 1022.4,792.0 1022.8,792.9 1023.2,794.8 1023.6,792.4 1024.0,794.0 1024.4,794.8 1024.8,794.5 1025.2,791.8 1025.6,794.3 1026.0,792.4 1026.4,791.8 1026.8,794.0 1027.2,791.8 1027.6,793.4 1028.0,795.0 1028.4,794.3 1028.8,793.5 1029.2,794.7 1029.6,793.7 1030.0,794.5 1030.4,794.9 1030.8,792.5 1031.2,795.5 1031.6,793.5 1032.0,793.7 1032.4,793.9 1032.8,793.3 1033.2,793.2 1033.6,794.2 1034.0,793.0 1034.4,794.2 1034.8,794.5 1035.2,793.0 1035.6,793.3 1036.0,794.2 1036.4,793.6 1036.8,794.3 1037.2,793.6 1037.6,793.3 1038.0,793.4 1038.4,794.0 1038.8,794.9 1039.2,791.8 1039.6,793.1 1040.0,793.2 1040.4,792.8 1040.8,793.1 1041.2,794.9 1041.6,794.8 1042.0,793.0 1042.4,792.1 1042.8,794.1 1043.2,794.2 1043.6,792.4 1044.0,793.9 1044.4,794.1 1044.8,794.4 1045.2,793.1 1045.6,794.2 1046.0,793.5 1046.4,794.6 1046.8,793.9 1047.2,794.4 1047.6,793.7 1048.0,793.4 1048.4,793.9 1048.8,794.6 1049.2,793.3 1049.6,794.1 1050.0,795.5 1050.4,792.9 1050.8,792.2 1051.2,792.5 1051.6,793.1 1052.0,793.2 1052.4,791.1 1052.8,790.6 1053.2,792.8 1053.6,789.9 1054.0,791.6 1054.4,791.8 1054.8,788.4 1055.2,790.8 1055.6,790.5 1056.0,790.5 1056.4,791.8 1056.8,791.9 1057.2,793.1 1057.6,794.8 1058.0,793.5 1058.4,792.1 1058.8,795.0 1059.2,794.8 1059.6,795.2 1060.0,794.1 1060.4,794.6 1060.8,795.5 1061.2,793.6 1061.6,793.0 1062.0,795.3 1062.4,793.3 1062.8,794.9 1063.2,793.1 1063.6,793.2 1064.0,794.0 1064.4,794.1 1064.8,792.9 1065.2,795.5 1065.6,793.3 1066.0,794.5 1066.4,792.8 1066.8,793.1 1067.2,793.1 1067.6,793.9 1068.0,793.9 1068.4,794.0 1068.8,793.7 1069.2,794.7 1069.6,794.7 1070.0,793.3 1070.4,793.9 1070.8,794.2 1071.2,794.5 1071.6,794.3 1072.0,793.4 1072.4,793.4 1072.8,793.8 1073.2,794.3 1073.6,792.6 1074.0,792.7 1074.4,793.3 1074.8,793.8 1075.2,793.1 1075.6,793.3 1076.0,792.9 1076.4,794.3 1076.8,791.9 1077.2,793.7 1077.6,793.0 1078.0,793.8 1078.4,793.9 1078.8,791.9 1079.2,794.9 1079.6,794.5 1080.0,795.4 1080.4,794.6 1080.8,794.7 1081.2,794.3 1081.6,795.4 1082.0,792.4 1082.4,793.6 1082.8,792.8 1083.2,794.7 1083.6,794.0 1084.0,795.5 1084.4,793.9 1084.8,793.6 1085.2,793.6 1085.6,793.0 1086.0,791.9 1086.4,793.7 1086.8,793.3 1087.2,793.3 1087.6,792.6 1088.0,793.9 1088.4,792.7 1088.8,794.0 1089.2,793.5 1089.6,793.4 1090.0,792.1 1090.4,794.1 1090.8,794.7 1091.2,793.6 1091.6,793.2 1092.0,794.4 1092.4,794.6 1092.8,793.3 1093.2,795.5 1093.6,795.0 1094.0,795.3 1094.4,794.2 1094.8,794.2 1095.2,792.7 1095.6,793.5 1096.0,793.8 1096.4,794.5 1096.8,793.2 1097.2,792.9 1097.6,795.0 1098.0,793.9 1098.4,794.7 1098.8,793.9 1099.2,793.1 1099.6,793.7 1100.0,792.0 1100.4,794.8 1100.8,794.3 1101.2,795.0 1101.6,793.5 1102.0,795.5 1102.4,795.0 1102.8,792.0 1103.2,792.0 1103.6,794.0 1104.0,792.3 1104.4,793.6 1104.8,793.6 1105.2,793.5 1105.6,795.3 1106.0,794.4 1106.4,794.4 1106.8,794.0 1107.2,795.5 1107.6,795.1 1108.0,793.1 1108.4,794.4 1108.8,793.0 1109.2,793.6 1109.6,793.7 1110.0,792.4 1110.4,792.0 1110.8,792.5 1111.2,794.3 1111.6,792.0 1112.0,794.4 1112.4,792.0 1112.8,793.0 1113.2,793.2 1113.6,794.5 1114.0,793.8 1114.4,792.7 1114.8,793.2 1115.2,794.0 1115.6,794.9 1116.0,794.1 1116.4,793.7 1116.8,793.5 1117.2,795.4 1117.6,792.9 1118.0,793.3 1118.4,794.1 1118.8,795.1 1119.2,792.0 1119.6,794.8 1120.0,795.0 1120.4,794.0 1120.8,792.0 1121.2,793.1 1121.6,793.6 1122.0,794.1 1122.4,792.5 1122.8,793.5 1123.2,794.5 1123.6,793.2 1124.0,793.5 1124.4,793.3 1124.8,792.3 1125.2,793.4 1125.6,793.6 1126.0,794.6 1126.4,793.0 1126.8,792.5 1127.2,793.3 1127.6,792.9 1128.0,794.4 1128.4,793.2 1128.8,792.2 1129.2,794.4 1129.6,793.7 1130.0,794.0 1130.4,794.2 1130.8,794.9 1131.2,792.9 1131.6,794.4 1132.0,793.9 1132.4,793.9 1132.8,793.7 1133.2,793.3 1133.6,794.0 1134.0,793.8 1134.4,794.5 1134.8,795.3 1135.2,792.8 1135.6,795.5 1136.0,794.9 1136.4,792.7 1136.8,793.7 1137.2,793.8 1137.6,795.0 1138.0,792.8 1138.4,795.5 1138.8,792.7 1139.2,793.4 1139.6,793.2 1140.0,792.6 1140.4,792.7 1140.8,793.2 1141.2,793.5 1141.6,793.2 1142.0,792.9 1142.4,792.1 1142.8,793.5 1143.2,795.5 1143.6,795.5 1144.0,795.0 1144.4,793.4 1144.8,794.3 1145.2,793.3 1145.6,793.3 1146.0,794.0 1146.4,794.8 1146.8,793.3 1147.2,793.2 1147.6,793.8 1148.0,792.3 1148.4,794.7 1148.8,794.8 1149.2,795.0 1149.6,794.6 1150.0,793.2 1150.4,793.6 1150.8,792.9 1151.2,794.1 1151.6,795.5 1152.0,792.9 1152.4,794.5 1152.8,795.2 1153.2,792.8 1153.6,795.5 1154.0,793.2 1154.4,793.7 1154.8,794.3 1155.2,794.8 1155.6,794.6 1156.0,793.6 1156.4,793.2 1156.8,792.1 1157.2,793.3 1157.6,795.1 1158.0,793.1 1158.4,794.5 1158.8,794.5 1159.2,794.0 1159.6,793.3 1160.0,793.3 1160.4,793.8 1160.8,792.1 1161.2,795.2 1161.6,792.8 1162.0,793.2 1162.4,793.2 1162.8,793.6 1163.2,794.2 1163.6,795.1 1164.0,794.1 1164.4,795.4 1164.8,793.5 1165.2,794.5 1165.6,794.6 1166.0,794.0 1166.4,794.5 1166.8,792.8 1167.2,795.2 1167.6,794.7 1168.0,794.0 1168.4,793.5 1168.8,794.7 1169.2,792.8 1169.6,794.6 1170.0,794.8 1170.4,795.6 1170.8,793.8 1171.2,795.2 1171.6,794.5 1172.0,792.3 1172.4,792.6 1172.8,793.3 1173.2,795.0 1173.6,795.3 1174.0,793.6 1174.4,794.3 1174.8,794.1 1175.2,792.2 1175.6,795.0 1176.0,795.3 1176.4,792.2 1176.8,792.9 1177.2,793.8 1177.6,793.8 1178.0,794.9 1178.4,795.0 1178.8,793.3 1179.2,794.6 1179.6,793.2 1180.0,793.6 1180.4,794.1 1180.8,794.4 1181.2,793.3 1181.6,795.6 1182.0,794.1 1182.4,793.9 1182.8,794.7 1183.2,793.2 1183.6,794.2 1184.0,792.2 1184.4,792.2 1184.8,793.5 1185.2,793.4 1185.6,793.5 1186.0,793.2 1186.4,794.5 1186.8,795.1 1187.2,793.4 1187.6,794.9 1188.0,794.3 1188.4,792.7 1188.8,792.5 1189.2,793.9 1189.6,795.0 1190.0,793.0 1190.4,792.2 1190.8,794.9"/>
<polyline class="c" stroke="#F68B04" points="100.0,584.5 100.4,578.7 100.8,583.0 101.2,586.0 101.6,580.7 102.0,584.5 102.4,582.4 102.8,584.2 103.2,581.5 103.6,580.7 104.0,581.4 104.4,581.6 104.8,581.1 105.2,580.5 105.6,584.7 106.0,581.1 106.4,579.8 106.8,580.3 107.2,583.4 107.6,578.7 108.0,583.4 108.4,583.9 108.8,585.1 109.2,581.4 109.6,580.6 110.0,582.7 110.4,582.7 110.8,585.2 111.2,582.5 111.6,581.5 112.0,579.5 112.4,581.9 112.8,582.5 113.2,584.9 113.6,582.6 114.0,585.3 114.4,585.1 114.8,580.8 115.2,580.0 115.6,581.0 116.0,581.9 116.4,580.7 116.8,583.9 117.2,583.9 117.6,585.0 118.0,583.0 118.4,581.5 118.8,583.3 119.2,580.5 119.6,582.7 120.0,580.8 120.4,584.9 120.8,578.8 121.2,584.2 121.6,584.3 122.0,582.3 122.4,583.2 122.8,582.9 123.2,585.2 123.6,586.0 124.0,582.5 124.4,586.0 124.8,581.1 125.2,583.3 125.6,583.4 126.0,579.7 126.4,583.2 126.8,581.0 127.2,584.2 127.6,580.5 128.0,578.8 128.4,579.7 128.8,582.5 129.2,583.1 129.6,583.2 130.0,580.8 130.4,584.2 130.8,581.3 131.2,582.0 131.6,584.6 132.0,582.1 132.4,578.8 132.8,584.0 133.2,582.5 133.6,581.6 134.0,585.2 134.4,581.1 134.8,583.9 135.2,582.8 135.6,586.1 136.0,578.8 136.4,582.9 136.8,583.2 137.2,584.8 137.6,581.6 138.0,581.1 138.4,585.5 138.8,581.6 139.2,583.1 139.6,582.4 140.0,583.3 140.4,579.6 140.8,581.3 141.2,582.4 141.6,582.7 142.0,584.9 142.4,583.6 142.8,583.7 143.2,582.4 143.6,585.2 144.0,581.2 144.4,582.3 144.8,579.3 145.2,580.3 145.6,584.3 146.0,582.4 146.4,578.9 146.8,582.4 147.2,582.0 147.6,580.1 148.0,583.2 148.4,581.9 148.8,582.5 149.2,584.6 149.6,581.2 150.0,584.8 150.4,582.0 150.8,582.0 151.2,585.3 151.6,583.3 152.0,581.7 152.4,582.3 152.8,583.0 153.2,579.4 153.6,584.0 154.0,582.5 154.4,579.8 154.8,580.5 155.2,584.4 155.6,579.8 156.0,586.2 156.4,580.3 156.8,583.0 157.2,578.9 157.6,582.4 158.0,581.4 158.4,583.6 158.8,583.0 159.2,581.8 159.6,586.2 160.0,584.2 160.4,581.0 160.8,583.3 161.2,578.9 161.6,581.3 162.0,585.2 162.4,581.3 162.8,582.8 163.2,580.1 163.6,584.2 164.0,582.8 164.4,582.5 164.8,584.5 165.2,586.0 165.6,584.2 166.0,579.0 166.4,583.4 166.8,583.1 167.2,580.1 167.6,579.1 168.0,581.6 168.4,581.9 168.8,582.4 169.2,580.9 169.6,582.9 170.0,583.1 170.4,581.9 170.8,583.3 171.2,581.3 171.6,579.1 172.0,582.5 172.4,584.4 172.8,586.3 173.2,579.0 173.6,581.4 174.0,580.6 174.4,583.1 174.8,580.6 175.2,582.8 175.6,584.7 176.0,580.9 176.4,582.4 176.8,586.0 177.2,584.4 177.6,579.1 178.0,586.3 178.4,581.1 178.8,583.2 179.2,581.7 179.6,581.6 180.0,581.1 180.4,583.9 180.8,580.9 181.2,579.9 181.6,581.3 182.0,582.6 182.4,579.0 182.8,584.3 183.2,581.0 183.6,584.1 184.0,585.6 184.4,583.3 184.8,583.7 185.2,581.6 185.6,581.2 186.0,579.0 186.4,582.2 186.8,581.4 187.2,579.0 187.6,583.2 188.0,585.9 188.4,583.5 188.8,585.1 189.2,582.0 189.6,580.4 190.0,582.7 190.4,581.9 190.8,580.2 191.2,584.8 191.6,583.0 192.0,581.2 192.4,583.0 192.8,582.3 193.2,584.0 193.6,586.1 194.0,581.3 194.4,580.1 194.8,585.6 195.2,586.4 195.6,581.3 196.0,580.7 196.4,580.1 196.8,582.6 197.2,582.9 197.6,582.1 198.0,584.4 198.4,580.9 198.8,581.4 199.2,580.0 199.6,585.6 200.0,585.0 200.4,585.5 200.8,580.8 201.2,585.5 201.6,583.3 202.0,584.2 202.4,583.9 202.8,582.0 203.2,582.3 203.6,579.4 204.0,581.5 204.4,582.2 204.8,580.2 205.2,582.9 205.6,585.4 206.0,581.6 206.4,580.6 206.8,580.8 207.2,583.1 207.6,586.4 208.0,583.0 208.4,582.8 208.8,580.0 209.2,583.4 209.6,584.0 210.0,581.8 210.4,582.6 210.8,581.2 211.2,584.2 211.6,585.5 212.0,583.4 212.4,583.7 212.8,582.7 213.2,581.2 213.6,580.9 214.0,581.7 214.4,582.8 214.8,582.6 215.2,584.7 215.6,584.1 216.0,585.7 216.4,584.2 216.8,582.0 217.2,582.7 217.6,579.0 218.0,586.1 218.4,581.2 218.8,581.6 219.2,586.1 219.6,580.1 220.0,581.1 220.4,582.2 220.8,581.1 221.2,582.5 221.6,582.8 222.0,583.6 222.4,582.0 222.8,583.7 223.2,581.4 223.6,583.4 224.0,584.5 224.4,578.3 224.8,581.4 225.2,582.2 225.6,578.1 226.0,578.0 226.4,582.1 226.8,579.9 227.2,582.8 227.6,581.0 228.0,580.7 228.4,579.7 228.8,580.4 229.2,577.9 229.6,578.2 230.0,580.4 230.4,577.5 230.8,578.2 231.2,575.9 231.6,573.5 232.0,569.8 232.4,569.9 232.8,559.5 233.2,548.7 233.6,520.0 234.0,484.7 234.4,433.7 234.8,391.9 235.0,385.2 235.2,391.9 235.6,433.7 236.0,483.0 236.4,521.9 236.8,549.9 237.2,561.0 237.6,567.3 238.0,573.7 238.4,574.3 238.8,574.4 239.2,579.0 239.6,577.3 240.0,580.8 240.4,578.0 240.8,580.5 241.2,582.9 241.6,581.5 242.0,581.9 242.4,582.0 242.8,583.1 243.2,581.6 243.6,582.5 244.0,581.2 244.4,585.5 244.8,580.0 245.2,583.7 245.6,580.0 246.0,583.3 246.4,585.0 246.8,579.9 247.2,586.0 247.6,580.3 248.0,580.6 248.4,583.1 248.8,580.1 249.2,584.6 249.6,583.5 250.0,578.8 250.4,579.4 250.8,580.8 251.2,583.2 251.6,579.9 252.0,580.4 252.4,583.0 252.8,579.3 253.2,581.7 253.6,577.9 254.0,582.5 254.4,583.1 254.8,577.3 255.2,575.9 255.6,575.8 256.0,581.4 256.4,578.2 256.8,581.8 257.2,577.0 257.6,578.1 258.0,580.2 258.4,583.1 258.8,580.8 259.2,579.4 259.6,582.5 260.0,582.3 260.4,583.4 260.8,582.2 261.2,581.3 261.6,582.8 262.0,579.2 262.4,583.4 262.8,585.5 263.2,584.1 263.6,580.9 264.0,579.7 264.4,585.7 264.8,581.9 265.2,582.5 265.6,583.4 266.0,581.7 266.4,583.1 266.8,586.2 267.2,581.9 267.6,586.7 268.0,583.8 268.4,583.7 268.8,585.0 269.2,585.0 269.6,585.3 270.0,584.2 270.4,581.8 270.8,586.5 271.2,582.7 271.6,581.3 272.0,585.0 272.4,584.4 272.8,583.0 273.2,583.2 273.6,584.3 274.0,586.8 274.4,582.9 274.8,580.4 275.2,581.9 275.6,584.2 276.0,582.7 276.4,581.7 276.8,584.6 277.2,584.7 277.6,582.7 278.0,583.7 278.4,581.8 278.8,581.8 279.2,582.4 279.6,580.2 280.0,583.8 280.4,582.9 280.8,582.0 281.2,583.3 281.6,583.4 282.0,581.5 282.4,581.8 282.8,581.4 283.2,586.0 283.6,579.5 284.0,582.9 284.4,584.9 284.8,580.8 285.2,581.0 285.6,581.0 286.0,579.6 286.4,585.6 286.8,582.5 287.2,580.7 287.6,581.6 288.0,583.3 288.4,582.3 288.8,581.1 289.2,584.0 289.6,581.1 290.0,582.1 290.4,583.3 290.8,581.4 291.2,583.1 291.6,581.6 292.0,586.9 292.4,582.1 292.8,584.4 293.2,581.1 293.6,580.5 294.0,582.7 294.4,582.2 294.8,582.2 295.2,582.8 295.6,584.8 296.0,586.9 296.4,586.9 296.8,583.0 297.2,586.8 297.6,586.5 298.0,581.6 298.4,581.9 298.8,582.7 299.2,587.0 299.6,582.6 300.0,582.4 300.4,585.8 300.8,582.5 301.2,582.5 301.6,584.1 302.0,583.2 302.4,579.7 302.8,580.2 303.2,584.3 303.6,579.8 304.0,585.5 304.4,582.7 304.8,583.4 305.2,583.4 305.6,579.7 306.0,581.3 306.4,580.6 306.8,583.4 307.2,586.1 307.6,582.4 308.0,583.0 308.4,579.7 308.8,582.1 309.2,582.4 309.6,582.5 310.0,584.2 310.4,585.9 310.8,582.9 311.2,583.7 311.6,579.7 312.0,584.2 312.4,583.0 312.8,579.7 313.2,583.6 313.6,581.5 314.0,585.1 314.4,583.9 314.8,583.1 315.2,586.6 315.6,582.6 316.0,582.3 316.4,583.0 316.8,583.2 317.2,581.1 317.6,584.2 318.0,583.9 318.4,581.9 318.8,579.8 319.2,585.6 319.6,585.8 320.0,584.9 320.4,585.1 320.8,586.9 321.2,583.8 321.6,586.6 322.0,582.8 322.4,581.3 322.8,583.2 323.2,582.5 323.6,584.3 324.0,587.1 324.4,584.1 324.8,585.5 325.2,587.1 325.6,587.1 326.0,583.5 326.4,581.8 326.8,587.1 327.2,581.0 327.6,579.8 328.0,579.8 328.4,585.8 328.8,580.2 329.2,582.8 329.6,583.0 330.0,586.1 330.4,580.4 330.8,583.4 331.2,584.0 331.6,586.4 332.0,582.8 332.4,583.9 332.8,582.8 333.2,585.7 333.6,585.4 334.0,582.5 334.4,584.5 334.8,580.2 335.2,583.5 335.6,581.5 336.0,582.5 336.4,585.6 336.8,587.2 337.2,583.9 337.6,583.1 338.0,582.7 338.4,585.0 338.8,583.0 339.2,585.5 339.6,586.7 340.0,584.8 340.4,582.6 340.8,585.1 341.2,582.0 341.6,579.9 342.0,585.9 342.4,587.2 342.8,586.3 343.2,582.7 343.6,579.9 344.0,581.9 344.4,584.8 344.8,582.6 345.2,586.5 345.6,581.7 346.0,584.5 346.4,583.9 346.8,584.0 347.2,580.4 347.6,583.2 348.0,584.0 348.4,582.6 348.8,580.6 349.2,582.4 349.6,581.4 350.0,584.2 350.4,585.5 350.8,584.2 351.2,584.3 351.6,583.1 352.0,583.9 352.4,580.0 352.8,583.6 353.2,585.4 353.6,582.3 354.0,585.0 354.4,580.2 354.8,583.6 355.2,583.1 355.6,584.5 356.0,583.8 356.4,587.3 356.8,580.0 357.2,580.4 357.6,582.0 358.0,583.7 358.4,582.1 358.8,582.0 359.2,580.1 359.6,580.6 360.0,581.6 360.4,586.7 360.8,581.7 361.2,587.3 361.6,585.8 362.0,582.9 362.4,585.2 362.8,585.7 363.2,580.9 363.6,580.0 364.0,586.6 364.4,581.5 364.8,585.4 365.2,585.0 365.6,580.1 366.0,584.9 366.4,584.7 366.8,586.3 367.2,583.5 367.6,584.5 368.0,584.3 368.4,583.0 368.8,587.0 369.2,585.6 369.6,586.8 370.0,584.3 370.4,586.0 370.8,581.5 371.2,582.2 371.6,585.7 372.0,583.1 372.4,582.7 372.8,583.9 373.2,580.2 373.6,583.9 374.0,584.6 374.4,582.9 374.8,581.2 375.2,587.3 375.6,584.5 376.0,581.4 376.4,582.3 376.8,580.2 377.2,580.2 377.6,580.2 378.0,581.8 378.4,584.5 378.8,585.2 379.2,583.4 379.6,585.8 380.0,584.8 380.4,581.2 380.8,581.8 381.2,584.2 381.6,585.1 382.0,585.9 382.4,580.7 382.8,580.2 383.2,587.4 383.6,583.0 384.0,585.7 384.4,583.7 384.8,580.7 385.2,586.6 385.6,584.7 386.0,586.8 386.4,585.0 386.8,581.6 387.2,583.6 387.6,585.8 388.0,582.2 388.4,584.1 388.8,586.2 389.2,581.1 389.6,582.9 390.0,584.1 390.4,585.7 390.8,583.5 391.2,582.2 391.6,584.9 392.0,582.5 392.4,584.6 392.8,584.5 393.2,583.3 393.6,585.6 394.0,586.2 394.4,581.0 394.8,584.9 395.2,583.4 395.6,583.1 396.0,584.0 396.4,586.2 396.8,583.5 397.2,583.1 397.6,581.2 398.0,583.5 398.4,583.8 398.8,581.8 399.2,583.2 399.6,584.8 400.0,586.7 400.4,583.2 400.8,587.4 401.2,585.9 401.6,585.7 402.0,585.1 402.4,584.1 402.8,582.6 403.2,583.8 403.6,584.0 404.0,584.3 404.4,587.1 404.8,587.4 405.2,585.1 405.6,586.0 406.0,582.5 406.4,580.4 406.8,583.8 407.2,584.5 407.6,586.9 408.0,587.4 408.4,584.5 408.8,586.7 409.2,586.3 409.6,584.5 410.0,585.7 410.4,584.8 410.8,587.2 411.2,581.9 411.6,580.4 412.0,584.3 412.4,586.0 412.8,586.2 413.2,582.9 413.6,585.2 414.0,582.7 414.4,585.5 414.8,582.5 415.2,581.9 415.6,586.0 416.0,581.5 416.4,581.1 416.8,585.7 417.2,584.3 417.6,580.5 418.0,586.5 418.4,581.6 418.8,583.2 419.2,583.9 419.6,587.5 420.0,584.1 420.4,586.0 420.8,583.8 421.2,585.2 421.6,581.2 422.0,584.1 422.4,582.9 422.8,582.1 423.2,584.7 423.6,586.3 424.0,585.1 424.4,583.5 424.8,585.6 425.2,581.9 425.6,584.8 426.0,585.2 426.4,584.0 426.8,583.6 427.2,584.4 427.6,583.0 428.0,583.7 428.4,585.7 428.8,580.6 429.2,586.7 429.6,585.1 430.0,584.6 430.4,582.1 430.8,583.3 431.2,583.0 431.6,585.6 432.0,585.5 432.4,586.5 432.8,584.3 433.2,580.6 433.6,582.2 434.0,583.4 434.4,584.8 434.8,581.1 435.2,583.8 435.6,584.3 436.0,583.0 436.4,583.8 436.8,587.5 437.2,584.1 437.6,587.5 438.0,584.6 438.4,582.7 438.8,585.3 439.2,583.3 439.6,584.0 440.0,580.7 440.4,584.9 440.8,583.0 441.2,586.4 441.6,584.4 442.0,583.4 442.4,582.0 442.8,584.2 443.2,583.4 443.6,582.6 444.0,587.5 444.4,583.9 444.8,585.9 445.2,587.1 445.6,585.0 446.0,585.4 446.4,585.2 446.8,586.1 447.2,585.3 447.6,585.2 448.0,584.4 448.4,583.2 448.8,583.3 449.2,582.9 449.6,584.5 450.0,586.8 450.4,582.3 450.8,582.9 451.2,582.2 451.6,584.1 452.0,586.2 452.4,583.5 452.8,584.8 453.2,580.8 453.6,583.9 454.0,585.1 454.4,583.0 454.8,580.9 455.2,585.1 455.6,584.0 456.0,587.6 456.4,583.0 456.8,583.9 457.2,583.4 457.6,584.4 458.0,580.8 458.4,586.9 458.8,585.5 459.2,583.8 459.6,583.5 460.0,585.2 460.4,584.9 460.8,583.4 461.2,583.9 461.6,584.9 462.0,583.4 462.4,583.6 462.8,583.4 463.2,583.5 463.6,581.7 464.0,582.4 464.4,585.0 464.8,585.8 465.2,584.1 465.6,580.9 466.0,581.3 466.4,585.0 466.8,587.5 467.2,586.6 467.6,583.8 468.0,583.6 468.4,583.4 468.8,587.6 469.2,584.7 469.6,582.5 470.0,586.1 470.4,585.9 470.8,580.9 471.2,583.1 471.6,586.2 472.0,586.1 472.4,581.9 472.8,584.3 473.2,586.0 473.6,585.0 474.0,582.3 474.4,584.0 474.8,585.6 475.2,585.3 475.6,582.5 476.0,587.6 476.4,584.8 476.8,581.4 477.2,583.7 477.6,581.0 478.0,583.0 478.4,584.3 478.8,587.7 479.2,584.7 479.6,585.1 480.0,585.8 480.4,584.8 480.8,583.2 481.2,587.0 481.6,585.4 482.0,587.4 482.4,586.4 482.8,582.6 483.2,583.5 483.6,583.6 484.0,583.7 484.4,585.3 484.8,584.1 485.2,582.9 485.6,587.2 486.0,587.0 486.4,584.5 486.8,582.4 487.2,583.2 487.6,583.0 488.0,582.7 488.4,582.6 488.8,584.9 489.2,585.0 489.6,585.3 490.0,582.7 490.4,585.0 490.8,587.7 491.2,584.9 491.6,583.7 492.0,587.7 492.4,585.1 492.8,583.3 493.2,586.2 493.6,583.1 494.0,583.8 494.4,586.4 494.8,583.3 495.2,581.7 495.6,585.8 496.0,586.1 496.4,581.9 496.8,583.8 497.2,586.6 497.6,585.0 498.0,586.1 498.4,584.3 498.8,583.3 499.2,583.5 499.6,584.0 500.0,584.9 500.4,581.1 500.8,581.1 501.2,584.6 501.6,585.8 502.0,583.3 502.4,584.6 502.8,582.5 503.2,582.0 503.6,584.9 504.0,584.5 504.4,583.6 504.8,582.1 505.2,584.7 505.6,584.5 506.0,584.1 506.4,584.4 506.8,583.9 507.2,585.6 507.6,585.3 508.0,587.7 508.4,587.2 508.8,584.5 509.2,582.3 509.6,585.8 510.0,583.5 510.4,587.4 510.8,581.8 511.2,583.8 511.6,587.4 512.0,584.6 512.4,585.9 512.8,585.8 513.2,583.7 513.6,586.1 514.0,583.0 514.4,584.0 514.8,587.8 515.2,584.2 515.6,585.3 516.0,582.6 516.4,587.1 516.8,582.9 517.2,583.2 517.6,583.5 518.0,582.8 518.4,581.9 518.8,584.0 519.2,583.7 519.6,584.4 520.0,582.8 520.4,582.9 520.8,584.0 521.2,584.6 521.6,582.9 522.0,584.5 522.4,584.1 522.8,586.5 523.2,585.7 523.6,585.5 524.0,586.4 524.4,583.4 524.8,587.1 525.2,584.9 525.6,583.7 526.0,585.3 526.4,582.6 526.8,587.8 527.2,585.1 527.6,581.8 528.0,582.5 528.4,583.7 528.8,583.6 529.2,585.4 529.6,586.2 530.0,586.5 530.4,585.6 530.8,582.9 531.2,586.6 531.6,586.8 532.0,581.4 532.4,583.6 532.8,583.9 533.2,583.2 533.6,586.5 534.0,585.4 534.4,584.7 534.8,582.4 535.2,581.4 535.6,582.9 536.0,583.1 536.4,582.9 536.8,581.4 537.2,581.8 537.6,583.8 538.0,585.2 538.4,583.6 538.8,584.1 539.2,584.4 539.6,584.4 540.0,586.7 540.4,583.1 540.8,584.9 541.2,582.1 541.6,586.7 542.0,585.9 542.4,586.4 542.8,584.7 543.2,584.3 543.6,582.2 544.0,585.1 544.4,587.0 544.8,581.4 545.2,587.7 545.6,583.0 546.0,585.4 546.4,583.0 546.8,584.2 547.2,586.0 547.6,584.1 548.0,587.6 548.4,584.5 548.8,585.6 549.2,583.3 549.6,583.5 550.0,583.6 550.4,585.3 550.8,587.3 551.2,584.3 551.6,581.9 552.0,583.1 552.4,581.6 552.8,584.9 553.2,584.0 553.6,581.9 554.0,583.1 554.4,585.3 554.8,584.2 555.2,582.1 555.6,584.2 556.0,583.2 556.4,580.9 556.8,581.4 557.2,582.8 557.6,574.9 558.0,573.3 558.4,561.3 558.8,546.4 559.2,529.1 559.6,520.4 559.6,520.4 560.0,529.1 560.4,546.4 560.8,562.4 561.2,568.9 561.6,577.7 562.0,582.0 562.4,582.7 562.8,582.3 563.2,579.3 563.6,584.0 564.0,584.4 564.4,586.1 564.8,581.9 565.2,583.4 565.6,583.0 566.0,583.6 566.4,581.0 566.8,583.4 567.2,583.5 567.6,583.6 568.0,587.2 568.4,583.3 568.8,583.6 569.2,586.5 569.6,583.5 570.0,586.7 570.4,585.3 570.8,583.4 571.2,583.3 571.6,584.8 572.0,584.3 572.4,584.8 572.8,583.6 573.2,585.7 573.6,583.5 574.0,583.8 574.4,584.3 574.8,582.4 575.2,584.1 575.6,584.3 576.0,582.1 576.4,581.6 576.8,586.9 577.2,584.2 577.6,584.5 578.0,583.6 578.4,587.6 578.8,584.4 579.2,581.7 579.6,585.6 580.0,583.0 580.4,585.5 580.8,584.5 581.2,587.0 581.6,585.6 582.0,584.1 582.4,587.3 582.8,587.9 583.2,583.9 583.6,586.8 584.0,585.5 584.4,585.6 584.8,582.6 585.2,583.1 585.6,587.4 586.0,585.1 586.4,583.9 586.8,587.9 587.2,587.0 587.6,586.2 588.0,583.1 588.4,584.9 588.8,587.5 589.2,581.8 589.6,582.1 590.0,583.5 590.4,586.6 590.8,585.3 591.2,585.7 591.6,585.2 592.0,585.1 592.4,587.1 592.8,588.0 593.2,585.7 593.6,587.2 594.0,584.1 594.4,587.8 594.8,585.1 595.2,585.3 595.6,584.1 596.0,583.6 596.4,584.0 596.8,583.2 597.2,582.7 597.6,588.0 598.0,585.7 598.4,586.7 598.8,585.9 599.2,582.4 599.6,585.0 600.0,583.4 600.4,583.5 600.8,584.8 601.2,585.3 601.6,585.1 602.0,585.2 602.4,584.5 602.8,585.0 603.2,587.2 603.6,588.0 604.0,587.0 604.4,584.6 604.8,585.7 605.2,586.7 605.6,586.8 606.0,587.2 606.4,587.2 606.8,585.7 607.2,584.5 607.6,582.3 608.0,586.9 608.4,586.1 608.8,583.5 609.2,585.0 609.6,584.3 610.0,584.2 610.4,588.0 610.8,584.4 611.2,588.0 611.6,584.8 612.0,583.8 612.4,585.3 612.8,588.0 613.2,584.8 613.6,585.9 614.0,582.0 614.4,586.1 614.8,582.6 615.2,584.8 615.6,587.4 616.0,584.6 616.4,586.3 616.8,584.6 617.2,584.4 617.6,585.5 618.0,586.9 618.4,585.2 618.8,585.0 619.2,583.4 619.6,582.1 620.0,585.3 620.4,584.7 620.8,585.5 621.2,586.9 621.6,586.5 622.0,583.5 622.4,585.5 622.8,585.5 623.2,584.6 623.6,582.1 624.0,583.6 624.4,584.9 624.8,586.4 625.2,584.5 625.6,582.6 626.0,587.4 626.4,585.0 626.8,584.3 627.2,586.0 627.6,586.3 628.0,584.9 628.4,584.0 628.8,584.1 629.2,586.4 629.6,584.8 630.0,585.9 630.4,582.1 630.8,584.2 631.2,584.4 631.6,584.2 632.0,582.1 632.4,584.3 632.8,587.8 633.2,585.6 633.6,584.1 634.0,583.8 634.4,582.7 634.8,585.5 635.2,583.7 635.6,584.4 636.0,586.6 636.4,586.7 636.8,586.1 637.2,582.2 637.6,584.1 638.0,587.1 638.4,583.0 638.8,587.2 639.2,585.0 639.6,586.7 640.0,584.3 640.4,583.0 640.8,583.3 641.2,587.6 641.6,584.5 642.0,583.0 642.4,586.5 642.8,582.4 643.2,584.8 643.6,585.7 644.0,585.6 644.4,585.8 644.8,584.9 645.2,582.2 645.6,585.5 646.0,585.0 646.4,584.7 646.8,585.9 647.2,586.4 647.6,585.5 648.0,587.7 648.4,588.1 648.8,585.6 649.2,584.5 649.6,582.9 650.0,586.1 650.4,582.2 650.8,588.0 651.2,586.8 651.6,584.2 652.0,586.3 652.4,583.6 652.8,583.2 653.2,586.4 653.6,583.4 654.0,585.5 654.4,584.9 654.8,587.8 655.2,585.6 655.6,587.8 656.0,586.6 656.4,583.8 656.8,583.1 657.2,582.3 657.6,585.2 658.0,582.3 658.4,583.7 658.8,582.3 659.2,584.1 659.6,586.3 660.0,583.6 660.4,584.2 660.8,584.3 661.2,585.6 661.6,582.6 662.0,585.3 662.4,584.9 662.8,583.4 663.2,583.4 663.6,587.2 664.0,586.3 664.4,585.8 664.8,583.7 665.2,584.5 665.6,582.9 666.0,582.3 666.4,584.3 666.8,584.1 667.2,583.0 667.6,583.0 668.0,585.7 668.4,584.3 668.8,582.4 669.2,588.1 669.6,582.4 670.0,585.5 670.4,583.4 670.8,586.3 671.2,585.2 671.6,586.8 672.0,585.0 672.4,583.8 672.8,587.6 673.2,585.0 673.6,584.8 674.0,584.9 674.4,583.9 674.8,585.7 675.2,587.9 675.6,587.6 676.0,585.6 676.4,586.2 676.8,586.4 677.2,584.1 677.6,587.6 678.0,585.6 678.4,582.4 678.8,586.2 679.2,583.6 679.6,585.6 680.0,586.3 680.4,584.6 680.8,585.6 681.2,587.4 681.6,582.8 682.0,582.4 682.4,584.9 682.8,584.7 683.2,588.1 683.6,586.8 684.0,586.0 684.4,585.0 684.8,582.4 685.2,582.9 685.6,584.6 686.0,585.4 686.4,584.4 686.8,585.3 687.2,586.3 687.6,583.9 688.0,584.4 688.4,583.5 688.8,587.1 689.2,582.4 689.6,586.1 690.0,586.4 690.4,582.4 690.8,584.3 691.2,586.9 691.6,583.6 692.0,584.1 692.4,585.0 692.8,587.3 693.2,586.1 693.6,583.9 694.0,582.8 694.4,582.6 694.8,585.6 695.2,582.4 695.6,584.1 696.0,586.0 696.4,583.1 696.8,584.5 697.2,584.8 697.6,586.3 698.0,582.8 698.4,585.1 698.8,584.9 699.2,585.2 699.6,582.4 700.0,585.8 700.4,583.6 700.8,584.7 701.2,583.5 701.6,587.9 702.0,585.0 702.4,587.8 702.8,583.8 703.2,584.3 703.6,587.2 704.0,584.1 704.4,585.4 704.8,586.5 705.2,583.9 705.6,583.3 706.0,583.9 706.4,585.9 706.8,584.7 707.2,585.8 707.6,582.9 708.0,582.0 708.4,580.0 708.8,580.2 709.2,578.0 709.6,576.7 710.0,572.9 710.4,572.1 710.8,569.9 711.2,568.8 711.3,568.7 711.6,569.2 712.0,570.9 712.4,575.4 712.8,575.2 713.2,577.6 713.6,577.3 714.0,578.8 714.4,582.3 714.8,585.3 715.2,586.5 715.6,585.3 716.0,583.4 716.4,585.2 716.8,582.1 717.2,584.4 717.6,582.7 718.0,584.7 718.4,587.1 718.8,587.7 719.2,585.2 719.6,585.5 720.0,582.3 720.4,583.9 720.8,587.4 721.2,586.9 721.6,586.4 722.0,585.8 722.4,587.7 722.8,584.7 723.2,584.8 723.6,588.0 724.0,583.7 724.4,585.9 724.8,584.5 725.2,587.6 725.6,584.7 726.0,584.6 726.4,584.7 726.8,586.5 727.2,583.6 727.6,582.8 728.0,585.0 728.4,584.6 728.8,586.1 729.2,584.7 729.6,584.3 730.0,585.7 730.4,585.9 730.8,586.9 731.2,585.4 731.6,582.7 732.0,585.2 732.4,585.3 732.8,585.1 733.2,586.1 733.6,584.8 734.0,587.1 734.4,584.8 734.8,587.5 735.2,583.5 735.6,582.7 736.0,583.8 736.4,588.2 736.8,584.9 737.2,585.1 737.6,585.7 738.0,584.6 738.4,585.7 738.8,585.5 739.2,588.2 739.6,587.2 740.0,585.8 740.4,586.5 740.8,586.3 741.2,583.6 741.6,587.1 742.0,584.4 742.4,586.6 742.8,585.6 743.2,586.8 743.6,587.6 744.0,586.3 744.4,584.6 744.8,584.9 745.2,586.3 745.6,584.7 746.0,584.8 746.4,585.2 746.8,584.8 747.2,586.2 747.6,584.7 748.0,585.6 748.4,584.3 748.8,582.8 749.2,586.7 749.6,587.0 750.0,584.6 750.4,586.7 750.8,585.9 751.2,583.6 751.6,587.3 752.0,582.9 752.4,585.3 752.8,586.6 753.2,583.7 753.6,588.0 754.0,584.5 754.4,587.4 754.8,585.2 755.2,586.5 755.6,585.4 756.0,588.2 756.4,586.1 756.8,587.1 757.2,586.6 757.6,585.8 758.0,585.1 758.4,586.1 758.8,587.1 759.2,586.9 759.6,586.4 760.0,585.3 760.4,586.6 760.8,584.0 761.2,585.5 761.6,582.9 762.0,584.5 762.4,585.3 762.8,583.4 763.2,583.8 763.6,587.0 764.0,586.4 764.4,587.3 764.8,587.4 765.2,586.6 765.6,586.8 766.0,586.1 766.4,587.6 766.8,583.2 767.2,585.3 767.6,587.2 768.0,586.9 768.4,585.7 768.8,585.1 769.2,586.9 769.6,585.4 770.0,583.9 770.4,587.4 770.8,585.1 771.2,585.9 771.6,583.1 772.0,583.0 772.4,586.3 772.8,588.2 773.2,583.0 773.6,584.9 774.0,586.5 774.4,585.9 774.8,585.7 775.2,585.6 775.6,584.2 776.0,587.3 776.4,587.1 776.8,586.2 777.2,583.0 777.6,588.2 778.0,585.6 778.4,586.5 778.8,588.2 779.2,587.7 779.6,585.5 780.0,587.3 780.4,586.6 780.8,584.8 781.2,585.9 781.6,583.0 782.0,583.3 782.4,586.0 782.8,587.9 783.2,584.2 783.6,587.5 784.0,585.9 784.4,588.3 784.8,585.2 785.2,588.3 785.6,586.4 786.0,585.3 786.4,586.1 786.8,583.1 787.2,586.2 787.6,585.2 788.0,586.5 788.4,585.2 788.8,583.1 789.2,583.1 789.6,584.7 790.0,583.8 790.4,587.0 790.8,584.1 791.2,586.4 791.6,585.5 792.0,588.1 792.4,585.8 792.8,586.0 793.2,584.2 793.6,586.3 794.0,586.7 794.4,585.5 794.8,586.8 795.2,584.1 795.6,585.4 796.0,586.3 796.4,585.2 796.8,587.6 797.2,586.7 797.6,584.8 798.0,584.3 798.4,585.7 798.8,584.6 799.2,585.1 799.6,584.0 800.0,586.9 800.4,586.0 800.8,586.2 801.2,587.0 801.6,583.2 802.0,585.8 802.4,585.4 802.8,586.8 803.2,586.5 803.6,586.5 804.0,587.7 804.4,583.2 804.8,584.1 805.2,587.6 805.6,587.9 806.0,584.5 806.4,587.4 806.8,587.1 807.2,583.7 807.6,584.8 808.0,586.3 808.4,585.6 808.8,588.3 809.2,586.7 809.6,587.1 810.0,584.8 810.4,583.9 810.8,584.9 811.2,587.9 811.6,588.3 812.0,584.6 812.4,585.6 812.8,583.2 813.2,587.7 813.6,583.9 814.0,587.1 814.4,587.7 814.8,583.8 815.2,584.5 815.6,586.8 816.0,587.8 816.4,585.0 816.8,584.2 817.2,586.3 817.6,587.7 818.0,584.1 818.4,584.6 818.8,587.5 819.2,586.1 819.6,584.6 820.0,585.8 820.4,586.5 820.8,587.3 821.2,586.2 821.6,585.8 822.0,583.3 822.4,586.6 822.8,586.5 823.2,586.1 823.6,585.8 824.0,586.0 824.4,587.2 824.8,585.2 825.2,584.0 825.6,587.1 826.0,585.2 826.4,585.4 826.8,586.4 827.2,585.4 827.6,585.7 828.0,584.2 828.4,587.7 828.8,583.8 829.2,587.7 829.6,583.9 830.0,584.8 830.4,585.2 830.8,587.1 831.2,586.1 831.6,585.1 832.0,584.0 832.4,587.3 832.8,585.9 833.2,586.4 833.6,585.5 834.0,585.1 834.4,586.8 834.8,586.2 835.2,587.5 835.6,586.1 836.0,583.8 836.4,586.9 836.8,585.9 837.2,585.5 837.6,583.4 838.0,584.6 838.4,586.1 838.8,584.9 839.2,586.2 839.6,586.7 840.0,585.8 840.4,584.5 840.8,586.5 841.2,586.4 841.6,585.5 842.0,583.4 842.4,584.0 842.8,587.0 843.2,585.5 843.6,583.4 844.0,585.6 844.4,585.9 844.8,586.8 845.2,586.5 845.6,586.4 846.0,584.7 846.4,583.4 846.8,584.9 847.2,587.8 847.6,583.7 848.0,587.1 848.4,583.7 848.8,584.0 849.2,586.0 849.6,584.7 850.0,585.5 850.4,584.2 850.8,586.0 851.2,587.0 851.6,583.7 852.0,586.6 852.4,586.4 852.8,587.0 853.2,583.4 853.6,587.1 854.0,584.2 854.4,585.5 854.8,585.2 855.2,584.4 855.6,584.6 856.0,584.8 856.4,586.1 856.8,586.9 857.2,585.4 857.6,586.9 858.0,586.0 858.4,587.5 858.8,583.9 859.2,586.0 859.6,585.8 860.0,586.0 860.4,586.3 860.8,587.0 861.2,586.0 861.6,586.6 862.0,585.4 862.4,585.6 862.8,584.9 863.2,587.3 863.6,586.9 864.0,587.6 864.4,585.2 864.8,585.6 865.2,588.3 865.6,587.3 866.0,583.8 866.4,586.9 866.8,586.3 867.2,585.4 867.6,585.5 868.0,584.7 868.4,585.1 868.8,584.8 869.2,584.2 869.6,585.3 870.0,584.6 870.4,586.8 870.8,587.3 871.2,585.6 871.6,585.4 872.0,586.7 872.4,585.7 872.8,588.3 873.2,583.5 873.6,583.5 874.0,584.3 874.4,586.5 874.8,586.9 875.2,585.2 875.6,585.9 876.0,585.5 876.4,586.5 876.8,588.3 877.2,583.6 877.6,588.3 878.0,587.3 878.4,585.4 878.8,586.6 879.2,585.8 879.6,586.5 880.0,586.5 880.4,587.0 880.8,584.5 881.2,586.7 881.6,585.0 882.0,585.5 882.4,587.0 882.8,585.3 883.2,586.3 883.6,586.4 884.0,586.0 884.4,584.2 884.8,586.6 885.2,586.2 885.6,588.3 886.0,584.5 886.4,587.4 886.8,585.3 887.2,585.5 887.6,588.3 888.0,585.7 888.4,587.0 888.8,586.1 889.2,584.7 889.6,585.6 890.0,585.3 890.4,585.6 890.8,588.3 891.2,586.6 891.6,583.6 892.0,588.3 892.4,586.5 892.8,587.2 893.2,588.1 893.6,584.8 894.0,586.4 894.4,585.8 894.8,585.5 895.2,585.5 895.6,586.1 896.0,587.6 896.4,587.0 896.8,586.4 897.2,587.6 897.6,583.6 898.0,586.0 898.4,586.5 898.8,586.4 899.2,587.9 899.6,586.2 900.0,587.8 900.4,585.7 900.8,586.9 901.2,586.1 901.6,585.6 902.0,586.7 902.4,586.8 902.8,584.8 903.2,587.3 903.6,585.6 904.0,586.1 904.4,583.7 904.8,586.0 905.2,583.7 905.6,587.2 906.0,584.9 906.4,585.4 906.8,585.8 907.2,584.2 907.6,586.0 908.0,584.3 908.4,585.7 908.8,587.2 909.2,587.7 909.6,587.9 910.0,585.7 910.4,584.7 910.8,586.7 911.2,588.1 911.6,584.8 912.0,587.8 912.4,585.8 912.8,583.7 913.2,586.1 913.6,588.3 914.0,587.0 914.4,587.4 914.8,586.5 915.2,583.8 915.6,583.7 916.0,584.6 916.4,585.5 916.8,584.7 917.2,584.9 917.6,587.0 918.0,588.0 918.4,583.7 918.8,584.6 919.2,585.9 919.6,585.7 920.0,583.7 920.4,588.3 920.8,586.9 921.2,586.5 921.6,583.7 922.0,586.4 922.4,584.4 922.8,586.7 923.2,586.4 923.6,586.1 924.0,586.6 924.4,585.2 924.8,586.2 925.2,583.8 925.6,587.0 926.0,585.7 926.4,588.2 926.8,586.0 927.2,583.5 927.6,587.6 928.0,584.3 928.4,583.4 928.8,584.2 929.2,585.3 929.6,584.9 930.0,581.3 930.4,581.3 930.8,580.7 931.2,579.2 931.6,579.4 932.0,580.2 932.4,580.9 932.8,583.2 933.2,580.5 933.6,584.2 934.0,584.8 934.4,586.7 934.8,584.8 935.2,585.1 935.6,585.9 936.0,585.2 936.4,585.2 936.8,585.1 937.2,585.1 937.6,584.7 938.0,585.2 938.4,585.0 938.8,585.1 939.2,584.3 939.6,587.3 940.0,586.4 940.4,585.9 940.8,584.6 941.2,586.8 941.6,585.7 942.0,585.9 942.4,586.1 942.8,585.9 943.2,587.3 943.6,585.0 944.0,585.2 944.4,586.2 944.8,585.8 945.2,586.7 945.6,587.2 946.0,587.8 946.4,587.3 946.8,585.7 947.2,585.8 947.6,585.5 948.0,587.5 948.4,585.7 948.8,584.9 949.2,584.7 949.6,587.0 950.0,584.9 950.4,583.9 950.8,587.0 951.2,586.5 951.6,587.0 952.0,587.3 952.4,586.7 952.8,586.5 953.2,586.1 953.6,585.0 954.0,583.9 954.4,583.9 954.8,586.5 955.2,587.1 955.6,586.1 956.0,585.1 956.4,586.9 956.8,586.0 957.2,586.1 957.6,585.6 958.0,584.6 958.4,584.8 958.8,586.6 959.2,588.1 959.6,588.2 960.0,585.8 960.4,586.6 960.8,586.0 961.2,586.3 961.6,586.6 962.0,587.2 962.4,584.6 962.8,588.2 963.2,585.9 963.6,584.8 964.0,588.2 964.4,585.0 964.8,586.0 965.2,585.2 965.6,587.6 966.0,583.9 966.4,586.5 966.8,584.1 967.2,588.1 967.6,588.2 968.0,587.2 968.4,585.1 968.8,587.6 969.2,588.2 969.6,586.4 970.0,585.6 970.4,587.9 970.8,584.4 971.2,585.7 971.6,586.0 972.0,586.2 972.4,587.5 972.8,585.9 973.2,584.7 973.6,584.3 974.0,585.9 974.4,586.7 974.8,587.3 975.2,586.9 975.6,584.4 976.0,586.8 976.4,585.3 976.8,587.7 977.2,585.7 977.6,585.7 978.0,585.4 978.4,587.3 978.8,586.0 979.2,588.2 979.6,587.6 980.0,584.6 980.4,586.1 980.8,587.4 981.2,587.1 981.6,586.9 982.0,586.4 982.4,584.2 982.8,584.3 983.2,587.1 983.6,585.3 984.0,586.1 984.4,586.9 984.8,584.0 985.2,584.0 985.6,586.8 986.0,585.4 986.4,585.7 986.8,587.5 987.2,585.8 987.6,586.0 988.0,586.5 988.4,584.0 988.8,588.2 989.2,586.6 989.6,585.4 990.0,587.5 990.4,585.0 990.8,585.3 991.2,584.6 991.6,585.8 992.0,585.2 992.4,586.4 992.8,585.3 993.2,586.4 993.6,586.6 994.0,586.6 994.4,586.6 994.8,586.2 995.2,585.1 995.6,584.0 996.0,586.5 996.4,584.4 996.8,586.5 997.2,586.1 997.6,586.1 998.0,586.1 998.4,586.8 998.8,584.9 999.2,586.5 999.6,587.4 1000.0,587.1 1000.4,587.5 1000.8,585.8 1001.2,586.0 1001.6,588.2 1002.0,586.7 1002.4,586.4 1002.8,587.3 1003.2,585.1 1003.6,586.0 1004.0,586.7 1004.4,586.0 1004.8,587.9 1005.2,586.7 1005.6,587.2 1006.0,585.1 1006.4,586.1 1006.8,586.1 1007.2,586.8 1007.6,586.7 1008.0,586.1 1008.4,586.8 1008.8,588.2 1009.2,586.2 1009.6,585.4 1010.0,587.6 1010.4,587.9 1010.8,586.4 1011.2,587.3 1011.6,584.1 1012.0,586.7 1012.4,585.9 1012.8,588.2 1013.2,586.4 1013.6,588.2 1014.0,585.9 1014.4,585.8 1014.8,585.5 1015.2,584.8 1015.6,585.5 1016.0,587.5 1016.4,584.3 1016.8,586.3 1017.2,587.5 1017.6,586.5 1018.0,586.8 1018.4,586.6 1018.8,586.8 1019.2,584.1 1019.6,587.9 1020.0,586.6 1020.4,585.5 1020.8,585.8 1021.2,586.0 1021.6,587.0 1022.0,584.8 1022.4,584.7 1022.8,584.6 1023.2,587.2 1023.6,585.1 1024.0,586.3 1024.4,584.8 1024.8,586.1 1025.2,585.6 1025.6,585.3 1026.0,587.5 1026.4,586.3 1026.8,585.1 1027.2,588.2 1027.6,585.1 1028.0,584.8 1028.4,584.2 1028.8,588.1 1029.2,586.4 1029.6,586.6 1030.0,587.5 1030.4,586.3 1030.8,587.0 1031.2,588.1 1031.6,586.5 1032.0,587.1 1032.4,586.5 1032.8,586.4 1033.2,587.9 1033.6,586.9 1034.0,586.5 1034.4,584.2 1034.8,585.2 1035.2,585.4 1035.6,586.2 1036.0,586.7 1036.4,586.4 1036.8,586.0 1037.2,586.6 1037.6,586.6 1038.0,587.3 1038.4,584.2 1038.8,587.4 1039.2,588.1 1039.6,587.5 1040.0,585.7 1040.4,585.2 1040.8,586.2 1041.2,587.8 1041.6,586.5 1042.0,584.2 1042.4,584.2 1042.8,586.5 1043.2,588.1 1043.6,584.4 1044.0,585.5 1044.4,586.2 1044.8,586.6 1045.2,587.2 1045.6,584.4 1046.0,586.3 1046.4,585.4 1046.8,587.1 1047.2,586.6 1047.6,587.5 1048.0,584.8 1048.4,584.9 1048.8,585.4 1049.2,585.6 1049.6,585.4 1050.0,584.7 1050.4,585.5 1050.8,584.3 1051.2,587.2 1051.6,585.5 1052.0,584.5 1052.4,586.0 1052.8,583.7 1053.2,585.5 1053.6,584.2 1054.0,586.0 1054.4,584.0 1054.8,581.8 1055.2,583.2 1055.6,581.9 1056.0,582.4 1056.4,579.9 1056.8,581.7 1057.2,582.2 1057.6,584.8 1058.0,582.8 1058.4,585.0 1058.8,584.9 1059.2,583.9 1059.6,585.1 1060.0,586.5 1060.4,585.8 1060.8,585.9 1061.2,586.0 1061.6,586.3 1062.0,586.5 1062.4,586.1 1062.8,584.5 1063.2,585.9 1063.6,586.3 1064.0,588.0 1064.4,585.0 1064.8,587.9 1065.2,585.6 1065.6,587.9 1066.0,584.3 1066.4,585.8 1066.8,584.3 1067.2,584.5 1067.6,585.7 1068.0,586.7 1068.4,585.3 1068.8,586.4 1069.2,585.2 1069.6,587.9 1070.0,585.5 1070.4,588.1 1070.8,588.1 1071.2,585.1 1071.6,586.7 1072.0,585.6 1072.4,587.8 1072.8,586.5 1073.2,588.1 1073.6,586.0 1074.0,585.8 1074.4,585.3 1074.8,586.3 1075.2,586.6 1075.6,586.2 1076.0,586.5 1076.4,587.0 1076.8,586.1 1077.2,585.5 1077.6,585.1 1078.0,585.5 1078.4,585.8 1078.8,587.3 1079.2,587.2 1079.6,585.4 1080.0,586.8 1080.4,585.2 1080.8,587.1 1081.2,584.4 1081.6,587.3 1082.0,586.0 1082.4,586.5 1082.8,586.1 1083.2,585.0 1083.6,586.3 1084.0,586.2 1084.4,587.0 1084.8,586.9 1085.2,587.5 1085.6,586.8 1086.0,585.0 1086.4,587.1 1086.8,584.9 1087.2,585.4 1087.6,586.3 1088.0,585.3 1088.4,585.8 1088.8,587.3 1089.2,585.6 1089.6,585.2 1090.0,584.8 1090.4,588.1 1090.8,585.7 1091.2,586.3 1091.6,586.3 1092.0,587.4 1092.4,585.6 1092.8,585.3 1093.2,585.8 1093.6,585.4 1094.0,584.7 1094.4,584.4 1094.8,586.3 1095.2,585.8 1095.6,587.7 1096.0,585.7 1096.4,585.8 1096.8,587.5 1097.2,584.4 1097.6,587.1 1098.0,585.3 1098.4,585.0 1098.8,586.6 1099.2,586.4 1099.6,585.0 1100.0,586.5 1100.4,587.9 1100.8,587.1 1101.2,586.4 1101.6,585.6 1102.0,586.1 1102.4,586.7 1102.8,586.0 1103.2,586.7 1103.6,587.3 1104.0,584.7 1104.4,586.4 1104.8,586.8 1105.2,586.0 1105.6,585.6 1106.0,587.8 1106.4,586.2 1106.8,586.2 1107.2,585.7 1107.6,585.9 1108.0,585.9 1108.4,586.1 1108.8,584.7 1109.2,584.6 1109.6,585.6 1110.0,585.9 1110.4,585.6 1110.8,587.0 1111.2,586.2 1111.6,587.0 1112.0,586.5 1112.4,584.5 1112.8,586.7 1113.2,587.8 1113.6,586.4 1114.0,586.2 1114.4,585.1 1114.8,586.5 1115.2,585.2 1115.6,584.5 1116.0,586.5 1116.4,587.1 1116.8,586.0 1117.2,586.1 1117.6,585.6 1118.0,587.9 1118.4,586.7 1118.8,585.9 1119.2,585.9 1119.6,586.4 1120.0,587.4 1120.4,585.7 1120.8,585.3 1121.2,586.6 1121.6,586.1 1122.0,584.7 1122.4,586.1 1122.8,585.9 1123.2,585.8 1123.6,586.4 1124.0,586.5 1124.4,588.0 1124.8,586.9 1125.2,587.1 1125.6,585.8 1126.0,586.3 1126.4,585.6 1126.8,585.6 1127.2,587.1 1127.6,588.1 1128.0,587.0 1128.4,586.7 1128.8,586.8 1129.2,587.1 1129.6,586.2 1130.0,586.2 1130.4,586.9 1130.8,587.9 1131.2,586.4 1131.6,584.6 1132.0,587.1 1132.4,586.5 1132.8,585.5 1133.2,585.4 1133.6,584.6 1134.0,585.5 1134.4,586.1 1134.8,586.8 1135.2,586.2 1135.6,585.3 1136.0,585.9 1136.4,586.3 1136.8,586.9 1137.2,586.6 1137.6,587.1 1138.0,584.6 1138.4,586.5 1138.8,586.6 1139.2,585.3 1139.6,586.5 1140.0,585.8 1140.4,585.1 1140.8,585.0 1141.2,586.8 1141.6,586.9 1142.0,587.4 1142.4,587.0 1142.8,586.8 1143.2,585.2 1143.6,586.1 1144.0,586.0 1144.4,588.0 1144.8,585.4 1145.2,585.0 1145.6,585.3 1146.0,587.3 1146.4,585.7 1146.8,587.0 1147.2,585.8 1147.6,587.3 1148.0,584.8 1148.4,585.9 1148.8,586.9 1149.2,586.1 1149.6,585.4 1150.0,587.7 1150.4,584.9 1150.8,585.5 1151.2,587.4 1151.6,588.0 1152.0,586.3 1152.4,585.1 1152.8,585.1 1153.2,585.5 1153.6,586.2 1154.0,587.6 1154.4,587.2 1154.8,587.3 1155.2,585.8 1155.6,587.1 1156.0,587.1 1156.4,587.2 1156.8,586.3 1157.2,585.9 1157.6,587.4 1158.0,587.9 1158.4,586.1 1158.8,586.7 1159.2,587.4 1159.6,587.9 1160.0,588.0 1160.4,586.4 1160.8,587.6 1161.2,585.2 1161.6,584.6 1162.0,585.9 1162.4,586.7 1162.8,584.9 1163.2,586.2 1163.6,586.5 1164.0,586.3 1164.4,586.6 1164.8,587.5 1165.2,586.1 1165.6,585.9 1166.0,586.9 1166.4,587.4 1166.8,585.9 1167.2,587.7 1167.6,587.1 1168.0,586.0 1168.4,586.3 1168.8,585.6 1169.2,587.0 1169.6,586.5 1170.0,588.1 1170.4,584.7 1170.8,585.2 1171.2,585.8 1171.6,586.9 1172.0,586.0 1172.4,585.6 1172.8,586.8 1173.2,585.9 1173.6,586.6 1174.0,587.2 1174.4,587.3 1174.8,584.8 1175.2,585.6 1175.6,586.8 1176.0,586.2 1176.4,585.6 1176.8,587.0 1177.2,586.4 1177.6,586.8 1178.0,587.2 1178.4,586.0 1178.8,587.4 1179.2,586.5 1179.6,586.6 1180.0,587.4 1180.4,584.8 1180.8,584.7 1181.2,585.2 1181.6,587.2 1182.0,586.5 1182.4,585.8 1182.8,585.4 1183.2,584.7 1183.6,586.7 1184.0,586.3 1184.4,586.7 1184.8,587.3 1185.2,586.7 1185.6,587.7 1186.0,586.0 1186.4,587.8 1186.8,586.8 1187.2,585.8 1187.6,586.5 1188.0,588.1 1188.4,585.1 1188.8,585.8 1189.2,586.0 1189.6,586.5 1190.0,586.4 1190.4,588.1 1190.8,586.2"/>
<polyline class="c" stroke="#6B399C" points="100.0,361.5 100.4,356.9 100.8,358.0 101.2,358.8 101.6,356.2 102.0,357.9 102.4,357.9 102.8,354.3 103.2,360.1 103.6,359.2 104.0,356.6 104.4,357.6 104.8,359.0 105.2,357.4 105.6,357.4 106.0,354.8 106.4,359.1 106.8,358.2 107.2,358.5 107.6,354.7 108.0,361.5 108.4,358.3 108.8,357.1 109.2,361.6 109.6,357.9 110.0,354.8 110.4,357.1 110.8,354.3 111.2,360.2 111.6,357.1 112.0,356.4 112.4,360.3 112.8,354.4 113.2,359.1 113.6,354.3 114.0,356.5 114.4,355.4 114.8,361.1 115.2,361.6 115.6,357.3 116.0,359.8 116.4,357.6 116.8,359.2 117.2,356.4 117.6,354.3 118.0,354.3 118.4,358.8 118.8,361.6 119.2,358.6 119.6,356.9 120.0,361.7 120.4,358.5 120.8,358.2 121.2,358.5 121.6,357.7 122.0,357.3 122.4,354.9 122.8,359.1 123.2,357.8 123.6,360.6 124.0,357.2 124.4,354.4 124.8,357.8 125.2,361.7 125.6,357.2 126.0,356.1 126.4,355.5 126.8,355.8 127.2,357.4 127.6,355.5 128.0,361.3 128.4,357.4 128.8,358.3 129.2,361.1 129.6,361.3 130.0,357.6 130.4,358.8 130.8,359.6 131.2,357.6 131.6,354.4 132.0,359.5 132.4,360.0 132.8,359.0 133.2,356.1 133.6,357.7 134.0,356.8 134.4,357.4 134.8,360.9 135.2,361.4 135.6,359.5 136.0,359.3 136.4,359.6 136.8,358.1 137.2,357.9 137.6,356.7 138.0,358.0 138.4,361.8 138.8,360.0 139.2,357.4 139.6,357.1 140.0,356.3 140.4,358.9 140.8,359.0 141.2,355.0 141.6,359.2 142.0,356.9 142.4,361.2 142.8,358.5 143.2,361.8 143.6,357.2 144.0,357.5 144.4,358.8 144.8,360.4 145.2,359.4 145.6,355.5 146.0,358.6 146.4,358.2 146.8,357.2 147.2,356.8 147.6,361.8 148.0,357.3 148.4,356.4 148.8,359.6 149.2,358.5 149.6,358.0 150.0,359.9 150.4,359.2 150.8,359.0 151.2,360.3 151.6,358.8 152.0,356.9 152.4,357.4 152.8,357.1 153.2,358.7 153.6,355.9 154.0,354.6 154.4,358.4 154.8,355.4 155.2,354.6 155.6,359.0 156.0,356.7 156.4,359.3 156.8,357.1 157.2,355.8 157.6,355.6 158.0,357.2 158.4,357.7 158.8,356.5 159.2,357.7 159.6,355.0 160.0,358.3 160.4,354.6 160.8,357.9 161.2,359.8 161.6,360.6 162.0,361.9 162.4,354.9 162.8,359.9 163.2,360.9 163.6,360.4 164.0,356.3 164.4,359.2 164.8,362.0 165.2,355.1 165.6,359.3 166.0,360.7 166.4,356.8 166.8,359.6 167.2,356.0 167.6,356.6 168.0,356.6 168.4,358.8 168.8,358.2 169.2,360.4 169.6,356.3 170.0,358.1 170.4,360.4 170.8,359.6 171.2,355.5 171.6,359.8 172.0,357.3 172.4,359.2 172.8,359.0 173.2,361.0 173.6,358.6 174.0,354.7 174.4,355.4 174.8,360.0 175.2,357.8 175.6,360.9 176.0,359.0 176.4,356.8 176.8,360.7 177.2,356.7 177.6,354.8 178.0,362.1 178.4,354.8 178.8,359.8 179.2,360.5 179.6,358.8 180.0,354.8 180.4,360.6 180.8,355.3 181.2,355.6 181.6,357.7 182.0,360.2 182.4,359.1 182.8,360.2 183.2,357.5 183.6,358.1 184.0,356.0 184.4,357.8 184.8,359.8 185.2,357.8 185.6,359.5 186.0,357.3 186.4,357.2 186.8,358.6 187.2,358.1 187.6,359.8 188.0,358.9 188.4,362.2 188.8,358.0 189.2,358.0 189.6,356.3 190.0,358.6 190.4,360.0 190.8,356.9 191.2,358.4 191.6,360.1 192.0,358.3 192.4,357.4 192.8,360.6 193.2,358.7 193.6,359.4 194.0,361.1 194.4,361.0 194.8,357.8 195.2,357.4 195.6,359.2 196.0,358.3 196.4,354.9 196.8,361.3 197.2,358.6 197.6,360.1 198.0,356.0 198.4,361.3 198.8,357.3 199.2,358.3 199.6,355.6 200.0,358.2 200.4,358.1 200.8,358.2 201.2,359.5 201.6,358.7 202.0,360.7 202.4,357.6 202.8,356.4 203.2,358.5 203.6,359.9 204.0,361.3 204.4,360.3 204.8,354.9 205.2,359.4 205.6,361.7 206.0,358.6 206.4,357.3 206.8,358.8 207.2,356.7 207.6,358.6 208.0,356.5 208.4,359.0 208.8,356.7 209.2,354.1 209.6,357.3 210.0,358.6 210.4,356.0 210.8,356.8 211.2,354.5 211.6,360.3 212.0,357.2 212.4,354.9 212.8,354.9 213.2,358.1 213.6,360.2 214.0,358.3 214.4,359.5 214.8,356.1 215.2,355.6 215.6,360.4 216.0,359.5 216.4,358.4 216.8,361.2 217.2,356.4 217.6,357.5 218.0,360.6 218.4,362.0 218.8,358.4 219.2,361.9 219.6,357.0 220.0,359.0 220.4,357.9 220.8,354.8 221.2,358.7 221.6,360.1 222.0,357.8 222.4,357.9 222.8,360.9 223.2,355.2 223.6,354.6 224.0,356.3 224.4,355.0 224.8,360.4 225.2,358.0 225.6,355.3 226.0,355.6 226.4,360.4 226.8,355.1 227.2,354.5 227.6,356.4 228.0,356.6 228.4,355.1 228.8,351.8 229.2,350.2 229.6,352.6 230.0,349.2 230.4,342.7 230.8,343.3 231.2,332.0 231.6,310.0 232.0,277.0 232.4,232.4 232.8,188.7 233.1,175.3 233.2,176.9 233.6,208.7 234.0,256.9 234.4,292.8 234.8,321.7 235.2,336.2 235.6,347.7 236.0,345.8 236.4,347.5 236.8,350.8 237.2,351.0 237.6,353.0 238.0,355.9 238.4,357.2 238.8,359.6 239.2,354.8 239.6,360.4 240.0,360.7 240.4,356.8 240.8,353.8 241.2,357.4 241.6,357.9 242.0,354.2 242.4,358.1 242.8,357.6 243.2,356.4 243.6,359.6 244.0,360.4 244.4,357.3 244.8,358.9 245.2,357.0 245.6,356.8 246.0,358.7 246.4,359.7 246.8,357.4 247.2,355.0 247.6,359.9 248.0,355.2 248.4,358.9 248.8,362.2 249.2,358.4 249.6,355.7 250.0,354.8 250.4,360.1 250.8,357.1 251.2,357.7 251.6,357.9 252.0,355.2 252.4,354.1 252.8,352.2 253.2,350.4 253.6,350.7 254.0,354.0 254.4,354.2 254.8,355.9 255.2,355.4 255.6,356.7 256.0,358.7 256.4,355.6 256.8,357.4 257.2,354.9 257.6,360.7 258.0,358.9 258.4,360.0 258.8,362.3 259.2,361.4 259.6,359.0 260.0,360.8 260.4,356.0 260.8,360.0 261.2,359.3 261.6,355.5 262.0,361.6 262.4,357.0 262.8,359.6 263.2,356.8 263.6,359.4 264.0,359.6 264.4,354.7 264.8,353.0 265.2,356.0 265.6,358.3 266.0,356.0 266.4,356.0 266.8,358.8 267.2,354.6 267.6,357.2 268.0,355.9 268.4,359.7 268.8,357.6 269.2,356.8 269.6,358.5 270.0,356.1 270.4,359.3 270.8,357.9 271.2,358.5 271.6,357.8 272.0,361.3 272.4,359.1 272.8,360.5 273.2,360.4 273.6,357.6 274.0,360.6 274.4,360.1 274.8,360.0 275.2,358.5 275.6,358.5 276.0,361.1 276.4,363.0 276.8,357.6 277.2,360.6 277.6,358.6 278.0,361.1 278.4,360.4 278.8,361.7 279.2,355.8 279.6,358.1 280.0,357.3 280.4,359.2 280.8,357.9 281.2,358.1 281.6,360.9 282.0,363.1 282.4,355.8 282.8,358.8 283.2,360.1 283.6,359.5 284.0,358.7 284.4,356.6 284.8,357.5 285.2,361.1 285.6,361.8 286.0,359.7 286.4,357.7 286.8,359.7 287.2,359.0 287.6,360.7 288.0,359.8 288.4,358.2 288.8,359.9 289.2,357.0 289.6,361.3 290.0,362.1 290.4,357.0 290.8,360.5 291.2,357.4 291.6,361.9 292.0,361.5 292.4,359.1 292.8,361.7 293.2,358.7 293.6,358.2 294.0,358.4 294.4,359.3 294.8,358.9 295.2,359.9 295.6,358.3 296.0,361.3 296.4,361.8 296.8,358.6 297.2,356.6 297.6,361.2 298.0,362.1 298.4,359.3 298.8,356.9 299.2,360.2 299.6,362.9 300.0,356.0 300.4,360.7 300.8,359.0 301.2,357.8 301.6,360.7 302.0,356.9 302.4,360.3 302.8,362.5 303.2,360.1 303.6,357.8 304.0,356.0 304.4,356.9 304.8,356.0 305.2,363.1 305.6,359.2 306.0,357.5 306.4,356.9 306.8,357.4 307.2,359.0 307.6,357.0 308.0,363.3 308.4,358.1 308.8,358.0 309.2,360.4 309.6,362.9 310.0,362.6 310.4,358.7 310.8,360.3 311.2,360.1 311.6,360.9 312.0,360.3 312.4,357.7 312.8,357.1 313.2,360.1 313.6,357.2 314.0,362.7 314.4,359.9 314.8,357.6 315.2,359.1 315.6,358.7 316.0,359.5 316.4,361.8 316.8,356.7 317.2,356.2 317.6,360.5 318.0,359.4 318.4,360.2 318.8,360.8 319.2,359.4 319.6,361.5 320.0,357.9 320.4,360.0 320.8,358.1 321.2,357.4 321.6,361.2 322.0,361.1 322.4,356.2 322.8,357.4 323.2,360.5 323.6,362.2 324.0,358.4 324.4,359.5 324.8,356.8 325.2,363.5 325.6,360.9 326.0,361.8 326.4,361.3 326.8,361.9 327.2,361.2 327.6,359.2 328.0,361.5 328.4,360.1 328.8,362.7 329.2,358.3 329.6,358.7 330.0,361.3 330.4,362.7 330.8,360.2 331.2,358.4 331.6,359.7 332.0,358.9 332.4,363.6 332.8,361.9 333.2,362.7 333.6,360.6 334.0,358.7 334.4,362.5 334.8,363.5 335.2,361.2 335.6,359.9 336.0,362.3 336.4,359.2 336.8,361.6 337.2,358.4 337.6,357.9 338.0,361.2 338.4,360.7 338.8,363.6 339.2,359.4 339.6,360.0 340.0,357.5 340.4,356.3 340.8,356.3 341.2,361.0 341.6,357.5 342.0,362.4 342.4,363.1 342.8,359.4 343.2,363.6 343.6,360.5 344.0,362.4 344.4,359.5 344.8,362.1 345.2,358.0 345.6,361.4 346.0,359.0 346.4,359.8 346.8,361.4 347.2,360.4 347.6,359.9 348.0,361.6 348.4,361.8 348.8,357.1 349.2,361.3 349.6,361.5 350.0,358.4 350.4,360.9 350.8,357.2 351.2,363.2 351.6,359.6 352.0,359.9 352.4,362.6 352.8,359.8 353.2,361.4 353.6,357.8 354.0,358.9 354.4,357.1 354.8,359.6 355.2,362.3 355.6,360.6 356.0,362.0 356.4,357.9 356.8,358.2 357.2,359.1 357.6,361.3 358.0,360.9 358.4,360.1 358.8,361.5 359.2,359.8 359.6,360.1 360.0,362.9 360.4,358.9 360.8,360.5 361.2,363.6 361.6,360.4 362.0,361.7 362.4,358.9 362.8,363.8 363.2,356.5 363.6,357.7 364.0,357.9 364.4,363.6 364.8,360.9 365.2,359.6 365.6,357.4 366.0,360.9 366.4,360.4 366.8,358.7 367.2,357.0 367.6,357.8 368.0,360.6 368.4,360.8 368.8,360.3 369.2,359.9 369.6,356.6 370.0,360.3 370.4,358.0 370.8,360.3 371.2,361.2 371.6,358.8 372.0,358.0 372.4,362.3 372.8,361.0 373.2,358.9 373.6,356.6 374.0,360.1 374.4,361.6 374.8,362.6 375.2,358.8 375.6,358.9 376.0,359.3 376.4,362.0 376.8,357.8 377.2,360.0 377.6,358.3 378.0,360.8 378.4,357.0 378.8,361.0 379.2,359.2 379.6,359.8 380.0,361.4 380.4,362.7 380.8,356.7 381.2,362.4 381.6,361.4 382.0,359.6 382.4,363.2 382.8,360.7 383.2,363.0 383.6,359.0 384.0,358.5 384.4,362.8 384.8,363.8 385.2,361.6 385.6,362.2 386.0,359.3 386.4,357.5 386.8,359.8 387.2,363.4 387.6,356.7 388.0,359.3 388.4,356.7 388.8,360.5 389.2,362.1 389.6,357.7 390.0,359.5 390.4,363.1 390.8,360.1 391.2,357.7 391.6,357.6 392.0,356.8 392.4,361.9 392.8,358.8 393.2,362.5 393.6,362.1 394.0,359.0 394.4,359.2 394.8,362.0 395.2,360.6 395.6,360.9 396.0,356.9 396.4,362.2 396.8,358.5 397.2,356.8 397.6,359.1 398.0,361.2 398.4,363.9 398.8,359.6 399.2,357.6 399.6,363.9 400.0,360.7 400.4,359.8 400.8,358.1 401.2,358.3 401.6,363.4 402.0,359.8 402.4,359.3 402.8,359.3 403.2,363.6 403.6,359.2 404.0,361.7 404.4,360.9 404.8,360.9 405.2,358.6 405.6,361.8 406.0,363.7 406.4,360.3 406.8,358.5 407.2,357.7 407.6,360.8 408.0,359.8 408.4,360.2 408.8,360.4 409.2,357.4 409.6,362.0 410.0,360.9 410.4,360.3 410.8,360.9 411.2,362.3 411.6,360.5 412.0,358.7 412.4,362.8 412.8,359.5 413.2,358.9 413.6,357.2 414.0,360.4 414.4,358.3 414.8,359.4 415.2,361.4 415.6,360.5 416.0,362.5 416.4,361.1 416.8,359.6 417.2,359.8 417.6,359.4 418.0,361.8 418.4,360.5 418.8,359.6 419.2,362.2 419.6,360.7 420.0,359.5 420.4,357.4 420.8,361.4 421.2,361.0 421.6,360.6 422.0,359.6 422.4,358.8 422.8,360.0 423.2,361.0 423.6,360.2 424.0,360.2 424.4,359.5 424.8,361.2 425.2,361.0 425.6,359.0 426.0,362.0 426.4,362.1 426.8,362.2 427.2,360.2 427.6,360.1 428.0,358.1 428.4,362.0 428.8,357.0 429.2,359.7 429.6,359.8 430.0,362.3 430.4,360.5 430.8,358.6 431.2,357.6 431.6,359.0 432.0,360.7 432.4,360.6 432.8,360.1 433.2,359.1 433.6,360.1 434.0,362.6 434.4,358.3 434.8,360.6 435.2,363.8 435.6,361.7 436.0,359.6 436.4,361.9 436.8,359.0 437.2,360.6 437.6,363.7 438.0,364.0 438.4,357.1 438.8,362.0 439.2,364.0 439.6,359.5 440.0,361.1 440.4,363.6 440.8,359.6 441.2,361.5 441.6,360.5 442.0,357.1 442.4,361.3 442.8,360.2 443.2,362.5 443.6,364.0 444.0,362.0 444.4,359.9 444.8,361.5 445.2,361.0 445.6,362.7 446.0,357.7 446.4,358.3 446.8,357.2 447.2,361.8 447.6,360.6 448.0,359.3 448.4,359.2 448.8,359.5 449.2,358.8 449.6,360.0 450.0,359.6 450.4,363.4 450.8,361.3 451.2,359.0 451.6,359.5 452.0,363.0 452.4,361.5 452.8,361.2 453.2,362.1 453.6,363.8 454.0,358.2 454.4,359.2 454.8,357.2 455.2,361.6 455.6,359.9 456.0,359.3 456.4,359.1 456.8,362.0 457.2,360.4 457.6,359.6 458.0,363.2 458.4,358.6 458.8,358.1 459.2,364.1 459.6,359.9 460.0,359.6 460.4,359.2 460.8,360.4 461.2,362.2 461.6,362.2 462.0,361.8 462.4,360.1 462.8,357.7 463.2,361.3 463.6,363.7 464.0,362.8 464.4,360.4 464.8,362.3 465.2,359.9 465.6,360.6 466.0,358.3 466.4,360.1 466.8,361.0 467.2,360.4 467.6,362.2 468.0,364.1 468.4,363.3 468.8,360.1 469.2,359.3 469.6,359.4 470.0,358.8 470.4,360.8 470.8,361.6 471.2,361.1 471.6,361.1 472.0,361.0 472.4,360.5 472.8,359.3 473.2,364.1 473.6,362.8 474.0,359.0 474.4,359.0 474.8,359.6 475.2,360.8 475.6,363.2 476.0,362.8 476.4,362.9 476.8,362.9 477.2,362.9 477.6,362.2 478.0,361.7 478.4,360.5 478.8,357.4 479.2,360.5 479.6,364.1 480.0,359.7 480.4,359.6 480.8,362.8 481.2,360.9 481.6,359.8 482.0,363.8 482.4,362.0 482.8,362.3 483.2,359.7 483.6,361.8 484.0,361.5 484.4,362.3 484.8,363.0 485.2,363.0 485.6,361.1 486.0,362.2 486.4,358.6 486.8,362.1 487.2,362.1 487.6,360.1 488.0,359.3 488.4,360.7 488.8,358.5 489.2,361.5 489.6,361.4 490.0,359.0 490.4,360.9 490.8,362.9 491.2,362.9 491.6,362.8 492.0,360.5 492.4,360.2 492.8,360.1 493.2,362.0 493.6,364.1 494.0,363.6 494.4,363.9 494.8,363.5 495.2,357.7 495.6,360.5 496.0,360.0 496.4,363.3 496.8,364.1 497.2,359.6 497.6,360.9 498.0,361.9 498.4,359.9 498.8,359.7 499.2,359.6 499.6,362.6 500.0,359.1 500.4,363.1 500.8,361.0 501.2,362.3 501.6,363.9 502.0,359.6 502.4,359.3 502.8,361.7 503.2,358.9 503.6,359.5 504.0,360.7 504.4,361.2 504.8,358.5 505.2,360.2 505.6,362.0 506.0,363.5 506.4,357.6 506.8,363.4 507.2,362.6 507.6,358.8 508.0,358.1 508.4,361.7 508.8,360.1 509.2,361.2 509.6,362.6 510.0,360.2 510.4,361.2 510.8,361.8 511.2,362.6 511.6,364.2 512.0,364.2 512.4,361.4 512.8,360.5 513.2,364.2 513.6,362.2 514.0,361.8 514.4,358.8 514.8,362.4 515.2,359.5 515.6,360.1 516.0,358.4 516.4,360.0 516.8,361.1 517.2,358.1 517.6,359.3 518.0,360.8 518.4,358.6 518.8,358.6 519.2,359.4 519.6,358.3 520.0,362.1 520.4,359.1 520.8,362.4 521.2,362.7 521.6,358.7 522.0,361.1 522.4,360.1 522.8,358.8 523.2,360.3 523.6,360.5 524.0,362.3 524.4,362.9 524.8,358.9 525.2,360.2 525.6,362.0 526.0,363.2 526.4,357.8 526.8,363.4 527.2,360.7 527.6,363.9 528.0,360.2 528.4,359.4 528.8,361.1 529.2,363.2 529.6,361.1 530.0,357.8 530.4,362.3 530.8,358.0 531.2,359.2 531.6,358.8 532.0,357.8 532.4,358.6 532.8,359.1 533.2,359.9 533.6,360.9 534.0,360.4 534.4,358.2 534.8,360.7 535.2,362.8 535.6,362.8 536.0,361.3 536.4,362.2 536.8,362.7 537.2,363.5 537.6,364.1 538.0,360.2 538.4,360.2 538.8,363.2 539.2,363.1 539.6,362.7 540.0,356.1 540.4,358.4 540.8,355.2 541.2,359.5 541.6,358.1 542.0,358.2 542.4,358.1 542.8,361.3 543.2,358.7 543.6,361.7 544.0,361.2 544.4,361.1 544.8,361.5 545.2,361.0 545.6,358.8 546.0,362.2 546.4,362.3 546.8,360.7 547.2,362.3 547.6,362.6 548.0,358.5 548.4,360.6 548.8,360.1 549.2,359.2 549.6,361.4 550.0,359.3 550.4,360.0 550.8,361.2 551.2,361.4 551.6,361.3 552.0,363.8 552.4,359.7 552.8,361.0 553.2,358.3 553.6,361.3 554.0,362.5 554.4,362.4 554.8,358.9 555.2,359.3 555.6,362.0 556.0,359.1 556.4,360.6 556.8,356.5 557.2,359.9 557.6,357.5 558.0,353.0 558.4,344.1 558.8,334.1 559.2,319.3 559.6,306.3 559.8,304.1 560.0,306.3 560.4,319.3 560.8,337.0 561.2,342.4 561.6,349.7 562.0,352.8 562.4,356.1 562.8,355.1 563.2,359.9 563.6,359.5 564.0,359.2 564.4,358.6 564.8,360.4 565.2,360.6 565.6,361.0 566.0,359.1 566.4,361.7 566.8,357.9 567.2,363.0 567.6,357.6 568.0,359.7 568.4,358.6 568.8,362.3 569.2,358.1 569.6,364.0 570.0,358.1 570.4,364.1 570.8,361.8 571.2,361.0 571.6,361.8 572.0,364.1 572.4,362.7 572.8,357.9 573.2,363.2 573.6,361.5 574.0,358.1 574.4,362.5 574.8,358.9 575.2,361.4 575.6,361.5 576.0,359.9 576.4,362.3 576.8,359.3 577.2,361.5 577.6,360.1 578.0,360.8 578.4,364.2 578.8,361.3 579.2,359.2 579.6,360.9 580.0,359.8 580.4,361.2 580.8,361.5 581.2,361.3 581.6,361.3 582.0,360.2 582.4,362.0 582.8,363.1 583.2,360.1 583.6,361.1 584.0,361.3 584.4,363.5 584.8,363.2 585.2,359.9 585.6,361.3 586.0,358.5 586.4,359.5 586.8,361.2 587.2,362.4 587.6,362.9 588.0,360.7 588.4,358.8 588.8,361.9 589.2,360.9 589.6,362.0 590.0,361.5 590.4,362.5 590.8,362.4 591.2,362.8 591.6,360.4 592.0,363.0 592.4,360.3 592.8,361.4 593.2,364.3 593.6,361.9 594.0,359.1 594.4,363.9 594.8,363.0 595.2,363.3 595.6,361.6 596.0,361.9 596.4,360.8 596.8,360.0 597.2,364.0 597.6,360.6 598.0,360.4 598.4,360.5 598.8,364.3 599.2,362.8 599.6,360.6 600.0,361.2 600.4,362.2 600.8,362.8 601.2,358.4 601.6,362.9 602.0,360.9 602.4,360.1 602.8,360.6 603.2,362.7 603.6,364.3 604.0,361.5 604.4,362.3 604.8,359.8 605.2,362.2 605.6,362.8 606.0,358.6 606.4,360.4 606.8,362.7 607.2,358.3 607.6,360.6 608.0,362.4 608.4,358.3 608.8,360.6 609.2,361.4 609.6,362.9 610.0,359.0 610.4,363.3 610.8,361.8 611.2,363.4 611.6,363.4 612.0,361.9 612.4,362.2 612.8,358.3 613.2,358.9 613.6,359.5 614.0,360.7 614.4,363.0 614.8,358.3 615.2,360.8 615.6,359.0 616.0,358.6 616.4,363.9 616.8,361.5 617.2,364.2 617.6,363.4 618.0,359.7 618.4,358.3 618.8,364.3 619.2,360.6 619.6,359.3 620.0,362.6 620.4,361.6 620.8,360.2 621.2,360.7 621.6,361.6 622.0,361.5 622.4,362.7 622.8,360.7 623.2,360.7 623.6,362.4 624.0,361.9 624.4,363.3 624.8,360.9 625.2,361.2 625.6,359.3 626.0,364.0 626.4,358.9 626.8,361.7 627.2,359.8 627.6,361.9 628.0,362.7 628.4,358.5 628.8,361.0 629.2,358.4 629.6,363.8 630.0,360.6 630.4,358.6 630.8,360.1 631.2,363.7 631.6,364.0 632.0,363.6 632.4,360.0 632.8,361.1 633.2,364.2 633.6,360.1 634.0,360.8 634.4,359.7 634.8,359.3 635.2,363.5 635.6,362.5 636.0,362.2 636.4,362.4 636.8,363.1 637.2,364.0 637.6,361.4 638.0,360.8 638.4,359.6 638.8,363.3 639.2,360.5 639.6,358.8 640.0,360.9 640.4,361.4 640.8,362.8 641.2,363.1 641.6,360.1 642.0,360.0 642.4,360.8 642.8,359.3 643.2,361.2 643.6,362.2 644.0,361.5 644.4,358.6 644.8,359.3 645.2,363.6 645.6,359.6 646.0,362.7 646.4,362.5 646.8,360.8 647.2,359.7 647.6,361.8 648.0,359.9 648.4,361.1 648.8,361.6 649.2,360.2 649.6,361.0 650.0,360.9 650.4,359.3 650.8,361.1 651.2,360.3 651.6,358.5 652.0,360.8 652.4,360.9 652.8,360.4 653.2,358.5 653.6,362.7 654.0,362.6 654.4,362.5 654.8,362.0 655.2,359.3 655.6,361.6 656.0,359.8 656.4,364.3 656.8,360.5 657.2,362.6 657.6,358.8 658.0,359.4 658.4,360.5 658.8,362.6 659.2,362.4 659.6,361.9 660.0,358.5 660.4,363.4 660.8,359.8 661.2,364.2 661.6,364.3 662.0,362.8 662.4,363.1 662.8,359.3 663.2,364.3 663.6,361.8 664.0,363.1 664.4,360.0 664.8,361.3 665.2,359.4 665.6,361.0 666.0,361.5 666.4,361.9 666.8,363.8 667.2,362.3 667.6,361.9 668.0,361.5 668.4,364.3 668.8,360.5 669.2,363.5 669.6,358.6 670.0,360.0 670.4,362.1 670.8,361.2 671.2,364.3 671.6,364.3 672.0,358.9 672.4,359.6 672.8,361.2 673.2,364.3 673.6,363.4 674.0,362.0 674.4,359.1 674.8,360.0 675.2,358.6 675.6,358.9 676.0,362.2 676.4,362.8 676.8,359.3 677.2,361.6 677.6,364.2 678.0,361.7 678.4,360.9 678.8,362.5 679.2,362.3 679.6,361.6 680.0,360.6 680.4,360.8 680.8,361.6 681.2,360.5 681.6,363.7 682.0,363.0 682.4,363.3 682.8,364.3 683.2,364.1 683.6,363.8 684.0,362.1 684.4,361.1 684.8,364.3 685.2,360.3 685.6,360.4 686.0,360.0 686.4,361.8 686.8,362.1 687.2,363.2 687.6,361.1 688.0,358.6 688.4,362.0 688.8,363.1 689.2,361.5 689.6,361.2 690.0,362.4 690.4,363.8 690.8,361.3 691.2,359.1 691.6,360.5 692.0,361.1 692.4,358.6 692.8,362.7 693.2,360.1 693.6,362.2 694.0,361.7 694.4,360.9 694.8,364.1 695.2,360.5 695.6,360.3 696.0,361.8 696.4,362.7 696.8,361.3 697.2,359.7 697.6,362.5 698.0,362.3 698.4,364.1 698.8,360.9 699.2,361.6 699.6,360.3 700.0,358.7 700.4,361.3 700.8,362.5 701.2,359.4 701.6,359.9 702.0,359.1 702.4,363.1 702.8,359.8 703.2,361.7 703.6,359.3 704.0,360.7 704.4,359.3 704.8,357.3 705.2,359.9 705.6,360.2 706.0,355.8 706.4,357.2 706.8,355.3 707.2,352.3 707.6,351.2 708.0,346.0 708.4,346.0 708.8,343.8 709.2,342.9 709.2,342.9 709.6,343.8 710.0,346.0 710.4,348.0 710.8,350.1 711.2,354.4 711.6,355.8 712.0,358.6 712.4,356.1 712.8,361.1 713.2,359.2 713.6,361.2 714.0,359.2 714.4,358.5 714.8,359.8 715.2,359.3 715.6,360.3 716.0,362.0 716.4,362.8 716.8,361.4 717.2,360.3 717.6,360.4 718.0,362.2 718.4,363.1 718.8,360.7 719.2,361.1 719.6,360.1 720.0,361.7 720.4,362.9 720.8,358.6 721.2,361.8 721.6,360.5 722.0,358.7 722.4,361.9 722.8,361.3 723.2,362.0 723.6,359.2 724.0,364.2 724.4,361.6 724.8,360.9 725.2,363.9 725.6,362.5 726.0,362.8 726.4,363.4 726.8,358.8 727.2,364.2 727.6,361.0 728.0,362.0 728.4,363.0 728.8,360.4 729.2,362.0 729.6,362.8 730.0,361.5 730.4,362.3 730.8,359.0 731.2,359.6 731.6,359.7 732.0,362.2 732.4,364.3 732.8,362.0 733.2,361.3 733.6,361.5 734.0,363.1 734.4,362.7 734.8,359.7 735.2,363.2 735.6,361.5 736.0,362.9 736.4,358.9 736.8,359.1 737.2,362.5 737.6,358.9 738.0,362.2 738.4,362.1 738.8,361.8 739.2,362.2 739.6,362.0 740.0,362.3 740.4,361.0 740.8,361.6 741.2,364.3 741.6,363.4 742.0,362.6 742.4,362.2 742.8,360.5 743.2,362.0 743.6,361.2 744.0,363.1 744.4,360.2 744.8,358.9 745.2,360.7 745.6,362.7 746.0,364.3 746.4,363.2 746.8,360.1 747.2,361.3 747.6,360.1 748.0,361.3 748.4,360.2 748.8,359.0 749.2,362.3 749.6,361.9 750.0,361.4 750.4,362.2 750.8,364.3 751.2,361.8 751.6,361.0 752.0,363.0 752.4,359.1 752.8,362.8 753.2,360.4 753.6,360.4 754.0,361.8 754.4,364.3 754.8,360.5 755.2,363.1 755.6,362.2 756.0,359.5 756.4,363.1 756.8,360.4 757.2,359.4 757.6,360.4 758.0,360.5 758.4,362.6 758.8,360.5 759.2,364.0 759.6,362.0 760.0,360.5 760.4,360.4 760.8,362.0 761.2,359.0 761.6,359.0 762.0,360.3 762.4,362.7 762.8,362.0 763.2,361.7 763.6,361.3 764.0,359.0 764.4,361.2 764.8,359.0 765.2,363.0 765.6,361.7 766.0,361.5 766.4,362.3 766.8,362.2 767.2,362.1 767.6,362.2 768.0,360.8 768.4,359.6 768.8,362.2 769.2,363.9 769.6,363.3 770.0,361.4 770.4,362.6 770.8,361.0 771.2,362.3 771.6,360.8 772.0,361.9 772.4,364.3 772.8,362.9 773.2,364.0 773.6,360.5 774.0,360.7 774.4,361.6 774.8,362.6 775.2,361.4 775.6,363.3 776.0,360.9 776.4,363.8 776.8,363.2 777.2,360.0 777.6,362.6 778.0,361.4 778.4,363.3 778.8,360.9 779.2,362.2 779.6,362.6 780.0,359.1 780.4,359.1 780.8,361.9 781.2,361.5 781.6,363.3 782.0,362.1 782.4,359.8 782.8,362.2 783.2,360.6 783.6,361.4 784.0,361.0 784.4,362.3 784.8,359.6 785.2,360.0 785.6,359.1 786.0,364.3 786.4,360.2 786.8,360.4 787.2,360.0 787.6,360.8 788.0,361.1 788.4,362.7 788.8,362.0 789.2,362.2 789.6,360.9 790.0,361.6 790.4,363.6 790.8,361.7 791.2,362.2 791.6,359.2 792.0,362.5 792.4,362.1 792.8,363.7 793.2,359.2 793.6,361.8 794.0,361.6 794.4,361.9 794.8,360.8 795.2,362.1 795.6,362.8 796.0,361.8 796.4,361.3 796.8,361.4 797.2,361.2 797.6,361.8 798.0,360.7 798.4,359.2 798.8,363.8 799.2,359.2 799.6,361.6 800.0,359.8 800.4,361.3 800.8,360.3 801.2,361.7 801.6,360.5 802.0,359.8 802.4,362.2 802.8,363.7 803.2,362.3 803.6,361.9 804.0,360.2 804.4,361.6 804.8,362.4 805.2,360.8 805.6,363.1 806.0,361.7 806.4,362.3 806.8,361.0 807.2,361.0 807.6,362.1 808.0,362.3 808.4,362.2 808.8,360.2 809.2,360.6 809.6,361.7 810.0,359.3 810.4,363.3 810.8,362.2 811.2,361.8 811.6,360.7 812.0,362.9 812.4,361.3 812.8,364.3 813.2,362.3 813.6,359.5 814.0,362.8 814.4,361.0 814.8,361.0 815.2,361.4 815.6,361.5 816.0,362.1 816.4,362.9 816.8,362.4 817.2,360.7 817.6,359.7 818.0,360.5 818.4,362.3 818.8,363.0 819.2,364.3 819.6,359.7 820.0,361.9 820.4,361.4 820.8,361.1 821.2,361.9 821.6,361.4 822.0,361.3 822.4,360.8 822.8,362.3 823.2,363.3 823.6,364.1 824.0,361.0 824.4,360.2 824.8,361.4 825.2,360.5 825.6,363.2 826.0,360.5 826.4,361.7 826.8,359.5 827.2,360.7 827.6,361.1 828.0,362.5 828.4,358.4 828.8,359.0 829.2,354.9 829.6,354.4 830.0,353.9 830.4,353.5 830.8,354.4 831.2,354.7 831.6,351.9 832.0,355.9 832.4,354.5 832.8,359.9 833.2,358.9 833.6,359.7 834.0,360.0 834.4,360.8 834.8,361.2 835.2,360.4 835.6,362.7 836.0,362.1 836.4,362.8 836.8,361.7 837.2,362.7 837.6,360.7 838.0,364.3 838.4,360.7 838.8,361.1 839.2,363.2 839.6,363.5 840.0,360.6 840.4,359.4 840.8,359.7 841.2,360.3 841.6,360.6 842.0,361.5 842.4,363.3 842.8,363.3 843.2,360.9 843.6,362.5 844.0,363.0 844.4,363.8 844.8,361.5 845.2,360.7 845.6,362.9 846.0,364.0 846.4,361.0 846.8,364.3 847.2,364.2 847.6,361.4 848.0,359.5 848.4,360.9 848.8,361.3 849.2,362.5 849.6,359.4 850.0,364.3 850.4,364.3 850.8,360.7 851.2,359.4 851.6,361.5 852.0,362.4 852.4,363.7 852.8,362.8 853.2,361.5 853.6,359.5 854.0,362.5 854.4,363.0 854.8,361.3 855.2,362.2 855.6,362.1 856.0,361.4 856.4,360.1 856.8,362.3 857.2,359.8 857.6,363.8 858.0,360.5 858.4,362.5 858.8,360.8 859.2,362.3 859.6,361.5 860.0,362.5 860.4,360.7 860.8,359.5 861.2,361.4 861.6,361.3 862.0,359.7 862.4,360.8 862.8,359.5 863.2,362.0 863.6,361.3 864.0,361.8 864.4,364.3 864.8,362.0 865.2,362.3 865.6,362.7 866.0,361.6 866.4,361.0 866.8,363.0 867.2,363.2 867.6,359.5 868.0,361.6 868.4,361.3 868.8,361.0 869.2,363.5 869.6,361.1 870.0,363.0 870.4,361.0 870.8,361.2 871.2,362.8 871.6,360.8 872.0,361.6 872.4,360.3 872.8,360.6 873.2,362.8 873.6,362.6 874.0,360.2 874.4,360.2 874.8,364.3 875.2,360.9 875.6,360.6 876.0,362.5 876.4,360.7 876.8,361.3 877.2,363.1 877.6,363.2 878.0,361.5 878.4,363.7 878.8,361.6 879.2,361.5 879.6,361.8 880.0,361.4 880.4,362.5 880.8,362.2 881.2,360.7 881.6,362.1 882.0,361.1 882.4,361.0 882.8,361.6 883.2,363.2 883.6,362.2 884.0,363.6 884.4,364.0 884.8,361.8 885.2,361.0 885.6,360.7 886.0,362.2 886.4,363.0 886.8,364.0 887.2,360.0 887.6,363.1 888.0,363.3 888.4,364.3 888.8,362.1 889.2,361.8 889.6,359.7 890.0,360.8 890.4,360.3 890.8,360.5 891.2,360.6 891.6,359.7 892.0,361.7 892.4,362.4 892.8,362.9 893.2,361.7 893.6,363.3 894.0,363.3 894.4,359.8 894.8,361.5 895.2,360.1 895.6,360.5 896.0,362.1 896.4,361.7 896.8,363.9 897.2,364.3 897.6,362.4 898.0,361.6 898.4,361.7 898.8,361.8 899.2,362.6 899.6,360.9 900.0,362.7 900.4,361.5 900.8,363.3 901.2,363.7 901.6,364.2 902.0,361.7 902.4,360.0 902.8,359.7 903.2,361.5 903.6,360.0 904.0,359.7 904.4,361.4 904.8,360.5 905.2,362.8 905.6,364.3 906.0,361.6 906.4,362.3 906.8,359.8 907.2,362.1 907.6,360.9 908.0,360.4 908.4,359.7 908.8,364.0 909.2,359.7 909.6,360.3 910.0,361.9 910.4,362.3 910.8,362.3 911.2,362.0 911.6,360.7 912.0,362.9 912.4,362.2 912.8,360.0 913.2,364.1 913.6,361.5 914.0,363.2 914.4,360.0 914.8,360.3 915.2,361.1 915.6,361.0 916.0,363.3 916.4,359.7 916.8,362.1 917.2,360.6 917.6,362.6 918.0,362.2 918.4,361.2 918.8,364.2 919.2,361.9 919.6,363.4 920.0,360.2 920.4,361.8 920.8,362.0 921.2,362.1 921.6,361.5 922.0,360.8 922.4,359.7 922.8,361.2 923.2,360.7 923.6,361.6 924.0,363.1 924.4,364.2 924.8,362.6 925.2,363.3 925.6,362.8 926.0,362.9 926.4,362.7 926.8,361.6 927.2,361.5 927.6,362.4 928.0,364.2 928.4,363.0 928.8,364.1 929.2,360.3 929.6,362.3 930.0,362.5 930.4,362.7 930.8,360.2 931.2,359.8 931.6,359.8 932.0,361.4 932.4,364.2 932.8,362.3 933.2,360.4 933.6,362.4 934.0,361.6 934.4,362.2 934.8,361.4 935.2,360.3 935.6,361.3 936.0,362.9 936.4,362.4 936.8,363.6 937.2,360.6 937.6,363.4 938.0,362.1 938.4,362.3 938.8,363.6 939.2,361.8 939.6,362.3 940.0,362.8 940.4,362.9 940.8,363.1 941.2,363.7 941.6,362.7 942.0,361.5 942.4,364.2 942.8,362.0 943.2,362.5 943.6,361.1 944.0,359.8 944.4,361.0 944.8,362.1 945.2,362.7 945.6,362.1 946.0,363.1 946.4,363.3 946.8,363.3 947.2,362.1 947.6,362.2 948.0,361.8 948.4,360.9 948.8,363.9 949.2,360.5 949.6,362.0 950.0,362.3 950.4,359.8 950.8,363.0 951.2,361.6 951.6,362.3 952.0,361.6 952.4,360.1 952.8,362.3 953.2,362.2 953.6,363.3 954.0,362.7 954.4,359.9 954.8,363.5 955.2,363.1 955.6,363.0 956.0,362.7 956.4,361.2 956.8,362.7 957.2,361.6 957.6,364.2 958.0,361.8 958.4,360.7 958.8,361.6 959.2,363.9 959.6,361.3 960.0,359.9 960.4,363.9 960.8,362.5 961.2,361.4 961.6,363.0 962.0,360.9 962.4,360.6 962.8,363.3 963.2,361.4 963.6,362.7 964.0,362.1 964.4,363.1 964.8,362.2 965.2,359.9 965.6,362.9 966.0,361.5 966.4,363.2 966.8,362.2 967.2,363.9 967.6,361.7 968.0,359.9 968.4,361.7 968.8,362.7 969.2,361.6 969.6,361.5 970.0,363.9 970.4,361.9 970.8,363.4 971.2,362.3 971.6,360.3 972.0,360.9 972.4,361.7 972.8,362.5 973.2,361.1 973.6,360.3 974.0,360.8 974.4,361.4 974.8,361.0 975.2,361.4 975.6,364.2 976.0,362.4 976.4,361.1 976.8,362.1 977.2,364.1 977.6,362.9 978.0,362.0 978.4,360.4 978.8,360.0 979.2,361.7 979.6,362.0 980.0,360.1 980.4,360.4 980.8,362.0 981.2,359.9 981.6,359.9 982.0,362.0 982.4,362.8 982.8,362.5 983.2,363.3 983.6,364.0 984.0,363.2 984.4,361.8 984.8,364.1 985.2,364.1 985.6,363.3 986.0,361.1 986.4,362.6 986.8,359.9 987.2,361.7 987.6,359.9 988.0,361.6 988.4,363.4 988.8,362.1 989.2,364.1 989.6,362.1 990.0,362.2 990.4,361.7 990.8,362.8 991.2,362.1 991.6,363.6 992.0,364.1 992.4,362.6 992.8,360.7 993.2,362.8 993.6,363.8 994.0,362.9 994.4,362.5 994.8,363.3 995.2,363.7 995.6,360.0 996.0,364.0 996.4,363.1 996.8,362.7 997.2,361.4 997.6,362.4 998.0,362.9 998.4,360.3 998.8,363.0 999.2,362.2 999.6,363.9 1000.0,363.0 1000.4,361.9 1000.8,362.2 1001.2,362.9 1001.6,362.3 1002.0,362.8 1002.4,361.3 1002.8,360.6 1003.2,361.4 1003.6,360.4 1004.0,361.2 1004.4,362.6 1004.8,360.2 1005.2,360.7 1005.6,363.0 1006.0,361.5 1006.4,362.1 1006.8,360.6 1007.2,360.9 1007.6,361.8 1008.0,364.1 1008.4,362.7 1008.8,360.1 1009.2,362.7 1009.6,363.3 1010.0,363.0 1010.4,360.7 1010.8,362.1 1011.2,364.1 1011.6,361.0 1012.0,362.5 1012.4,361.2 1012.8,360.6 1013.2,361.6 1013.6,363.4 1014.0,363.5 1014.4,361.1 1014.8,361.6 1015.2,361.1 1015.6,360.0 1016.0,362.9 1016.4,364.0 1016.8,363.9 1017.2,361.6 1017.6,363.7 1018.0,363.5 1018.4,361.8 1018.8,362.2 1019.2,361.7 1019.6,362.4 1020.0,364.1 1020.4,361.1 1020.8,360.7 1021.2,363.2 1021.6,362.2 1022.0,360.1 1022.4,361.0 1022.8,361.2 1023.2,361.4 1023.6,362.6 1024.0,363.3 1024.4,362.0 1024.8,362.3 1025.2,361.3 1025.6,363.4 1026.0,363.8 1026.4,361.9 1026.8,361.3 1027.2,364.1 1027.6,363.3 1028.0,361.1 1028.4,360.2 1028.8,361.8 1029.2,363.6 1029.6,361.5 1030.0,361.9 1030.4,361.6 1030.8,362.9 1031.2,363.8 1031.6,360.7 1032.0,361.9 1032.4,362.0 1032.8,361.5 1033.2,360.8 1033.6,363.2 1034.0,362.4 1034.4,363.0 1034.8,364.0 1035.2,361.8 1035.6,362.8 1036.0,361.7 1036.4,362.1 1036.8,362.6 1037.2,362.0 1037.6,360.4 1038.0,364.0 1038.4,362.4 1038.8,360.9 1039.2,360.1 1039.6,362.2 1040.0,363.0 1040.4,363.4 1040.8,363.5 1041.2,361.8 1041.6,363.0 1042.0,360.4 1042.4,362.4 1042.8,363.3 1043.2,361.5 1043.6,362.0 1044.0,362.3 1044.4,362.4 1044.8,363.9 1045.2,361.0 1045.6,363.8 1046.0,360.8 1046.4,361.4 1046.8,361.3 1047.2,362.1 1047.6,361.6 1048.0,362.8 1048.4,362.2 1048.8,364.1 1049.2,362.7 1049.6,361.9 1050.0,362.6 1050.4,362.9 1050.8,361.9 1051.2,360.8 1051.6,361.0 1052.0,361.9 1052.4,362.2 1052.8,361.2 1053.2,359.8 1053.6,359.6 1054.0,357.2 1054.4,356.9 1054.8,357.2 1055.2,356.0 1055.6,355.8 1056.0,353.9 1056.4,355.0 1056.8,354.4 1057.2,357.7 1057.6,357.3 1058.0,357.4 1058.4,359.3 1058.8,361.0 1059.2,359.2 1059.6,360.1 1060.0,363.0 1060.4,362.2 1060.8,362.1 1061.2,360.4 1061.6,364.0 1062.0,363.4 1062.4,363.0 1062.8,361.0 1063.2,362.9 1063.6,363.5 1064.0,361.9 1064.4,361.9 1064.8,361.7 1065.2,362.9 1065.6,362.0 1066.0,361.9 1066.4,360.6 1066.8,360.4 1067.2,363.3 1067.6,364.0 1068.0,363.2 1068.4,363.8 1068.8,361.6 1069.2,362.2 1069.6,362.6 1070.0,362.0 1070.4,364.0 1070.8,360.7 1071.2,361.6 1071.6,361.8 1072.0,361.4 1072.4,363.2 1072.8,360.2 1073.2,363.5 1073.6,363.2 1074.0,362.6 1074.4,363.8 1074.8,364.0 1075.2,362.4 1075.6,363.0 1076.0,362.7 1076.4,362.8 1076.8,361.7 1077.2,361.4 1077.6,362.9 1078.0,361.7 1078.4,363.3 1078.8,363.1 1079.2,361.8 1079.6,362.6 1080.0,362.3 1080.4,362.1 1080.8,363.5 1081.2,362.3 1081.6,362.5 1082.0,360.3 1082.4,362.9 1082.8,360.7 1083.2,361.8 1083.6,364.0 1084.0,364.0 1084.4,361.8 1084.8,360.9 1085.2,362.7 1085.6,361.8 1086.0,362.6 1086.4,360.8 1086.8,363.5 1087.2,364.0 1087.6,360.7 1088.0,361.4 1088.4,361.5 1088.8,363.1 1089.2,360.3 1089.6,362.5 1090.0,362.0 1090.4,361.4 1090.8,363.0 1091.2,360.3 1091.6,360.8 1092.0,361.4 1092.4,363.0 1092.8,361.9 1093.2,361.4 1093.6,362.8 1094.0,361.8 1094.4,361.6 1094.8,362.0 1095.2,362.6 1095.6,364.0 1096.0,361.1 1096.4,362.6 1096.8,362.1 1097.2,362.0 1097.6,363.9 1098.0,363.1 1098.4,363.0 1098.8,361.8 1099.2,361.4 1099.6,362.6 1100.0,362.0 1100.4,361.7 1100.8,363.0 1101.2,361.0 1101.6,361.5 1102.0,363.1 1102.4,362.2 1102.8,363.0 1103.2,361.4 1103.6,363.1 1104.0,361.6 1104.4,363.8 1104.8,363.2 1105.2,362.8 1105.6,364.0 1106.0,362.7 1106.4,361.7 1106.8,364.0 1107.2,362.7 1107.6,363.6 1108.0,362.5 1108.4,363.6 1108.8,361.4 1109.2,361.0 1109.6,360.9 1110.0,363.1 1110.4,360.4 1110.8,360.5 1111.2,360.8 1111.6,362.6 1112.0,362.8 1112.4,361.5 1112.8,363.2 1113.2,362.7 1113.6,363.6 1114.0,363.3 1114.4,361.6 1114.8,362.6 1115.2,362.2 1115.6,362.8 1116.0,362.6 1116.4,362.4 1116.8,363.1 1117.2,362.4 1117.6,363.1 1118.0,362.4 1118.4,362.2 1118.8,363.3 1119.2,363.4 1119.6,363.7 1120.0,363.0 1120.4,362.1 1120.8,362.6 1121.2,362.5 1121.6,360.5 1122.0,361.2 1122.4,363.9 1122.8,362.3 1123.2,360.4 1123.6,362.2 1124.0,362.5 1124.4,361.1 1124.8,364.0 1125.2,363.5 1125.6,363.2 1126.0,362.2 1126.4,362.9 1126.8,363.2 1127.2,362.9 1127.6,361.7 1128.0,362.6 1128.4,362.5 1128.8,362.7 1129.2,361.3 1129.6,362.6 1130.0,362.4 1130.4,362.6 1130.8,362.6 1131.2,360.9 1131.6,363.2 1132.0,363.1 1132.4,361.0 1132.8,362.3 1133.2,361.5 1133.6,361.9 1134.0,363.4 1134.4,362.9 1134.8,363.9 1135.2,362.4 1135.6,361.2 1136.0,362.5 1136.4,360.5 1136.8,363.9 1137.2,362.6 1137.6,362.8 1138.0,362.5 1138.4,361.5 1138.8,362.2 1139.2,361.5 1139.6,361.8 1140.0,362.7 1140.4,361.1 1140.8,363.9 1141.2,361.2 1141.6,363.1 1142.0,361.7 1142.4,361.1 1142.8,362.7 1143.2,362.5 1143.6,362.1 1144.0,362.2 1144.4,361.7 1144.8,362.7 1145.2,361.8 1145.6,362.3 1146.0,363.4 1146.4,360.9 1146.8,361.7 1147.2,361.6 1147.6,361.5 1148.0,360.9 1148.4,362.0 1148.8,362.4 1149.2,362.1 1149.6,360.7 1150.0,362.9 1150.4,363.0 1150.8,362.3 1151.2,361.3 1151.6,361.4 1152.0,363.9 1152.4,363.9 1152.8,362.7 1153.2,361.3 1153.6,363.5 1154.0,362.4 1154.4,363.9 1154.8,361.7 1155.2,362.7 1155.6,362.0 1156.0,363.0 1156.4,361.6 1156.8,363.2 1157.2,361.9 1157.6,361.4 1158.0,362.8 1158.4,362.5 1158.8,360.5 1159.2,362.2 1159.6,362.3 1160.0,362.4 1160.4,363.9 1160.8,361.6 1161.2,362.2 1161.6,360.6 1162.0,360.8 1162.4,361.7 1162.8,362.1 1163.2,362.0 1163.6,362.9 1164.0,363.0 1164.4,363.3 1164.8,362.1 1165.2,362.7 1165.6,361.5 1166.0,362.6 1166.4,362.7 1166.8,361.7 1167.2,360.5 1167.6,361.6 1168.0,364.0 1168.4,362.2 1168.8,361.6 1169.2,362.4 1169.6,363.4 1170.0,362.6 1170.4,362.0 1170.8,361.0 1171.2,362.0 1171.6,361.1 1172.0,362.6 1172.4,363.8 1172.8,363.3 1173.2,361.7 1173.6,361.3 1174.0,360.9 1174.4,362.7 1174.8,362.8 1175.2,363.0 1175.6,362.6 1176.0,361.0 1176.4,360.6 1176.8,363.4 1177.2,361.4 1177.6,364.0 1178.0,360.6 1178.4,361.1 1178.8,361.3 1179.2,362.5 1179.6,362.9 1180.0,361.7 1180.4,362.8 1180.8,360.9 1181.2,361.7 1181.6,361.0 1182.0,361.7 1182.4,361.6 1182.8,362.5 1183.2,364.0 1183.6,360.9 1184.0,362.0 1184.4,362.9 1184.8,362.3 1185.2,363.7 1185.6,361.2 1186.0,363.0 1186.4,361.5 1186.8,363.1 1187.2,362.4 1187.6,362.5 1188.0,361.7 1188.4,360.6 1188.8,361.1 1189.2,363.0 1189.6,362.0 1190.0,363.0 1190.4,360.9 1190.8,362.9"/>
</g>
<g clip-path="url(#cb)" stroke-width="10.6">
<polyline class="c" stroke="#AE5300" points="1282.0,989.7 1284.2,989.1 1286.3,989.8 1288.5,990.4 1290.7,989.5 1292.8,988.5 1295.0,991.7 1297.1,989.8 1299.3,990.5 1301.5,989.0 1303.6,990.1 1305.8,991.2 1308.0,988.6 1310.1,989.6 1312.3,989.4 1314.5,988.3 1316.6,992.1 1318.8,988.2 1321.0,990.5 1323.1,988.8 1325.3,989.6 1327.4,989.1 1329.6,988.9 1331.8,989.7 1333.9,987.1 1336.1,988.5 1338.3,990.0 1340.4,991.9 1342.6,989.7 1344.8,988.5 1346.9,990.9 1349.1,990.3 1351.2,988.1 1353.4,988.6 1355.6,988.0 1357.7,991.1 1359.9,988.1 1362.1,988.0 1364.2,989.8 1366.4,990.8 1368.6,988.7 1370.7,990.5 1372.9,987.7 1375.1,990.5 1377.2,989.7 1379.4,989.5 1381.5,987.0 1383.7,990.8 1385.9,989.5 1388.0,989.7 1390.2,988.0 1392.4,991.3 1394.5,988.9 1396.7,990.0 1398.9,989.2 1401.0,989.0 1403.2,990.3 1405.3,990.1 1407.5,991.1 1409.7,988.7 1411.8,990.5 1414.0,988.1 1416.2,989.5 1418.3,987.2 1420.5,989.4 1422.7,989.2 1424.8,988.5 1427.0,988.5 1429.2,989.1 1431.3,990.9 1433.5,989.2 1435.6,989.4 1437.8,989.9 1440.0,991.2 1442.1,990.8 1444.3,990.1 1446.5,987.1 1448.6,990.2 1450.8,988.5 1453.0,990.0 1455.1,988.3 1457.3,990.1 1459.4,988.8 1461.6,988.7 1463.8,989.6 1465.9,987.4 1468.1,990.9 1470.3,989.3 1472.4,989.1 1474.6,988.1 1476.8,990.2 1478.9,987.8 1481.1,990.7 1483.3,988.1 1485.4,989.3 1487.6,988.3 1489.7,989.3 1491.9,990.3 1494.1,988.4 1496.2,987.7 1498.4,988.9 1500.6,988.1 1502.7,989.5 1504.9,987.5 1507.1,988.4 1509.2,990.2 1511.4,989.4 1513.5,987.8 1515.7,988.7 1517.9,989.4 1520.0,990.1 1522.2,987.8 1524.4,989.3 1526.5,987.9 1528.7,987.0 1530.9,990.5 1533.0,989.9 1535.2,990.0 1537.4,990.3 1539.5,988.7 1541.7,990.8 1543.8,990.2 1546.0,988.1 1548.2,988.5 1550.3,986.9 1552.5,986.4 1554.7,989.9 1556.8,989.8 1559.0,987.9 1561.2,989.8 1563.3,989.0 1565.5,987.0 1567.6,989.8 1569.8,989.7 1572.0,989.7 1574.1,988.0 1576.3,987.1 1578.5,989.5 1580.6,990.5 1582.8,991.7 1585.0,986.3 1587.1,988.4 1589.3,990.2 1591.5,989.7 1593.6,990.4 1595.8,987.2 1597.9,987.3 1600.1,989.8 1602.3,986.3 1604.4,988.2 1606.6,986.7 1608.8,989.1 1610.9,988.5 1613.1,990.9 1615.3,988.5 1617.4,990.7 1619.6,989.3 1621.7,988.4 1623.9,986.9 1626.1,989.6 1628.2,988.0 1630.4,991.2 1632.6,988.7 1634.7,989.5 1636.9,989.7 1639.1,986.2 1641.2,987.9 1643.4,989.0 1645.6,989.4 1647.7,988.7 1649.9,990.8 1652.0,990.1 1654.2,990.0 1656.4,990.5 1658.5,986.9 1660.7,990.1 1662.9,988.5 1665.0,986.8 1667.2,989.8 1669.4,990.7 1671.5,990.1 1673.7,989.6 1675.8,988.2 1678.0,991.4 1680.2,989.6 1682.3,988.2 1684.5,987.3 1686.7,988.7 1688.8,986.5 1691.0,989.9 1693.2,989.9 1695.3,988.1 1697.5,986.4 1699.7,987.4 1701.8,990.6 1704.0,990.3 1706.1,988.9 1708.3,990.1 1710.5,989.2 1712.6,987.1 1714.8,986.4 1717.0,987.6 1719.1,987.5 1721.3,982.6 1723.5,984.7 1725.6,982.6 1727.8,980.7 1729.9,981.4 1732.1,981.5 1734.3,981.0 1736.4,980.0 1738.6,979.6 1740.8,977.1 1742.9,974.4 1745.1,976.0 1747.3,973.3 1749.4,965.4 1751.6,960.1 1753.8,953.0 1755.9,948.1 1758.1,941.3 1760.2,930.5 1762.4,915.6 1764.6,895.9 1766.7,875.6 1768.9,853.1 1771.1,832.9 1773.2,818.3 1775.0,806.1 1775.4,809.6 1777.6,813.8 1779.7,823.3 1781.9,832.6 1784.0,841.0 1786.2,851.2 1788.4,864.9 1790.5,875.0 1792.7,885.5 1794.9,899.2 1797.0,915.8 1799.2,932.0 1801.4,948.5 1803.5,953.4 1805.7,962.8 1807.9,965.1 1810.0,971.2 1812.2,975.5 1814.3,980.8 1816.5,981.3 1818.7,983.1 1820.8,986.8 1823.0,988.3 1825.2,989.0 1827.3,988.6 1829.5,989.8 1831.7,987.6 1833.8,989.2 1836.0,988.3 1838.1,990.3 1840.3,988.1 1842.5,991.0 1844.6,991.5 1846.8,989.3 1849.0,987.6 1851.1,990.0 1853.3,988.8 1855.5,989.5 1857.6,990.1 1859.8,990.1 1862.0,989.8 1864.1,987.1 1866.3,989.5 1868.4,988.4 1870.6,989.9 1872.8,986.8 1874.9,988.2 1877.1,988.6 1879.3,987.2 1881.4,989.8 1883.6,990.4 1885.8,990.5 1887.9,989.2 1890.1,988.7 1892.2,991.1 1894.4,988.7 1896.6,991.9 1898.7,990.7 1900.9,989.1 1903.1,991.6 1905.2,991.4 1907.4,987.1 1909.6,989.9 1911.7,989.3 1913.9,989.5 1916.1,992.2 1918.2,991.5 1920.4,992.5 1922.5,991.2 1924.7,989.9 1926.9,988.9 1929.0,990.6 1931.2,990.8 1933.4,989.7 1935.5,989.4 1937.7,991.1 1939.9,990.2 1942.0,992.6 1944.2,989.3 1946.3,990.9 1948.5,990.5 1950.7,992.7 1952.8,989.8 1955.0,989.4 1957.2,990.5 1959.3,989.8 1961.5,992.1 1963.7,991.4 1965.8,990.8 1968.0,990.2 1970.2,987.4 1972.3,988.6 1974.5,989.6 1976.6,988.8 1978.8,991.3 1981.0,992.6 1983.1,989.5 1985.3,988.8 1987.5,990.5 1989.6,992.6 1991.8,990.0 1994.0,989.2 1996.1,990.9 1998.3,988.6 2000.4,988.9 2002.6,990.8 2004.8,988.8 2006.9,990.2 2009.1,990.1 2011.3,988.8 2013.4,991.1 2015.6,993.0 2017.8,991.0 2019.9,989.1 2022.1,989.1 2024.3,990.0 2026.4,988.0 2028.6,987.0 2030.7,986.1 2032.9,987.0 2035.1,987.3 2037.2,987.3 2039.4,989.2 2041.6,990.2 2043.7,991.6 2045.9,990.5 2048.1,990.8 2050.2,991.0 2052.4,989.9 2054.5,991.5 2056.7,987.9 2058.9,991.2 2061.0,989.7 2063.2,990.7 2065.4,992.3 2067.5,992.0 2069.7,993.0 2071.9,987.7 2074.0,991.6 2076.2,990.1 2078.4,992.2 2080.5,989.6 2082.7,991.1 2084.8,989.5 2087.0,989.9 2089.2,988.5 2091.3,990.6 2093.5,989.7 2095.7,989.8 2097.8,992.9 2100.0,989.3 2102.2,992.0 2104.3,990.1 2106.5,990.1 2108.6,990.7 2110.8,989.9 2113.0,993.1 2115.1,989.2 2117.3,990.0 2119.5,990.6 2121.6,992.0 2123.8,991.4 2126.0,991.2 2128.1,990.0 2130.3,990.7 2132.5,992.2 2134.6,992.4 2136.8,989.3 2138.9,987.7 2141.1,991.9 2143.3,990.8 2145.4,991.0 2147.6,989.1 2149.8,991.1 2151.9,991.2 2154.1,992.5 2156.3,993.1 2158.4,990.9 2160.6,990.9 2162.7,990.6 2164.9,990.9 2167.1,987.7 2169.2,990.0 2171.4,990.0 2173.6,992.9 2175.7,991.7 2177.9,989.6 2180.1,989.8 2182.2,989.6 2184.4,988.8 2186.6,991.3 2188.7,991.8 2190.9,990.0 2193.0,987.8 2195.2,990.5 2197.4,991.7 2199.5,990.1 2201.7,988.9 2203.9,990.2 2206.0,993.2 2208.2,990.9 2210.4,991.4 2212.5,989.5 2214.7,990.8 2216.8,989.2 2219.0,991.2 2221.2,988.2 2223.3,988.3 2225.5,993.2 2227.7,990.0 2229.8,991.7 2232.0,989.8 2234.2,991.8 2236.3,989.1 2238.5,989.0 2240.7,992.2 2242.8,991.4 2245.0,987.8 2247.1,989.3 2249.3,990.6 2251.5,992.8 2253.6,990.8 2255.8,990.6 2258.0,988.8 2260.1,992.4 2262.3,991.8 2264.5,988.0 2266.6,991.0 2268.8,987.8 2270.9,990.5 2273.1,989.4 2275.3,990.9 2277.4,988.5 2279.6,991.2 2281.8,988.8 2283.9,990.1 2286.1,989.3 2288.3,989.1 2290.4,992.1 2292.6,990.6 2294.8,992.3 2296.9,990.3 2299.1,991.0 2301.2,992.4 2303.4,990.3 2305.6,989.9 2307.7,989.3 2309.9,989.8 2312.1,991.7 2314.2,991.0 2316.4,990.4 2318.6,991.0 2320.7,991.6 2322.9,991.6 2325.0,989.2 2327.2,989.3 2329.4,992.9 2331.5,990.6 2333.7,991.5 2335.9,989.8 2338.0,988.9 2340.2,989.5 2342.4,991.9 2344.5,989.9 2346.7,992.0 2348.9,991.2 2351.0,988.8 2353.2,989.4 2355.3,990.9 2357.5,992.7 2359.7,991.6 2361.8,987.9 2364.0,991.3 2366.2,990.2 2368.3,990.9 2370.5,991.7 2372.7,989.2 2373.0,992.0"/>
<polyline class="c" stroke="#EE5A5E" points="1282.0,803.9 1284.2,801.9 1286.3,799.6 1288.5,803.1 1290.7,801.2 1292.8,801.6 1295.0,802.4 1297.1,799.5 1299.3,799.9 1301.5,803.4 1303.6,799.5 1305.8,799.9 1308.0,799.7 1310.1,799.7 1312.3,800.8 1314.5,800.7 1316.6,799.9 1318.8,800.6 1321.0,801.8 1323.1,798.8 1325.3,800.8 1327.4,801.1 1329.6,799.0 1331.8,802.9 1333.9,801.6 1336.1,801.1 1338.3,802.1 1340.4,801.8 1342.6,801.0 1344.8,801.0 1346.9,799.7 1349.1,801.9 1351.2,801.6 1353.4,799.9 1355.6,802.2 1357.7,803.3 1359.9,799.6 1362.1,803.8 1364.2,803.0 1366.4,802.7 1368.6,801.1 1370.7,803.7 1372.9,801.0 1375.1,802.2 1377.2,800.6 1379.4,799.6 1381.5,802.2 1383.7,803.2 1385.9,799.6 1388.0,801.3 1390.2,800.4 1392.4,800.0 1394.5,800.8 1396.7,802.7 1398.9,803.3 1401.0,802.0 1403.2,801.5 1405.3,802.3 1407.5,800.1 1409.7,801.6 1411.8,800.6 1414.0,801.7 1416.2,799.0 1418.3,802.0 1420.5,801.0 1422.7,801.6 1424.8,801.6 1427.0,803.2 1429.2,800.9 1431.3,799.2 1433.5,802.7 1435.6,802.5 1437.8,800.6 1440.0,802.7 1442.1,802.7 1444.3,799.7 1446.5,800.1 1448.6,799.6 1450.8,803.4 1453.0,798.8 1455.1,799.9 1457.3,801.8 1459.4,802.8 1461.6,802.8 1463.8,801.8 1465.9,802.1 1468.1,802.7 1470.3,801.9 1472.4,801.0 1474.6,801.6 1476.8,802.1 1478.9,802.1 1481.1,801.5 1483.3,800.1 1485.4,801.4 1487.6,802.1 1489.7,799.8 1491.9,800.3 1494.1,801.8 1496.2,802.1 1498.4,800.9 1500.6,800.9 1502.7,801.3 1504.9,800.6 1507.1,800.6 1509.2,798.8 1511.4,800.9 1513.5,803.4 1515.7,800.3 1517.9,800.4 1520.0,801.8 1522.2,802.2 1524.4,803.9 1526.5,800.6 1528.7,801.9 1530.9,799.8 1533.0,800.1 1535.2,800.3 1537.4,801.1 1539.5,801.8 1541.7,801.5 1543.8,800.0 1546.0,801.2 1548.2,799.6 1550.3,800.4 1552.5,799.6 1554.7,800.8 1556.8,801.6 1559.0,803.9 1561.2,800.2 1563.3,801.9 1565.5,801.5 1567.6,800.7 1569.8,800.3 1572.0,799.6 1574.1,801.3 1576.3,800.2 1578.5,801.1 1580.6,802.3 1582.8,799.0 1585.0,803.1 1587.1,800.2 1589.3,801.9 1591.5,801.6 1593.6,800.9 1595.8,801.7 1597.9,802.9 1600.1,801.2 1602.3,802.5 1604.4,803.7 1606.6,801.3 1608.8,800.0 1610.9,800.6 1613.1,801.6 1615.3,802.4 1617.4,798.6 1619.6,800.8 1621.7,800.3 1623.9,803.4 1626.1,799.8 1628.2,801.9 1630.4,801.2 1632.6,802.3 1634.7,803.4 1636.9,800.7 1639.1,799.3 1641.2,802.9 1643.4,800.1 1645.6,801.3 1647.7,802.0 1649.9,799.0 1652.0,800.3 1654.2,801.3 1656.4,800.2 1658.5,803.5 1660.7,799.3 1662.9,802.1 1665.0,800.2 1667.2,801.1 1669.4,800.0 1671.5,801.7 1673.7,802.5 1675.8,801.7 1678.0,800.9 1680.2,798.3 1682.3,801.3 1684.5,798.3 1686.7,802.3 1688.8,799.5 1691.0,798.4 1693.2,798.5 1695.3,800.5 1697.5,799.1 1699.7,800.1 1701.8,797.7 1704.0,799.8 1706.1,800.2 1708.3,797.3 1710.5,794.5 1712.6,792.8 1714.8,792.2 1717.0,793.7 1719.1,790.2 1721.3,787.9 1723.5,792.1 1725.6,791.2 1727.8,790.8 1729.9,787.7 1732.1,788.3 1734.3,783.7 1736.4,781.9 1738.6,778.8 1740.8,769.6 1742.9,763.3 1745.1,754.1 1747.3,749.8 1749.4,740.1 1751.6,732.3 1753.8,722.2 1755.9,707.4 1758.1,691.4 1760.2,669.6 1762.4,642.8 1764.6,631.1 1766.7,621.1 1768.9,615.5 1770.4,609.8 1771.1,614.6 1773.2,624.1 1775.4,636.7 1777.6,648.3 1779.7,666.1 1781.9,683.6 1784.0,692.5 1786.2,705.3 1788.4,724.0 1790.5,738.8 1792.7,754.0 1794.9,767.0 1797.0,773.5 1799.2,777.5 1801.4,785.5 1803.5,788.7 1805.7,792.3 1807.9,795.4 1810.0,795.9 1812.2,798.4 1814.3,801.3 1816.5,801.3 1818.7,801.7 1820.8,800.5 1823.0,800.0 1825.2,801.9 1827.3,799.6 1829.5,802.1 1831.7,800.9 1833.8,798.0 1836.0,798.8 1838.1,798.9 1840.3,801.7 1842.5,799.5 1844.6,801.0 1846.8,801.6 1849.0,800.4 1851.1,799.0 1853.3,800.2 1855.5,801.2 1857.6,800.0 1859.8,801.2 1862.0,799.3 1864.1,798.5 1866.3,799.7 1868.4,800.7 1870.6,798.3 1872.8,800.8 1874.9,799.7 1877.1,798.5 1879.3,801.0 1881.4,802.5 1883.6,798.7 1885.8,803.4 1887.9,800.9 1890.1,799.6 1892.2,801.2 1894.4,798.3 1896.6,801.1 1898.7,801.0 1900.9,798.3 1903.1,798.3 1905.2,799.4 1907.4,800.4 1909.6,801.4 1911.7,800.6 1913.9,799.7 1916.1,801.8 1918.2,801.6 1920.4,801.1 1922.5,800.5 1924.7,799.6 1926.9,800.9 1929.0,803.3 1931.2,801.9 1933.4,802.8 1935.5,799.3 1937.7,801.7 1939.9,799.7 1942.0,802.1 1944.2,801.9 1946.3,802.0 1948.5,803.2 1950.7,801.0 1952.8,803.2 1955.0,801.8 1957.2,800.8 1959.3,801.3 1961.5,802.7 1963.7,800.9 1965.8,802.7 1968.0,802.1 1970.2,800.9 1972.3,799.2 1974.5,801.8 1976.6,803.1 1978.8,801.2 1981.0,803.0 1983.1,800.8 1985.3,803.6 1987.5,804.3 1989.6,802.5 1991.8,802.8 1994.0,800.4 1996.1,804.2 1998.3,801.3 2000.4,803.1 2002.6,804.9 2004.8,802.5 2006.9,802.1 2009.1,801.9 2011.3,799.8 2013.4,798.9 2015.6,800.3 2017.8,796.7 2019.9,796.6 2022.1,795.0 2024.3,797.3 2026.4,796.4 2028.6,798.5 2030.7,799.4 2032.9,800.6 2035.1,800.4 2037.2,801.4 2039.4,803.6 2041.6,803.5 2043.7,803.1 2045.9,803.0 2048.1,800.1 2050.2,802.0 2052.4,802.7 2054.5,802.7 2056.7,803.1 2058.9,800.6 2061.0,802.9 2063.2,801.6 2065.4,802.7 2067.5,804.6 2069.7,803.1 2071.9,802.3 2074.0,801.2 2076.2,803.6 2078.4,799.7 2080.5,801.3 2082.7,799.7 2084.8,802.1 2087.0,801.3 2089.2,801.6 2091.3,801.0 2093.5,805.0 2095.7,803.4 2097.8,803.3 2100.0,801.4 2102.2,803.4 2104.3,802.3 2106.5,801.9 2108.6,800.3 2110.8,802.5 2113.0,799.7 2115.1,801.3 2117.3,799.7 2119.5,802.9 2121.6,803.1 2123.8,803.5 2126.0,800.5 2128.1,803.7 2130.3,805.0 2132.5,801.6 2134.6,801.1 2136.8,801.5 2138.9,801.5 2141.1,803.5 2143.3,801.5 2145.4,802.9 2147.6,802.3 2149.8,801.1 2151.9,802.4 2154.1,802.4 2156.3,802.5 2158.4,802.7 2160.6,801.9 2162.7,802.9 2164.9,800.0 2167.1,801.6 2169.2,804.1 2171.4,802.8 2173.6,802.0 2175.7,801.3 2177.9,801.5 2180.1,802.2 2182.2,799.9 2184.4,801.9 2186.6,802.1 2188.7,799.8 2190.9,800.0 2193.0,802.2 2195.2,801.9 2197.4,804.8 2199.5,805.1 2201.7,799.8 2203.9,801.4 2206.0,804.0 2208.2,802.8 2210.4,804.3 2212.5,804.1 2214.7,802.2 2216.8,803.9 2219.0,802.3 2221.2,800.7 2223.3,802.6 2225.5,804.1 2227.7,803.5 2229.8,801.9 2232.0,804.4 2234.2,804.2 2236.3,804.3 2238.5,799.9 2240.7,801.3 2242.8,801.6 2245.0,801.5 2247.1,799.8 2249.3,801.7 2251.5,804.0 2253.6,801.1 2255.8,805.2 2258.0,801.1 2260.1,803.0 2262.3,802.2 2264.5,800.8 2266.6,802.8 2268.8,802.7 2270.9,802.3 2273.1,804.1 2275.3,803.5 2277.4,800.4 2279.6,804.2 2281.8,801.2 2283.9,799.9 2286.1,803.6 2288.3,804.0 2290.4,801.3 2292.6,802.5 2294.8,801.5 2296.9,803.3 2299.1,801.8 2301.2,802.8 2303.4,800.8 2305.6,803.2 2307.7,802.6 2309.9,805.3 2312.1,804.3 2314.2,801.7 2316.4,800.8 2318.6,803.5 2320.7,801.3 2322.9,803.5 2325.0,803.9 2327.2,804.5 2329.4,804.6 2331.5,804.2 2333.7,802.5 2335.9,802.5 2338.0,802.8 2340.2,804.7 2342.4,802.0 2344.5,802.5 2346.7,803.7 2348.9,800.9 2351.0,802.0 2353.2,802.6 2355.3,802.0 2357.5,801.8 2359.7,803.1 2361.8,801.3 2364.0,803.3 2366.2,802.1 2368.3,800.4 2370.5,799.9 2372.7,801.1 2373.0,803.1"/>
<polyline class="c" stroke="#F68B04" points="1282.0,578.0 1284.2,577.4 1286.3,581.2 1288.5,579.2 1290.7,580.2 1292.8,581.1 1295.0,579.3 1297.1,576.3 1299.3,576.3 1301.5,579.9 1303.6,580.1 1305.8,577.5 1308.0,579.6 1310.1,579.7 1312.3,579.1 1314.5,577.2 1316.6,580.5 1318.8,577.6 1321.0,579.6 1323.1,577.0 1325.3,577.8 1327.4,580.1 1329.6,577.6 1331.8,576.9 1333.9,578.8 1336.1,578.7 1338.3,577.4 1340.4,579.4 1342.6,579.7 1344.8,579.2 1346.9,581.2 1349.1,578.2 1351.2,580.7 1353.4,578.8 1355.6,577.1 1357.7,577.2 1359.9,576.8 1362.1,576.3 1364.2,579.3 1366.4,576.6 1368.6,578.4 1370.7,579.0 1372.9,578.5 1375.1,580.0 1377.2,577.3 1379.4,577.6 1381.5,580.3 1383.7,580.2 1385.9,578.7 1388.0,577.5 1390.2,577.8 1392.4,579.8 1394.5,581.2 1396.7,577.9 1398.9,578.6 1401.0,577.5 1403.2,580.2 1405.3,578.9 1407.5,579.4 1409.7,577.9 1411.8,580.4 1414.0,579.5 1416.2,580.1 1418.3,578.4 1420.5,578.0 1422.7,579.3 1424.8,579.2 1427.0,580.4 1429.2,580.4 1431.3,577.1 1433.5,576.3 1435.6,580.4 1437.8,578.3 1440.0,578.2 1442.1,579.7 1444.3,579.0 1446.5,578.9 1448.6,579.4 1450.8,578.4 1453.0,578.7 1455.1,578.2 1457.3,579.2 1459.4,578.1 1461.6,580.8 1463.8,579.4 1465.9,578.7 1468.1,580.1 1470.3,579.3 1472.4,579.9 1474.6,579.6 1476.8,577.1 1478.9,580.4 1481.1,580.2 1483.3,578.4 1485.4,581.6 1487.6,577.1 1489.7,580.2 1491.9,578.5 1494.1,578.8 1496.2,580.0 1498.4,580.2 1500.6,580.0 1502.7,577.0 1504.9,580.3 1507.1,578.0 1509.2,578.6 1511.4,579.1 1513.5,577.0 1515.7,580.4 1517.9,578.6 1520.0,577.4 1522.2,578.0 1524.4,577.2 1526.5,577.3 1528.7,579.3 1530.9,579.5 1533.0,580.6 1535.2,581.5 1537.4,580.0 1539.5,576.1 1541.7,579.8 1543.8,579.2 1546.0,579.7 1548.2,580.1 1550.3,579.1 1552.5,580.1 1554.7,579.8 1556.8,581.5 1559.0,578.0 1561.2,577.5 1563.3,578.6 1565.5,581.5 1567.6,576.1 1569.8,578.6 1572.0,577.3 1574.1,578.7 1576.3,579.4 1578.5,577.6 1580.6,580.5 1582.8,581.5 1585.0,578.2 1587.1,580.0 1589.3,577.6 1591.5,577.4 1593.6,579.9 1595.8,579.8 1597.9,577.3 1600.1,579.7 1602.3,580.7 1604.4,578.0 1606.6,576.6 1608.8,579.1 1610.9,580.1 1613.1,578.6 1615.3,579.4 1617.4,577.8 1619.6,578.9 1621.7,578.1 1623.9,578.7 1626.1,579.3 1628.2,578.3 1630.4,578.1 1632.6,576.2 1634.7,575.7 1636.9,577.4 1639.1,578.1 1641.2,577.6 1643.4,578.1 1645.6,577.6 1647.7,577.4 1649.9,577.1 1652.0,577.8 1654.2,578.8 1656.4,577.5 1658.5,575.6 1660.7,576.6 1662.9,576.5 1665.0,577.8 1667.2,579.0 1669.4,574.9 1671.5,576.6 1673.7,576.6 1675.8,580.2 1678.0,576.5 1680.2,578.1 1682.3,579.4 1684.5,576.7 1686.7,577.1 1688.8,577.2 1691.0,577.5 1693.2,575.9 1695.3,576.9 1697.5,575.8 1699.7,575.3 1701.8,577.7 1704.0,573.0 1706.1,575.6 1708.3,573.1 1710.5,572.2 1712.6,570.3 1714.8,570.2 1717.0,569.6 1719.1,566.0 1721.3,567.0 1723.5,562.5 1725.6,562.9 1727.8,561.0 1729.9,560.7 1732.1,560.3 1734.3,555.4 1736.4,552.0 1738.6,542.2 1740.8,533.3 1742.9,518.9 1745.1,510.4 1747.3,497.1 1749.4,478.0 1751.6,465.9 1753.8,447.8 1755.9,420.6 1758.1,401.0 1760.2,385.2 1762.4,370.8 1762.4,370.0 1764.6,384.5 1766.7,396.2 1768.9,410.8 1771.1,425.6 1773.2,439.4 1775.4,450.7 1777.6,464.1 1779.7,477.0 1781.9,493.2 1784.0,512.5 1786.2,526.1 1788.4,539.1 1790.5,548.1 1792.7,551.0 1794.9,559.9 1797.0,563.1 1799.2,565.0 1801.4,570.4 1803.5,571.6 1805.7,571.8 1807.9,576.6 1810.0,574.5 1812.2,575.1 1814.3,575.8 1816.5,575.3 1818.7,576.3 1820.8,574.9 1823.0,576.8 1825.2,576.0 1827.3,575.9 1829.5,577.2 1831.7,574.3 1833.8,575.9 1836.0,576.9 1838.1,577.4 1840.3,575.8 1842.5,575.4 1844.6,577.4 1846.8,573.9 1849.0,577.8 1851.1,574.1 1853.3,575.1 1855.5,577.8 1857.6,576.5 1859.8,575.5 1862.0,578.4 1864.1,577.2 1866.3,576.1 1868.4,577.7 1870.6,577.5 1872.8,576.7 1874.9,578.0 1877.1,577.7 1879.3,575.2 1881.4,577.4 1883.6,577.5 1885.8,577.8 1887.9,576.0 1890.1,578.5 1892.2,575.2 1894.4,576.6 1896.6,576.9 1898.7,577.4 1900.9,577.1 1903.1,577.6 1905.2,578.1 1907.4,580.0 1909.6,576.9 1911.7,578.3 1913.9,577.2 1916.1,577.4 1918.2,576.5 1920.4,576.9 1922.5,579.3 1924.7,577.5 1926.9,578.0 1929.0,576.0 1931.2,578.4 1933.4,578.4 1935.5,578.2 1937.7,579.2 1939.9,577.8 1942.0,577.0 1944.2,578.5 1946.3,578.5 1948.5,580.2 1950.7,577.4 1952.8,578.1 1955.0,579.8 1957.2,577.9 1959.3,580.7 1961.5,580.7 1963.7,578.2 1965.8,579.0 1968.0,579.4 1970.2,577.2 1972.3,576.9 1974.5,579.5 1976.6,579.0 1978.8,577.0 1981.0,576.4 1983.1,575.3 1985.3,574.6 1987.5,577.3 1989.6,576.3 1991.8,575.4 1994.0,573.6 1996.1,574.4 1998.3,575.9 2000.4,574.3 2002.6,576.4 2004.8,575.9 2006.9,574.3 2009.1,578.1 2011.3,576.7 2013.4,575.3 2015.6,577.8 2017.8,576.3 2019.9,579.5 2022.1,577.9 2024.3,578.3 2026.4,579.9 2028.6,576.2 2030.7,578.7 2032.9,579.8 2035.1,579.2 2037.2,577.2 2039.4,579.0 2041.6,580.8 2043.7,577.3 2045.9,577.8 2048.1,579.4 2050.2,578.5 2052.4,578.3 2054.5,580.9 2056.7,577.7 2058.9,579.8 2061.0,576.9 2063.2,575.9 2065.4,578.5 2067.5,579.6 2069.7,578.0 2071.9,580.9 2074.0,578.7 2076.2,579.4 2078.4,579.0 2080.5,577.2 2082.7,580.3 2084.8,580.6 2087.0,580.5 2089.2,580.3 2091.3,580.4 2093.5,579.9 2095.7,580.4 2097.8,579.1 2100.0,577.7 2102.2,579.4 2104.3,580.0 2106.5,577.7 2108.6,578.7 2110.8,580.2 2113.0,578.2 2115.1,581.4 2117.3,579.6 2119.5,580.5 2121.6,580.0 2123.8,580.3 2126.0,579.1 2128.1,577.8 2130.3,577.0 2132.5,576.7 2134.6,577.7 2136.8,576.2 2138.9,578.4 2141.1,577.4 2143.3,577.9 2145.4,577.7 2147.6,579.8 2149.8,577.9 2151.9,577.7 2154.1,581.0 2156.3,578.4 2158.4,580.7 2160.6,578.2 2162.7,578.6 2164.9,579.1 2167.1,576.9 2169.2,580.9 2171.4,581.2 2173.6,578.2 2175.7,580.3 2177.9,579.2 2180.1,578.2 2182.2,581.1 2184.4,577.5 2186.6,578.8 2188.7,580.2 2190.9,578.6 2193.0,579.5 2195.2,577.1 2197.4,578.6 2199.5,579.0 2201.7,577.2 2203.9,577.8 2206.0,578.0 2208.2,578.5 2210.4,579.2 2212.5,578.5 2214.7,576.7 2216.8,579.0 2219.0,580.7 2221.2,578.9 2223.3,578.4 2225.5,578.9 2227.7,579.7 2229.8,577.1 2232.0,581.1 2234.2,578.5 2236.3,581.5 2238.5,578.0 2240.7,577.6 2242.8,579.2 2245.0,580.3 2247.1,579.6 2249.3,579.3 2251.5,579.4 2253.6,579.3 2255.8,580.5 2258.0,578.9 2260.1,579.9 2262.3,578.3 2264.5,578.8 2266.6,578.0 2268.8,578.7 2270.9,578.3 2273.1,577.0 2275.3,580.4 2277.4,579.6 2279.6,579.8 2281.8,581.7 2283.9,576.3 2286.1,579.6 2288.3,579.3 2290.4,580.6 2292.6,578.3 2294.8,578.4 2296.9,577.6 2299.1,580.0 2301.2,581.6 2303.4,578.1 2305.6,579.3 2307.7,579.5 2309.9,578.2 2312.1,576.5 2314.2,580.3 2316.4,576.9 2318.6,580.6 2320.7,577.4 2322.9,580.4 2325.0,580.9 2327.2,578.5 2329.4,577.6 2331.5,578.9 2333.7,579.1 2335.9,577.6 2338.0,578.7 2340.2,580.3 2342.4,580.0 2344.5,580.7 2346.7,577.2 2348.9,578.0 2351.0,579.0 2353.2,579.0 2355.3,580.3 2357.5,577.5 2359.7,581.3 2361.8,580.6 2364.0,580.2 2366.2,578.7 2368.3,577.1 2370.5,577.3 2372.7,580.4 2373.0,579.0"/>
<polyline class="c" stroke="#6B399C" points="1282.0,356.2 1284.2,353.4 1286.3,355.1 1288.5,353.7 1290.7,352.8 1292.8,354.0 1295.0,352.4 1297.1,353.9 1299.3,354.3 1301.5,353.2 1303.6,353.8 1305.8,354.5 1308.0,354.3 1310.1,352.8 1312.3,354.5 1314.5,353.3 1316.6,353.1 1318.8,354.0 1321.0,353.8 1323.1,355.4 1325.3,354.5 1327.4,353.7 1329.6,357.1 1331.8,355.9 1333.9,351.7 1336.1,352.3 1338.3,352.9 1340.4,355.8 1342.6,352.8 1344.8,354.2 1346.9,353.9 1349.1,355.7 1351.2,352.9 1353.4,352.8 1355.6,351.1 1357.7,353.5 1359.9,353.7 1362.1,354.9 1364.2,353.9 1366.4,354.2 1368.6,355.7 1370.7,356.9 1372.9,354.2 1375.1,355.0 1377.2,353.0 1379.4,356.4 1381.5,352.9 1383.7,355.0 1385.9,355.0 1388.0,353.3 1390.2,352.8 1392.4,354.2 1394.5,355.7 1396.7,352.5 1398.9,353.8 1401.0,351.7 1403.2,354.1 1405.3,352.8 1407.5,353.6 1409.7,354.3 1411.8,353.4 1414.0,355.3 1416.2,355.8 1418.3,355.9 1420.5,354.2 1422.7,353.7 1424.8,355.3 1427.0,355.7 1429.2,353.6 1431.3,354.3 1433.5,354.0 1435.6,355.3 1437.8,353.6 1440.0,351.7 1442.1,355.1 1444.3,355.6 1446.5,354.6 1448.6,355.3 1450.8,353.4 1453.0,350.2 1455.1,351.0 1457.3,350.0 1459.4,350.6 1461.6,355.1 1463.8,354.1 1465.9,351.6 1468.1,355.1 1470.3,354.4 1472.4,353.6 1474.6,353.7 1476.8,355.0 1478.9,355.2 1481.1,355.2 1483.3,355.9 1485.4,353.5 1487.6,356.5 1489.7,357.0 1491.9,354.5 1494.1,355.0 1496.2,355.0 1498.4,356.0 1500.6,352.6 1502.7,355.8 1504.9,353.6 1507.1,354.4 1509.2,354.9 1511.4,355.2 1513.5,354.1 1515.7,355.0 1517.9,355.9 1520.0,354.7 1522.2,356.1 1524.4,354.0 1526.5,351.7 1528.7,354.2 1530.9,354.3 1533.0,354.2 1535.2,352.2 1537.4,352.5 1539.5,353.7 1541.7,354.3 1543.8,354.0 1546.0,355.9 1548.2,355.0 1550.3,354.6 1552.5,354.0 1554.7,352.2 1556.8,354.8 1559.0,353.9 1561.2,354.8 1563.3,356.8 1565.5,354.3 1567.6,357.0 1569.8,353.5 1572.0,353.5 1574.1,352.9 1576.3,354.5 1578.5,351.6 1580.6,354.6 1582.8,354.9 1585.0,355.3 1587.1,354.7 1589.3,355.3 1591.5,355.2 1593.6,354.4 1595.8,354.7 1597.9,353.6 1600.1,354.0 1602.3,356.2 1604.4,352.7 1606.6,355.7 1608.8,355.3 1610.9,352.1 1613.1,352.0 1615.3,353.4 1617.4,354.7 1619.6,353.6 1621.7,355.1 1623.9,353.9 1626.1,352.3 1628.2,354.8 1630.4,355.1 1632.6,353.7 1634.7,353.7 1636.9,352.2 1639.1,355.1 1641.2,356.3 1643.4,354.1 1645.6,352.1 1647.7,352.1 1649.9,353.9 1652.0,352.2 1654.2,353.2 1656.4,352.3 1658.5,354.1 1660.7,352.3 1662.9,355.1 1665.0,355.9 1667.2,355.9 1669.4,351.8 1671.5,355.5 1673.7,354.4 1675.8,354.6 1678.0,354.5 1680.2,354.7 1682.3,354.1 1684.5,353.4 1686.7,352.7 1688.8,351.6 1691.0,353.6 1693.2,349.8 1695.3,345.7 1697.5,343.4 1699.7,339.1 1701.8,338.0 1704.0,337.8 1706.1,334.9 1708.3,335.0 1710.5,335.1 1712.6,334.2 1714.8,330.4 1717.0,321.6 1719.1,315.9 1721.3,309.8 1723.5,303.4 1725.6,293.3 1727.8,285.6 1729.9,277.9 1732.1,259.7 1734.3,234.8 1736.4,209.2 1738.6,187.2 1740.8,175.3 1742.9,166.8 1744.9,160.3 1745.1,159.6 1747.3,177.7 1749.4,189.4 1751.6,204.3 1753.8,215.4 1755.9,225.8 1758.1,238.1 1760.2,255.9 1762.4,270.1 1764.6,285.1 1766.7,299.0 1768.9,308.6 1771.1,318.5 1773.2,330.9 1775.4,338.5 1777.6,343.6 1779.7,344.5 1781.9,345.6 1784.0,346.6 1786.2,346.0 1788.4,348.1 1790.5,348.1 1792.7,348.4 1794.9,348.5 1797.0,349.7 1799.2,348.6 1801.4,347.9 1803.5,348.9 1805.7,347.5 1807.9,350.3 1810.0,352.3 1812.2,349.7 1814.3,351.8 1816.5,353.3 1818.7,350.5 1820.8,351.7 1823.0,352.1 1825.2,353.5 1827.3,352.0 1829.5,350.7 1831.7,351.0 1833.8,350.6 1836.0,351.8 1838.1,353.0 1840.3,353.1 1842.5,351.7 1844.6,353.2 1846.8,350.3 1849.0,352.6 1851.1,354.6 1853.3,352.8 1855.5,352.5 1857.6,354.9 1859.8,355.1 1862.0,353.5 1864.1,350.9 1866.3,354.6 1868.4,356.3 1870.6,352.8 1872.8,356.7 1874.9,352.9 1877.1,355.5 1879.3,355.4 1881.4,355.2 1883.6,353.1 1885.8,355.2 1887.9,352.3 1890.1,354.2 1892.2,354.1 1894.4,354.3 1896.6,352.7 1898.7,353.2 1900.9,351.9 1903.1,356.7 1905.2,354.6 1907.4,353.4 1909.6,354.7 1911.7,354.3 1913.9,356.5 1916.1,353.6 1918.2,355.9 1920.4,352.5 1922.5,354.3 1924.7,355.1 1926.9,354.1 1929.0,355.8 1931.2,354.7 1933.4,353.7 1935.5,353.9 1937.7,356.3 1939.9,354.6 1942.0,354.1 1944.2,352.5 1946.3,352.7 1948.5,353.4 1950.7,355.5 1952.8,356.2 1955.0,353.8 1957.2,357.3 1959.3,354.9 1961.5,354.8 1963.7,354.9 1965.8,353.4 1968.0,355.7 1970.2,354.4 1972.3,354.8 1974.5,351.5 1976.6,351.5 1978.8,354.0 1981.0,354.5 1983.1,351.9 1985.3,351.7 1987.5,351.9 1989.6,351.3 1991.8,350.7 1994.0,351.0 1996.1,354.6 1998.3,352.5 2000.4,354.7 2002.6,352.0 2004.8,355.1 2006.9,356.2 2009.1,354.3 2011.3,356.3 2013.4,355.4 2015.6,357.6 2017.8,354.8 2019.9,354.8 2022.1,353.7 2024.3,354.9 2026.4,356.1 2028.6,354.1 2030.7,356.9 2032.9,354.4 2035.1,355.4 2037.2,356.9 2039.4,354.3 2041.6,355.3 2043.7,354.8 2045.9,354.1 2048.1,355.9 2050.2,352.3 2052.4,353.7 2054.5,354.9 2056.7,355.5 2058.9,354.0 2061.0,353.3 2063.2,357.3 2065.4,355.9 2067.5,355.9 2069.7,355.3 2071.9,356.7 2074.0,355.6 2076.2,353.4 2078.4,355.1 2080.5,356.5 2082.7,352.9 2084.8,354.3 2087.0,355.2 2089.2,355.1 2091.3,354.3 2093.5,355.4 2095.7,355.6 2097.8,357.6 2100.0,354.1 2102.2,355.1 2104.3,353.7 2106.5,356.6 2108.6,355.7 2110.8,355.9 2113.0,355.8 2115.1,357.5 2117.3,354.7 2119.5,355.5 2121.6,355.9 2123.8,353.7 2126.0,353.0 2128.1,356.3 2130.3,355.3 2132.5,356.2 2134.6,355.1 2136.8,354.9 2138.9,354.9 2141.1,355.4 2143.3,354.7 2145.4,354.6 2147.6,356.9 2149.8,356.6 2151.9,355.1 2154.1,357.3 2156.3,354.5 2158.4,356.4 2160.6,356.6 2162.7,354.9 2164.9,357.4 2167.1,353.7 2169.2,355.2 2171.4,354.5 2173.6,357.1 2175.7,355.7 2177.9,354.2 2180.1,355.0 2182.2,354.3 2184.4,356.7 2186.6,354.2 2188.7,354.2 2190.9,355.7 2193.0,354.6 2195.2,355.5 2197.4,355.4 2199.5,354.5 2201.7,353.2 2203.9,352.5 2206.0,355.4 2208.2,354.8 2210.4,355.9 2212.5,355.4 2214.7,355.1 2216.8,354.7 2219.0,356.3 2221.2,352.5 2223.3,352.9 2225.5,355.8 2227.7,355.0 2229.8,354.1 2232.0,354.5 2234.2,356.2 2236.3,355.8 2238.5,355.4 2240.7,352.9 2242.8,356.5 2245.0,354.3 2247.1,356.0 2249.3,355.9 2251.5,353.0 2253.6,353.4 2255.8,353.2 2258.0,353.9 2260.1,356.1 2262.3,356.7 2264.5,355.5 2266.6,354.9 2268.8,354.2 2270.9,357.2 2273.1,355.2 2275.3,354.1 2277.4,355.2 2279.6,356.0 2281.8,354.7 2283.9,354.6 2286.1,353.2 2288.3,355.9 2290.4,354.2 2292.6,356.0 2294.8,355.4 2296.9,355.5 2299.1,354.4 2301.2,355.8 2303.4,353.7 2305.6,355.4 2307.7,357.3 2309.9,358.0 2312.1,353.8 2314.2,355.9 2316.4,355.3 2318.6,354.8 2320.7,356.3 2322.9,353.5 2325.0,356.0 2327.2,354.1 2329.4,357.1 2331.5,355.7 2333.7,358.0 2335.9,356.9 2338.0,355.6 2340.2,353.5 2342.4,352.6 2344.5,355.6 2346.7,354.9 2348.9,356.6 2351.0,354.1 2353.2,355.4 2355.3,354.4 2357.5,355.8 2359.7,355.8 2361.8,353.4 2364.0,355.3 2366.2,356.7 2368.3,355.8 2370.5,357.0 2372.7,354.2 2373.0,353.0"/>
</g>
<line x1="1777.2" y1="121.2" x2="1777.2" y2="1040" stroke="#000" stroke-width="7.4" stroke-dasharray="11.7 25.97"/>
<text class="b" font-size="51.85" transform="translate(78.06,1088.98) scale(1.0146,1)">20</text>
<text class="b" font-size="51.85" transform="translate(258.44,1088.98) scale(1.0091,1)">30</text>
<text class="b" font-size="51.85" transform="translate(439.86,1088.98) scale(0.9826,1)">40</text>
<text class="b" font-size="51.85" transform="translate(618.70,1088.98) scale(1.0118,1)">50</text>
<text class="b" font-size="51.85" transform="translate(799.97,1088.98) scale(1.0064,1)">60</text>
<text class="b" font-size="51.85" transform="translate(979.42,1088.98) scale(1.0314,1)">70</text>
<text class="b" font-size="51.85" transform="translate(1160.31,1088.98) scale(1.0037,1)">80</text>
<text class="b" font-size="52.04" transform="translate(1258.76,1088.98) scale(1.0108,1)">25</text>
<text class="b" font-size="52.04" transform="translate(1475.38,1088.98) scale(1.0027,1)">26</text>
<text class="b" font-size="52.83" transform="translate(1691.29,1089.50) scale(0.9825,1)">27</text>
<text class="b" font-size="51.85" transform="translate(1908.38,1088.98) scale(1.0091,1)">28</text>
<text class="b" font-size="52.04" transform="translate(2123.57,1088.98) scale(1.0081,1)">29</text>
<text class="b" font-size="51.85" transform="translate(2340.54,1088.98) scale(1.0091,1)">30</text>
<text class="b" font-size="57.48" transform="translate(961.59,344.43) scale(0.9374,1)">T=560°C</text>
<text class="b" font-size="56.59" transform="translate(961.59,567.53) scale(0.9521,1)">T=540°C</text>
<text class="b" font-size="56.59" transform="translate(961.59,779.93) scale(0.9521,1)">T=520°C</text>
<text class="b" font-size="57.04" transform="translate(961.59,977.23) scale(0.9447,1)">T=500°C</text>
<text class="b" font-size="56.89" transform="translate(2140.69,336.53) scale(0.9495,1)">T=560°C</text>
<text class="b" font-size="57.48" transform="translate(2140.69,560.53) scale(0.9397,1)">T=540°C</text>
<text class="b" font-size="56.89" transform="translate(2140.69,785.33) scale(0.9495,1)">T=520°C</text>
<text class="b" font-size="56.89" transform="translate(2140.69,972.53) scale(0.9495,1)">T=500°C</text>
<text class="b" font-size="75.25" transform="translate(1073.35,145.31) scale(1.0496,1)">(a)</text>
<text class="b" font-size="75.48" transform="translate(2240.09,147.76) scale(1.0341,1)">(b)</text>
<text class="cjk" font-size="44.71" transform="translate(135.26,158.69) scale(1.1748,1)">（</text>
<text class="b" font-size="54.64" transform="translate(193.07,160.50) scale(1.0143,1)">112</text>
<text class="cjk" font-size="44.71" transform="translate(278.14,158.69) scale(1.2371,1)">）</text>
<text class="cjk" font-size="45.56" transform="translate(448.86,289.51) scale(1.3284,1)">（</text>
<text class="b" font-size="55.41" transform="translate(513.09,291.85) scale(0.9825,1)">220</text>
<text class="cjk" font-size="46.42" transform="translate(597.99,289.44) scale(1.3488,1)">）</text>
<text class="cjk" font-size="44.71" transform="translate(607.46,322.89) scale(1.3538,1)">（</text>
<text class="b" font-size="55.17" transform="translate(669.26,324.95) scale(0.9868,1)">312</text>
<text class="cjk" font-size="44.71" transform="translate(754.74,322.89) scale(1.3460,1)">）</text>
<text class="cjk" font-size="45.88" transform="translate(1560.84,158.99) scale(1.2660,1)">（</text>
<text class="b" font-size="56.45" transform="translate(1624.17,160.90) scale(0.9805,1)">112</text>
<text class="cjk" font-size="45.88" transform="translate(1708.87,158.99) scale(1.2660,1)">）</text>
<text class="b" font-size="80.30" transform="translate(469.85,1161.50) scale(0.9512,1)">2</text>
<text class="r" font-size="79.01" transform="translate(508.97,1160.71) scale(1.1261,1)">θ</text>
<text class="b" font-size="68.63" transform="translate(560.48,1147.90) scale(1.0427,1)">(degree)</text>
<text class="b" font-size="80.30" transform="translate(1651.95,1161.50) scale(0.9512,1)">2</text>
<text class="r" font-size="79.01" transform="translate(1691.07,1160.71) scale(1.1261,1)">θ</text>
<text class="b" font-size="68.63" transform="translate(1742.58,1147.90) scale(1.0427,1)">(degree)</text>
<text class="b" font-size="81.69" transform="translate(78.82,771.05) rotate(-90) scale(1,0.9780)">Intensity</text>
<text class="b" font-size="71.75" transform="translate(79.67,444.73) rotate(-90) scale(1,0.9533)">(a.u.)</text>
<text class="b" font-size="81.69" transform="translate(1260.82,772.05) rotate(-90) scale(1,0.9780)">Intensity</text>
<text class="b" font-size="71.75" transform="translate(1261.67,445.73) rotate(-90) scale(1,0.9533)">(a.u.)</text>
</g>
</svg></body></html>
